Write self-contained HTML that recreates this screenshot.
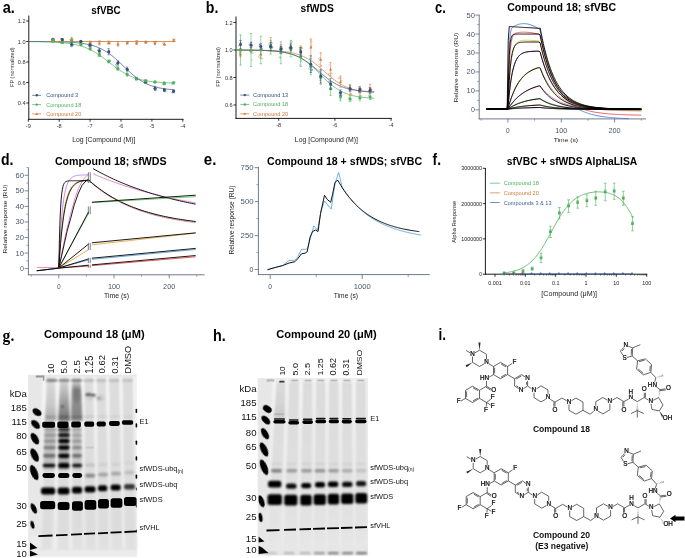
<!DOCTYPE html>
<html><head><meta charset="utf-8"><style>
html,body{margin:0;padding:0;background:#fff;}
svg{display:block;font-family:"Liberation Sans", sans-serif;will-change:transform;}
</style></head><body>
<svg width="685" height="558" viewBox="0 0 685 558">
<rect width="685" height="558" fill="#fff"/>
<text x="2.80" y="12.85" font-size="15.65" font-weight="bold" fill="#000" textLength="12.09" lengthAdjust="spacingAndGlyphs">a.</text>
<text x="205.80" y="12.85" font-size="16.48" font-weight="bold" fill="#000" textLength="12.58" lengthAdjust="spacingAndGlyphs">b.</text>
<text x="435.00" y="12.85" font-size="15.65" font-weight="bold" fill="#000" textLength="10.79" lengthAdjust="spacingAndGlyphs">c.</text>
<text x="0.90" y="165.30" font-size="15.86" font-weight="bold" fill="#000" textLength="12.48" lengthAdjust="spacingAndGlyphs">d.</text>
<text x="203.80" y="164.90" font-size="16.85" font-weight="bold" fill="#000" textLength="12.58" lengthAdjust="spacingAndGlyphs">e.</text>
<text x="432.60" y="164.60" font-size="16.55" font-weight="bold" fill="#000" textLength="8.51" lengthAdjust="spacingAndGlyphs">f.</text>
<text x="2.60" y="340.80" font-size="15.92" font-weight="bold" font-family="Liberation Serif, serif" fill="#000" textLength="11.70" lengthAdjust="spacingAndGlyphs">g.</text>
<text x="212.90" y="341.10" font-size="16.55" font-weight="bold" fill="#000" textLength="12.78" lengthAdjust="spacingAndGlyphs">h.</text>
<text x="438.50" y="340.10" font-size="15.72" font-weight="bold" fill="#000" textLength="7.51" lengthAdjust="spacingAndGlyphs">i.</text>
<text x="91.20" y="13.50" font-size="10.48" font-weight="bold" fill="#000" textLength="29.51" lengthAdjust="spacingAndGlyphs">sfVBC</text>
<text x="300.60" y="12.10" font-size="11.03" font-weight="bold" fill="#000" textLength="33.22" lengthAdjust="spacingAndGlyphs">sfWDS</text>
<text x="507.20" y="11.30" font-size="10.62" font-weight="bold" fill="#000" textLength="108.88" lengthAdjust="spacingAndGlyphs">Compound 18; sfVBC</text>
<text x="54.90" y="164.60" font-size="11.03" font-weight="bold" fill="#000" textLength="111.60" lengthAdjust="spacingAndGlyphs">Compound 18; sfWDS</text>
<text x="267.10" y="165.00" font-size="11.03" font-weight="bold" fill="#000" textLength="155.00" lengthAdjust="spacingAndGlyphs">Compound 18 + sfWDS; sfVBC</text>
<text x="506.70" y="165.20" font-size="11.03" font-weight="bold" fill="#000" textLength="130.59" lengthAdjust="spacingAndGlyphs">sfVBC + sfWDS AlphaLISA</text>
<text x="44.00" y="337.60" font-size="10.90" font-weight="bold" fill="#000" textLength="100.60" lengthAdjust="spacingAndGlyphs">Compound 18 (μM)</text>
<text x="276.20" y="338.10" font-size="10.90" font-weight="bold" fill="#000" textLength="100.60" lengthAdjust="spacingAndGlyphs">Compound 20 (μM)</text>
<line x1="28.80" y1="15.50" x2="28.80" y2="119.70" stroke="#000" stroke-width="0.9"/>
<line x1="28.40" y1="119.30" x2="183.60" y2="119.30" stroke="#000" stroke-width="0.9"/>
<line x1="26.20" y1="21.00" x2="28.80" y2="21.00" stroke="#000" stroke-width="0.8"/>
<text x="25.50" y="23.00" font-size="5.6" text-anchor="end" fill="#333">1.2</text>
<line x1="26.20" y1="41.50" x2="28.80" y2="41.50" stroke="#000" stroke-width="0.8"/>
<text x="25.50" y="43.50" font-size="5.6" text-anchor="end" fill="#333">1.0</text>
<line x1="26.20" y1="62.00" x2="28.80" y2="62.00" stroke="#000" stroke-width="0.8"/>
<text x="25.50" y="64.00" font-size="5.6" text-anchor="end" fill="#333">0.8</text>
<line x1="26.20" y1="82.50" x2="28.80" y2="82.50" stroke="#000" stroke-width="0.8"/>
<text x="25.50" y="84.50" font-size="5.6" text-anchor="end" fill="#333">0.6</text>
<line x1="26.20" y1="103.00" x2="28.80" y2="103.00" stroke="#000" stroke-width="0.8"/>
<text x="25.50" y="105.00" font-size="5.6" text-anchor="end" fill="#333">0.4</text>
<line x1="28.30" y1="119.30" x2="28.30" y2="121.70" stroke="#000" stroke-width="0.8"/>
<text x="28.30" y="127.80" font-size="5.6" text-anchor="middle" fill="#333">-9</text>
<line x1="59.20" y1="119.30" x2="59.20" y2="121.70" stroke="#000" stroke-width="0.8"/>
<text x="59.20" y="127.80" font-size="5.6" text-anchor="middle" fill="#333">-8</text>
<line x1="90.10" y1="119.30" x2="90.10" y2="121.70" stroke="#000" stroke-width="0.8"/>
<text x="90.10" y="127.80" font-size="5.6" text-anchor="middle" fill="#333">-7</text>
<line x1="121.00" y1="119.30" x2="121.00" y2="121.70" stroke="#000" stroke-width="0.8"/>
<text x="121.00" y="127.80" font-size="5.6" text-anchor="middle" fill="#333">-6</text>
<line x1="151.90" y1="119.30" x2="151.90" y2="121.70" stroke="#000" stroke-width="0.8"/>
<text x="151.90" y="127.80" font-size="5.6" text-anchor="middle" fill="#333">-5</text>
<line x1="182.80" y1="119.30" x2="182.80" y2="121.70" stroke="#000" stroke-width="0.8"/>
<text x="182.80" y="127.80" font-size="5.6" text-anchor="middle" fill="#333">-4</text>
<text x="14.40" y="67.20" font-size="5.6" text-anchor="middle" fill="#333" transform="rotate(-90 14.4 67.2)">FP (normalized)</text>
<text x="72.20" y="142.10" font-size="7.59" fill="#222" textLength="63.21" lengthAdjust="spacingAndGlyphs">Log [Compound (M)]</text>
<path d="M28.30,41.60 L30.12,41.61 L31.93,41.63 L33.75,41.65 L35.56,41.67 L37.38,41.70 L39.19,41.72 L41.01,41.76 L42.82,41.79 L44.64,41.84 L46.45,41.88 L48.27,41.94 L50.08,42.00 L51.90,42.07 L53.72,42.16 L55.53,42.25 L57.35,42.36 L59.16,42.48 L60.98,42.61 L62.79,42.77 L64.61,42.95 L66.42,43.15 L68.24,43.38 L70.05,43.64 L71.87,43.93 L73.68,44.26 L75.50,44.63 L77.32,45.04 L79.13,45.51 L80.95,46.02 L82.76,46.60 L84.58,47.24 L86.39,47.94 L88.21,48.71 L90.02,49.55 L91.84,50.47 L93.65,51.46 L95.47,52.52 L97.28,53.65 L99.10,54.85 L100.91,56.11 L102.73,57.42 L104.55,58.78 L106.36,60.16 L108.18,61.57 L109.99,62.98 L111.81,64.39 L113.62,65.78 L115.44,67.14 L117.25,68.46 L119.07,69.73 L120.88,70.94 L122.70,72.09 L124.51,73.16 L126.33,74.17 L128.15,75.10 L129.96,75.95 L131.78,76.74 L133.59,77.46 L135.41,78.10 L137.22,78.69 L139.04,79.22 L140.85,79.69 L142.67,80.12 L144.48,80.50 L146.30,80.83 L148.11,81.13 L149.93,81.39 L151.75,81.63 L153.56,81.83 L155.38,82.02 L157.19,82.18 L159.01,82.32 L160.82,82.44 L162.64,82.55 L164.45,82.65 L166.27,82.73 L168.08,82.80 L169.90,82.87 L171.71,82.93 L173.53,82.98" stroke="#4cb05a" stroke-width="0.7" fill="none"/>
<path d="M28.30,41.53 L30.12,41.53 L31.93,41.54 L33.75,41.54 L35.56,41.55 L37.38,41.56 L39.19,41.57 L41.01,41.58 L42.82,41.59 L44.64,41.60 L46.45,41.62 L48.27,41.64 L50.08,41.66 L51.90,41.68 L53.72,41.71 L55.53,41.74 L57.35,41.78 L59.16,41.82 L60.98,41.87 L62.79,41.92 L64.61,41.99 L66.42,42.06 L68.24,42.14 L70.05,42.24 L71.87,42.35 L73.68,42.48 L75.50,42.63 L77.32,42.79 L79.13,42.99 L80.95,43.20 L82.76,43.45 L84.58,43.74 L86.39,44.06 L88.21,44.43 L90.02,44.85 L91.84,45.32 L93.65,45.85 L95.47,46.45 L97.28,47.12 L99.10,47.86 L100.91,48.69 L102.73,49.61 L104.55,50.62 L106.36,51.72 L108.18,52.92 L109.99,54.21 L111.81,55.59 L113.62,57.06 L115.44,58.61 L117.25,60.23 L119.07,61.90 L120.88,63.62 L122.70,65.36 L124.51,67.10 L126.33,68.84 L128.15,70.55 L129.96,72.21 L131.78,73.82 L133.59,75.36 L135.41,76.82 L137.22,78.19 L139.04,79.47 L140.85,80.65 L142.67,81.74 L144.48,82.73 L146.30,83.64 L148.11,84.45 L149.93,85.19 L151.75,85.85 L153.56,86.43 L155.38,86.95 L157.19,87.42 L159.01,87.83 L160.82,88.19 L162.64,88.51 L164.45,88.79 L166.27,89.03 L168.08,89.24 L169.90,89.43 L171.71,89.60 L173.53,89.74" stroke="#34507f" stroke-width="0.7" fill="none"/>
<path d="M47.50,41.50 L175.50,41.50" stroke="#d0773a" stroke-width="0.8" fill="none"/>
<line x1="53.02" y1="38.42" x2="53.02" y2="40.48" stroke="#d0773a" stroke-width="0.55"/>
<line x1="51.82" y1="38.42" x2="54.22" y2="38.42" stroke="#d0773a" stroke-width="0.55"/>
<line x1="51.82" y1="40.48" x2="54.22" y2="40.48" stroke="#d0773a" stroke-width="0.55"/>
<circle cx="52.18" cy="39.37" r="0.9" fill="none" stroke="#d0773a" stroke-width="0.45" opacity="0.8"/>
<circle cx="52.60" cy="39.26" r="0.6" fill="#d0773a" opacity="0.75"/>
<circle cx="53.42" cy="40.25" r="0.6" fill="#d0773a" opacity="0.75"/>
<path d="M51.52,40.65 L54.52,40.65 L53.02,38.05Z" fill="#d0773a"/>
<line x1="62.29" y1="40.48" x2="62.29" y2="42.52" stroke="#d0773a" stroke-width="0.55"/>
<line x1="61.09" y1="40.48" x2="63.49" y2="40.48" stroke="#d0773a" stroke-width="0.55"/>
<line x1="61.09" y1="42.52" x2="63.49" y2="42.52" stroke="#d0773a" stroke-width="0.55"/>
<circle cx="60.73" cy="40.88" r="0.9" fill="none" stroke="#d0773a" stroke-width="0.45" opacity="0.8"/>
<circle cx="61.52" cy="41.99" r="0.6" fill="#d0773a" opacity="0.75"/>
<circle cx="63.88" cy="41.55" r="0.6" fill="#d0773a" opacity="0.75"/>
<path d="M60.79,42.70 L63.79,42.70 L62.29,40.10Z" fill="#d0773a"/>
<line x1="71.56" y1="37.40" x2="71.56" y2="41.50" stroke="#d0773a" stroke-width="0.55"/>
<line x1="70.36" y1="37.40" x2="72.76" y2="37.40" stroke="#d0773a" stroke-width="0.55"/>
<line x1="70.36" y1="41.50" x2="72.76" y2="41.50" stroke="#d0773a" stroke-width="0.55"/>
<circle cx="72.64" cy="39.54" r="0.9" fill="none" stroke="#d0773a" stroke-width="0.45" opacity="0.8"/>
<circle cx="72.01" cy="40.74" r="0.6" fill="#d0773a" opacity="0.75"/>
<circle cx="71.99" cy="38.09" r="0.6" fill="#d0773a" opacity="0.75"/>
<path d="M70.06,40.65 L73.06,40.65 L71.56,38.05Z" fill="#d0773a"/>
<line x1="80.83" y1="40.48" x2="80.83" y2="42.52" stroke="#d0773a" stroke-width="0.55"/>
<line x1="79.63" y1="40.48" x2="82.03" y2="40.48" stroke="#d0773a" stroke-width="0.55"/>
<line x1="79.63" y1="42.52" x2="82.03" y2="42.52" stroke="#d0773a" stroke-width="0.55"/>
<circle cx="80.90" cy="41.05" r="0.9" fill="none" stroke="#d0773a" stroke-width="0.45" opacity="0.8"/>
<circle cx="81.38" cy="42.30" r="0.6" fill="#d0773a" opacity="0.75"/>
<circle cx="81.66" cy="41.33" r="0.6" fill="#d0773a" opacity="0.75"/>
<path d="M79.33,42.70 L82.33,42.70 L80.83,40.10Z" fill="#d0773a"/>
<line x1="90.10" y1="40.99" x2="90.10" y2="44.06" stroke="#d0773a" stroke-width="0.55"/>
<line x1="88.90" y1="40.99" x2="91.30" y2="40.99" stroke="#d0773a" stroke-width="0.55"/>
<line x1="88.90" y1="44.06" x2="91.30" y2="44.06" stroke="#d0773a" stroke-width="0.55"/>
<circle cx="89.46" cy="43.82" r="0.9" fill="none" stroke="#d0773a" stroke-width="0.45" opacity="0.8"/>
<circle cx="91.27" cy="42.60" r="0.6" fill="#d0773a" opacity="0.75"/>
<circle cx="90.80" cy="41.48" r="0.6" fill="#d0773a" opacity="0.75"/>
<path d="M88.60,43.73 L91.60,43.73 L90.10,41.12Z" fill="#d0773a"/>
<line x1="99.37" y1="40.99" x2="99.37" y2="45.09" stroke="#d0773a" stroke-width="0.55"/>
<line x1="98.17" y1="40.99" x2="100.57" y2="40.99" stroke="#d0773a" stroke-width="0.55"/>
<line x1="98.17" y1="45.09" x2="100.57" y2="45.09" stroke="#d0773a" stroke-width="0.55"/>
<circle cx="100.06" cy="41.48" r="0.9" fill="none" stroke="#d0773a" stroke-width="0.45" opacity="0.8"/>
<circle cx="99.03" cy="41.93" r="0.6" fill="#d0773a" opacity="0.75"/>
<circle cx="99.19" cy="41.43" r="0.6" fill="#d0773a" opacity="0.75"/>
<path d="M97.87,44.24 L100.87,44.24 L99.37,41.64Z" fill="#d0773a"/>
<line x1="108.64" y1="40.99" x2="108.64" y2="44.06" stroke="#d0773a" stroke-width="0.55"/>
<line x1="107.44" y1="40.99" x2="109.84" y2="40.99" stroke="#d0773a" stroke-width="0.55"/>
<line x1="107.44" y1="44.06" x2="109.84" y2="44.06" stroke="#d0773a" stroke-width="0.55"/>
<circle cx="109.85" cy="43.64" r="0.9" fill="none" stroke="#d0773a" stroke-width="0.45" opacity="0.8"/>
<circle cx="107.48" cy="43.31" r="0.6" fill="#d0773a" opacity="0.75"/>
<circle cx="110.13" cy="42.70" r="0.6" fill="#d0773a" opacity="0.75"/>
<path d="M107.14,43.73 L110.14,43.73 L108.64,41.12Z" fill="#d0773a"/>
<line x1="117.91" y1="42.01" x2="117.91" y2="46.11" stroke="#d0773a" stroke-width="0.55"/>
<line x1="116.71" y1="42.01" x2="119.11" y2="42.01" stroke="#d0773a" stroke-width="0.55"/>
<line x1="116.71" y1="46.11" x2="119.11" y2="46.11" stroke="#d0773a" stroke-width="0.55"/>
<circle cx="118.32" cy="44.80" r="0.9" fill="none" stroke="#d0773a" stroke-width="0.45" opacity="0.8"/>
<circle cx="117.93" cy="44.48" r="0.6" fill="#d0773a" opacity="0.75"/>
<circle cx="117.43" cy="43.75" r="0.6" fill="#d0773a" opacity="0.75"/>
<path d="M116.41,45.26 L119.41,45.26 L117.91,42.66Z" fill="#d0773a"/>
<line x1="127.18" y1="42.01" x2="127.18" y2="44.06" stroke="#d0773a" stroke-width="0.55"/>
<line x1="125.98" y1="42.01" x2="128.38" y2="42.01" stroke="#d0773a" stroke-width="0.55"/>
<line x1="125.98" y1="44.06" x2="128.38" y2="44.06" stroke="#d0773a" stroke-width="0.55"/>
<circle cx="127.45" cy="42.29" r="0.9" fill="none" stroke="#d0773a" stroke-width="0.45" opacity="0.8"/>
<circle cx="127.76" cy="42.25" r="0.6" fill="#d0773a" opacity="0.75"/>
<circle cx="128.32" cy="42.13" r="0.6" fill="#d0773a" opacity="0.75"/>
<path d="M125.68,44.24 L128.68,44.24 L127.18,41.64Z" fill="#d0773a"/>
<line x1="136.45" y1="40.48" x2="136.45" y2="44.58" stroke="#d0773a" stroke-width="0.55"/>
<line x1="135.25" y1="40.48" x2="137.65" y2="40.48" stroke="#d0773a" stroke-width="0.55"/>
<line x1="135.25" y1="44.58" x2="137.65" y2="44.58" stroke="#d0773a" stroke-width="0.55"/>
<circle cx="137.00" cy="43.77" r="0.9" fill="none" stroke="#d0773a" stroke-width="0.45" opacity="0.8"/>
<circle cx="137.60" cy="40.81" r="0.6" fill="#d0773a" opacity="0.75"/>
<circle cx="137.75" cy="42.27" r="0.6" fill="#d0773a" opacity="0.75"/>
<path d="M134.95,43.73 L137.95,43.73 L136.45,41.12Z" fill="#d0773a"/>
<line x1="145.72" y1="40.99" x2="145.72" y2="43.04" stroke="#d0773a" stroke-width="0.55"/>
<line x1="144.52" y1="40.99" x2="146.92" y2="40.99" stroke="#d0773a" stroke-width="0.55"/>
<line x1="144.52" y1="43.04" x2="146.92" y2="43.04" stroke="#d0773a" stroke-width="0.55"/>
<circle cx="146.40" cy="42.55" r="0.9" fill="none" stroke="#d0773a" stroke-width="0.45" opacity="0.8"/>
<circle cx="146.78" cy="41.88" r="0.6" fill="#d0773a" opacity="0.75"/>
<circle cx="145.03" cy="42.82" r="0.6" fill="#d0773a" opacity="0.75"/>
<path d="M144.22,43.21 L147.22,43.21 L145.72,40.61Z" fill="#d0773a"/>
<line x1="154.99" y1="41.50" x2="154.99" y2="44.58" stroke="#d0773a" stroke-width="0.55"/>
<line x1="153.79" y1="41.50" x2="156.19" y2="41.50" stroke="#d0773a" stroke-width="0.55"/>
<line x1="153.79" y1="44.58" x2="156.19" y2="44.58" stroke="#d0773a" stroke-width="0.55"/>
<circle cx="156.12" cy="41.68" r="0.9" fill="none" stroke="#d0773a" stroke-width="0.45" opacity="0.8"/>
<circle cx="153.67" cy="42.21" r="0.6" fill="#d0773a" opacity="0.75"/>
<circle cx="154.70" cy="44.00" r="0.6" fill="#d0773a" opacity="0.75"/>
<path d="M153.49,44.24 L156.49,44.24 L154.99,41.64Z" fill="#d0773a"/>
<line x1="164.26" y1="43.04" x2="164.26" y2="45.09" stroke="#d0773a" stroke-width="0.55"/>
<line x1="163.06" y1="43.04" x2="165.46" y2="43.04" stroke="#d0773a" stroke-width="0.55"/>
<line x1="163.06" y1="45.09" x2="165.46" y2="45.09" stroke="#d0773a" stroke-width="0.55"/>
<circle cx="163.60" cy="43.57" r="0.9" fill="none" stroke="#d0773a" stroke-width="0.45" opacity="0.8"/>
<circle cx="165.45" cy="44.90" r="0.6" fill="#d0773a" opacity="0.75"/>
<circle cx="164.63" cy="44.90" r="0.6" fill="#d0773a" opacity="0.75"/>
<path d="M162.76,45.26 L165.76,45.26 L164.26,42.66Z" fill="#d0773a"/>
<line x1="173.53" y1="39.24" x2="173.53" y2="41.70" stroke="#d0773a" stroke-width="0.55"/>
<line x1="172.33" y1="39.24" x2="174.73" y2="39.24" stroke="#d0773a" stroke-width="0.55"/>
<line x1="172.33" y1="41.70" x2="174.73" y2="41.70" stroke="#d0773a" stroke-width="0.55"/>
<circle cx="174.23" cy="40.85" r="0.9" fill="none" stroke="#d0773a" stroke-width="0.45" opacity="0.8"/>
<circle cx="174.75" cy="39.41" r="0.6" fill="#d0773a" opacity="0.75"/>
<circle cx="173.55" cy="39.37" r="0.6" fill="#d0773a" opacity="0.75"/>
<path d="M172.03,41.68 L175.03,41.68 L173.53,39.08Z" fill="#d0773a"/>
<line x1="53.02" y1="38.42" x2="53.02" y2="40.48" stroke="#34507f" stroke-width="0.55"/>
<line x1="51.82" y1="38.42" x2="54.22" y2="38.42" stroke="#34507f" stroke-width="0.55"/>
<line x1="51.82" y1="40.48" x2="54.22" y2="40.48" stroke="#34507f" stroke-width="0.55"/>
<circle cx="52.41" cy="40.23" r="0.9" fill="none" stroke="#34507f" stroke-width="0.45" opacity="0.8"/>
<circle cx="53.34" cy="40.31" r="0.6" fill="#34507f" opacity="0.75"/>
<circle cx="52.05" cy="39.62" r="0.6" fill="#34507f" opacity="0.75"/>
<circle cx="53.02" cy="39.45" r="1.5" fill="#34507f"/>
<line x1="62.29" y1="38.42" x2="62.29" y2="40.48" stroke="#34507f" stroke-width="0.55"/>
<line x1="61.09" y1="38.42" x2="63.49" y2="38.42" stroke="#34507f" stroke-width="0.55"/>
<line x1="61.09" y1="40.48" x2="63.49" y2="40.48" stroke="#34507f" stroke-width="0.55"/>
<circle cx="62.64" cy="40.08" r="0.9" fill="none" stroke="#34507f" stroke-width="0.45" opacity="0.8"/>
<circle cx="60.83" cy="38.77" r="0.6" fill="#34507f" opacity="0.75"/>
<circle cx="61.69" cy="38.60" r="0.6" fill="#34507f" opacity="0.75"/>
<circle cx="62.29" cy="39.45" r="1.5" fill="#34507f"/>
<line x1="71.56" y1="42.52" x2="71.56" y2="46.63" stroke="#34507f" stroke-width="0.55"/>
<line x1="70.36" y1="42.52" x2="72.76" y2="42.52" stroke="#34507f" stroke-width="0.55"/>
<line x1="70.36" y1="46.63" x2="72.76" y2="46.63" stroke="#34507f" stroke-width="0.55"/>
<circle cx="72.83" cy="45.03" r="0.9" fill="none" stroke="#34507f" stroke-width="0.45" opacity="0.8"/>
<circle cx="71.43" cy="44.50" r="0.6" fill="#34507f" opacity="0.75"/>
<circle cx="72.02" cy="44.22" r="0.6" fill="#34507f" opacity="0.75"/>
<circle cx="71.56" cy="44.58" r="1.5" fill="#34507f"/>
<line x1="80.83" y1="40.48" x2="80.83" y2="42.52" stroke="#34507f" stroke-width="0.55"/>
<line x1="79.63" y1="40.48" x2="82.03" y2="40.48" stroke="#34507f" stroke-width="0.55"/>
<line x1="79.63" y1="42.52" x2="82.03" y2="42.52" stroke="#34507f" stroke-width="0.55"/>
<circle cx="81.02" cy="41.28" r="0.9" fill="none" stroke="#34507f" stroke-width="0.45" opacity="0.8"/>
<circle cx="82.24" cy="41.49" r="0.6" fill="#34507f" opacity="0.75"/>
<circle cx="80.61" cy="41.09" r="0.6" fill="#34507f" opacity="0.75"/>
<circle cx="80.83" cy="41.50" r="1.5" fill="#34507f"/>
<line x1="90.10" y1="43.65" x2="90.10" y2="46.73" stroke="#34507f" stroke-width="0.55"/>
<line x1="88.90" y1="43.65" x2="91.30" y2="43.65" stroke="#34507f" stroke-width="0.55"/>
<line x1="88.90" y1="46.73" x2="91.30" y2="46.73" stroke="#34507f" stroke-width="0.55"/>
<circle cx="89.26" cy="45.74" r="0.9" fill="none" stroke="#34507f" stroke-width="0.45" opacity="0.8"/>
<circle cx="91.63" cy="45.13" r="0.6" fill="#34507f" opacity="0.75"/>
<circle cx="90.25" cy="46.54" r="0.6" fill="#34507f" opacity="0.75"/>
<circle cx="90.10" cy="45.19" r="1.5" fill="#34507f"/>
<line x1="99.37" y1="48.67" x2="99.37" y2="52.77" stroke="#34507f" stroke-width="0.55"/>
<line x1="98.17" y1="48.67" x2="100.57" y2="48.67" stroke="#34507f" stroke-width="0.55"/>
<line x1="98.17" y1="52.77" x2="100.57" y2="52.77" stroke="#34507f" stroke-width="0.55"/>
<circle cx="99.10" cy="50.43" r="0.9" fill="none" stroke="#34507f" stroke-width="0.45" opacity="0.8"/>
<circle cx="97.83" cy="50.30" r="0.6" fill="#34507f" opacity="0.75"/>
<circle cx="99.79" cy="52.35" r="0.6" fill="#34507f" opacity="0.75"/>
<circle cx="99.37" cy="50.72" r="1.5" fill="#34507f"/>
<line x1="108.64" y1="48.67" x2="108.64" y2="54.83" stroke="#34507f" stroke-width="0.55"/>
<line x1="107.44" y1="48.67" x2="109.84" y2="48.67" stroke="#34507f" stroke-width="0.55"/>
<line x1="107.44" y1="54.83" x2="109.84" y2="54.83" stroke="#34507f" stroke-width="0.55"/>
<circle cx="109.05" cy="51.94" r="0.9" fill="none" stroke="#34507f" stroke-width="0.45" opacity="0.8"/>
<circle cx="109.21" cy="52.57" r="0.6" fill="#34507f" opacity="0.75"/>
<circle cx="109.30" cy="50.43" r="0.6" fill="#34507f" opacity="0.75"/>
<circle cx="108.64" cy="51.75" r="1.5" fill="#34507f"/>
<line x1="117.91" y1="60.97" x2="117.91" y2="65.08" stroke="#34507f" stroke-width="0.55"/>
<line x1="116.71" y1="60.97" x2="119.11" y2="60.97" stroke="#34507f" stroke-width="0.55"/>
<line x1="116.71" y1="65.08" x2="119.11" y2="65.08" stroke="#34507f" stroke-width="0.55"/>
<circle cx="116.38" cy="64.65" r="0.9" fill="none" stroke="#34507f" stroke-width="0.45" opacity="0.8"/>
<circle cx="118.47" cy="61.32" r="0.6" fill="#34507f" opacity="0.75"/>
<circle cx="117.11" cy="63.19" r="0.6" fill="#34507f" opacity="0.75"/>
<circle cx="117.91" cy="63.02" r="1.5" fill="#34507f"/>
<line x1="127.18" y1="67.12" x2="127.18" y2="71.23" stroke="#34507f" stroke-width="0.55"/>
<line x1="125.98" y1="67.12" x2="128.38" y2="67.12" stroke="#34507f" stroke-width="0.55"/>
<line x1="125.98" y1="71.23" x2="128.38" y2="71.23" stroke="#34507f" stroke-width="0.55"/>
<circle cx="127.48" cy="69.84" r="0.9" fill="none" stroke="#34507f" stroke-width="0.45" opacity="0.8"/>
<circle cx="126.74" cy="69.87" r="0.6" fill="#34507f" opacity="0.75"/>
<circle cx="126.76" cy="68.82" r="0.6" fill="#34507f" opacity="0.75"/>
<circle cx="127.18" cy="69.17" r="1.5" fill="#34507f"/>
<line x1="136.45" y1="77.38" x2="136.45" y2="79.42" stroke="#34507f" stroke-width="0.55"/>
<line x1="135.25" y1="77.38" x2="137.65" y2="77.38" stroke="#34507f" stroke-width="0.55"/>
<line x1="135.25" y1="79.42" x2="137.65" y2="79.42" stroke="#34507f" stroke-width="0.55"/>
<circle cx="135.81" cy="78.63" r="0.9" fill="none" stroke="#34507f" stroke-width="0.45" opacity="0.8"/>
<circle cx="137.32" cy="79.27" r="0.6" fill="#34507f" opacity="0.75"/>
<circle cx="136.67" cy="77.97" r="0.6" fill="#34507f" opacity="0.75"/>
<circle cx="136.45" cy="78.40" r="1.5" fill="#34507f"/>
<line x1="145.72" y1="81.06" x2="145.72" y2="83.11" stroke="#34507f" stroke-width="0.55"/>
<line x1="144.52" y1="81.06" x2="146.92" y2="81.06" stroke="#34507f" stroke-width="0.55"/>
<line x1="144.52" y1="83.11" x2="146.92" y2="83.11" stroke="#34507f" stroke-width="0.55"/>
<circle cx="145.11" cy="82.60" r="0.9" fill="none" stroke="#34507f" stroke-width="0.45" opacity="0.8"/>
<circle cx="146.69" cy="82.57" r="0.6" fill="#34507f" opacity="0.75"/>
<circle cx="144.72" cy="82.21" r="0.6" fill="#34507f" opacity="0.75"/>
<circle cx="145.72" cy="82.09" r="1.5" fill="#34507f"/>
<line x1="154.99" y1="86.29" x2="154.99" y2="90.39" stroke="#34507f" stroke-width="0.55"/>
<line x1="153.79" y1="86.29" x2="156.19" y2="86.29" stroke="#34507f" stroke-width="0.55"/>
<line x1="153.79" y1="90.39" x2="156.19" y2="90.39" stroke="#34507f" stroke-width="0.55"/>
<circle cx="155.62" cy="89.81" r="0.9" fill="none" stroke="#34507f" stroke-width="0.45" opacity="0.8"/>
<circle cx="154.42" cy="88.96" r="0.6" fill="#34507f" opacity="0.75"/>
<circle cx="156.06" cy="88.57" r="0.6" fill="#34507f" opacity="0.75"/>
<circle cx="154.99" cy="88.34" r="1.5" fill="#34507f"/>
<line x1="164.26" y1="88.44" x2="164.26" y2="91.52" stroke="#34507f" stroke-width="0.55"/>
<line x1="163.06" y1="88.44" x2="165.46" y2="88.44" stroke="#34507f" stroke-width="0.55"/>
<line x1="163.06" y1="91.52" x2="165.46" y2="91.52" stroke="#34507f" stroke-width="0.55"/>
<circle cx="165.40" cy="90.90" r="0.9" fill="none" stroke="#34507f" stroke-width="0.45" opacity="0.8"/>
<circle cx="163.74" cy="89.57" r="0.6" fill="#34507f" opacity="0.75"/>
<circle cx="165.49" cy="90.12" r="0.6" fill="#34507f" opacity="0.75"/>
<circle cx="164.26" cy="89.98" r="1.5" fill="#34507f"/>
<line x1="173.53" y1="89.67" x2="173.53" y2="92.75" stroke="#34507f" stroke-width="0.55"/>
<line x1="172.33" y1="89.67" x2="174.73" y2="89.67" stroke="#34507f" stroke-width="0.55"/>
<line x1="172.33" y1="92.75" x2="174.73" y2="92.75" stroke="#34507f" stroke-width="0.55"/>
<circle cx="172.65" cy="92.26" r="0.9" fill="none" stroke="#34507f" stroke-width="0.45" opacity="0.8"/>
<circle cx="173.62" cy="92.07" r="0.6" fill="#34507f" opacity="0.75"/>
<circle cx="174.51" cy="90.28" r="0.6" fill="#34507f" opacity="0.75"/>
<circle cx="173.53" cy="91.21" r="1.5" fill="#34507f"/>
<line x1="53.02" y1="38.42" x2="53.02" y2="42.52" stroke="#4cb05a" stroke-width="0.55"/>
<line x1="51.82" y1="38.42" x2="54.22" y2="38.42" stroke="#4cb05a" stroke-width="0.55"/>
<line x1="51.82" y1="42.52" x2="54.22" y2="42.52" stroke="#4cb05a" stroke-width="0.55"/>
<circle cx="52.01" cy="41.29" r="0.9" fill="none" stroke="#4cb05a" stroke-width="0.45" opacity="0.8"/>
<circle cx="54.00" cy="39.95" r="0.6" fill="#4cb05a" opacity="0.75"/>
<circle cx="54.00" cy="41.05" r="0.6" fill="#4cb05a" opacity="0.75"/>
<circle cx="53.02" cy="40.48" r="1.5" fill="#4cb05a"/>
<line x1="62.29" y1="41.50" x2="62.29" y2="43.55" stroke="#4cb05a" stroke-width="0.55"/>
<line x1="61.09" y1="41.50" x2="63.49" y2="41.50" stroke="#4cb05a" stroke-width="0.55"/>
<line x1="61.09" y1="43.55" x2="63.49" y2="43.55" stroke="#4cb05a" stroke-width="0.55"/>
<circle cx="61.11" cy="42.91" r="0.9" fill="none" stroke="#4cb05a" stroke-width="0.45" opacity="0.8"/>
<circle cx="63.23" cy="42.95" r="0.6" fill="#4cb05a" opacity="0.75"/>
<circle cx="61.80" cy="42.68" r="0.6" fill="#4cb05a" opacity="0.75"/>
<circle cx="62.29" cy="42.52" r="1.5" fill="#4cb05a"/>
<line x1="71.56" y1="38.94" x2="71.56" y2="42.01" stroke="#4cb05a" stroke-width="0.55"/>
<line x1="70.36" y1="38.94" x2="72.76" y2="38.94" stroke="#4cb05a" stroke-width="0.55"/>
<line x1="70.36" y1="42.01" x2="72.76" y2="42.01" stroke="#4cb05a" stroke-width="0.55"/>
<circle cx="71.30" cy="40.73" r="0.9" fill="none" stroke="#4cb05a" stroke-width="0.45" opacity="0.8"/>
<circle cx="72.91" cy="41.43" r="0.6" fill="#4cb05a" opacity="0.75"/>
<circle cx="69.97" cy="39.25" r="0.6" fill="#4cb05a" opacity="0.75"/>
<circle cx="71.56" cy="40.48" r="1.5" fill="#4cb05a"/>
<line x1="80.83" y1="43.55" x2="80.83" y2="45.60" stroke="#4cb05a" stroke-width="0.55"/>
<line x1="79.63" y1="43.55" x2="82.03" y2="43.55" stroke="#4cb05a" stroke-width="0.55"/>
<line x1="79.63" y1="45.60" x2="82.03" y2="45.60" stroke="#4cb05a" stroke-width="0.55"/>
<circle cx="82.05" cy="43.68" r="0.9" fill="none" stroke="#4cb05a" stroke-width="0.45" opacity="0.8"/>
<circle cx="80.62" cy="43.74" r="0.6" fill="#4cb05a" opacity="0.75"/>
<circle cx="82.20" cy="45.09" r="0.6" fill="#4cb05a" opacity="0.75"/>
<circle cx="80.83" cy="44.58" r="1.5" fill="#4cb05a"/>
<line x1="90.10" y1="47.14" x2="90.10" y2="50.21" stroke="#4cb05a" stroke-width="0.55"/>
<line x1="88.90" y1="47.14" x2="91.30" y2="47.14" stroke="#4cb05a" stroke-width="0.55"/>
<line x1="88.90" y1="50.21" x2="91.30" y2="50.21" stroke="#4cb05a" stroke-width="0.55"/>
<circle cx="90.89" cy="47.74" r="0.9" fill="none" stroke="#4cb05a" stroke-width="0.45" opacity="0.8"/>
<circle cx="90.62" cy="48.62" r="0.6" fill="#4cb05a" opacity="0.75"/>
<circle cx="89.42" cy="49.11" r="0.6" fill="#4cb05a" opacity="0.75"/>
<circle cx="90.10" cy="48.67" r="1.5" fill="#4cb05a"/>
<line x1="99.37" y1="52.47" x2="99.37" y2="56.57" stroke="#4cb05a" stroke-width="0.55"/>
<line x1="98.17" y1="52.47" x2="100.57" y2="52.47" stroke="#4cb05a" stroke-width="0.55"/>
<line x1="98.17" y1="56.57" x2="100.57" y2="56.57" stroke="#4cb05a" stroke-width="0.55"/>
<circle cx="98.50" cy="56.11" r="0.9" fill="none" stroke="#4cb05a" stroke-width="0.45" opacity="0.8"/>
<circle cx="99.65" cy="55.30" r="0.6" fill="#4cb05a" opacity="0.75"/>
<circle cx="100.36" cy="56.20" r="0.6" fill="#4cb05a" opacity="0.75"/>
<circle cx="99.37" cy="54.52" r="1.5" fill="#4cb05a"/>
<line x1="108.64" y1="59.95" x2="108.64" y2="63.02" stroke="#4cb05a" stroke-width="0.55"/>
<line x1="107.44" y1="59.95" x2="109.84" y2="59.95" stroke="#4cb05a" stroke-width="0.55"/>
<line x1="107.44" y1="63.02" x2="109.84" y2="63.02" stroke="#4cb05a" stroke-width="0.55"/>
<circle cx="109.93" cy="60.95" r="0.9" fill="none" stroke="#4cb05a" stroke-width="0.45" opacity="0.8"/>
<circle cx="110.00" cy="60.39" r="0.6" fill="#4cb05a" opacity="0.75"/>
<circle cx="109.92" cy="61.27" r="0.6" fill="#4cb05a" opacity="0.75"/>
<circle cx="108.64" cy="61.49" r="1.5" fill="#4cb05a"/>
<line x1="117.91" y1="66.41" x2="117.91" y2="70.51" stroke="#4cb05a" stroke-width="0.55"/>
<line x1="116.71" y1="66.41" x2="119.11" y2="66.41" stroke="#4cb05a" stroke-width="0.55"/>
<line x1="116.71" y1="70.51" x2="119.11" y2="70.51" stroke="#4cb05a" stroke-width="0.55"/>
<circle cx="116.35" cy="67.55" r="0.9" fill="none" stroke="#4cb05a" stroke-width="0.45" opacity="0.8"/>
<circle cx="116.86" cy="69.20" r="0.6" fill="#4cb05a" opacity="0.75"/>
<circle cx="118.43" cy="68.37" r="0.6" fill="#4cb05a" opacity="0.75"/>
<circle cx="117.91" cy="68.46" r="1.5" fill="#4cb05a"/>
<line x1="127.18" y1="73.07" x2="127.18" y2="76.14" stroke="#4cb05a" stroke-width="0.55"/>
<line x1="125.98" y1="73.07" x2="128.38" y2="73.07" stroke="#4cb05a" stroke-width="0.55"/>
<line x1="125.98" y1="76.14" x2="128.38" y2="76.14" stroke="#4cb05a" stroke-width="0.55"/>
<circle cx="126.90" cy="73.39" r="0.9" fill="none" stroke="#4cb05a" stroke-width="0.45" opacity="0.8"/>
<circle cx="127.54" cy="75.05" r="0.6" fill="#4cb05a" opacity="0.75"/>
<circle cx="126.39" cy="73.61" r="0.6" fill="#4cb05a" opacity="0.75"/>
<circle cx="127.18" cy="74.61" r="1.5" fill="#4cb05a"/>
<line x1="136.45" y1="77.89" x2="136.45" y2="79.94" stroke="#4cb05a" stroke-width="0.55"/>
<line x1="135.25" y1="77.89" x2="137.65" y2="77.89" stroke="#4cb05a" stroke-width="0.55"/>
<line x1="135.25" y1="79.94" x2="137.65" y2="79.94" stroke="#4cb05a" stroke-width="0.55"/>
<circle cx="136.38" cy="78.39" r="0.9" fill="none" stroke="#4cb05a" stroke-width="0.45" opacity="0.8"/>
<circle cx="135.98" cy="79.47" r="0.6" fill="#4cb05a" opacity="0.75"/>
<circle cx="136.56" cy="78.33" r="0.6" fill="#4cb05a" opacity="0.75"/>
<circle cx="136.45" cy="78.91" r="1.5" fill="#4cb05a"/>
<line x1="145.72" y1="79.73" x2="145.72" y2="81.78" stroke="#4cb05a" stroke-width="0.55"/>
<line x1="144.52" y1="79.73" x2="146.92" y2="79.73" stroke="#4cb05a" stroke-width="0.55"/>
<line x1="144.52" y1="81.78" x2="146.92" y2="81.78" stroke="#4cb05a" stroke-width="0.55"/>
<circle cx="144.67" cy="80.22" r="0.9" fill="none" stroke="#4cb05a" stroke-width="0.45" opacity="0.8"/>
<circle cx="147.07" cy="80.19" r="0.6" fill="#4cb05a" opacity="0.75"/>
<circle cx="146.76" cy="81.67" r="0.6" fill="#4cb05a" opacity="0.75"/>
<circle cx="145.72" cy="80.76" r="1.5" fill="#4cb05a"/>
<line x1="154.99" y1="81.06" x2="154.99" y2="83.11" stroke="#4cb05a" stroke-width="0.55"/>
<line x1="153.79" y1="81.06" x2="156.19" y2="81.06" stroke="#4cb05a" stroke-width="0.55"/>
<line x1="153.79" y1="83.11" x2="156.19" y2="83.11" stroke="#4cb05a" stroke-width="0.55"/>
<circle cx="155.40" cy="81.42" r="0.9" fill="none" stroke="#4cb05a" stroke-width="0.45" opacity="0.8"/>
<circle cx="153.55" cy="82.51" r="0.6" fill="#4cb05a" opacity="0.75"/>
<circle cx="154.25" cy="82.04" r="0.6" fill="#4cb05a" opacity="0.75"/>
<circle cx="154.99" cy="82.09" r="1.5" fill="#4cb05a"/>
<line x1="164.26" y1="81.78" x2="164.26" y2="84.86" stroke="#4cb05a" stroke-width="0.55"/>
<line x1="163.06" y1="81.78" x2="165.46" y2="81.78" stroke="#4cb05a" stroke-width="0.55"/>
<line x1="163.06" y1="84.86" x2="165.46" y2="84.86" stroke="#4cb05a" stroke-width="0.55"/>
<circle cx="164.01" cy="83.39" r="0.9" fill="none" stroke="#4cb05a" stroke-width="0.45" opacity="0.8"/>
<circle cx="165.14" cy="84.70" r="0.6" fill="#4cb05a" opacity="0.75"/>
<circle cx="162.84" cy="84.35" r="0.6" fill="#4cb05a" opacity="0.75"/>
<circle cx="164.26" cy="83.32" r="1.5" fill="#4cb05a"/>
<line x1="173.53" y1="81.58" x2="173.53" y2="84.04" stroke="#4cb05a" stroke-width="0.55"/>
<line x1="172.33" y1="81.58" x2="174.73" y2="81.58" stroke="#4cb05a" stroke-width="0.55"/>
<line x1="172.33" y1="84.04" x2="174.73" y2="84.04" stroke="#4cb05a" stroke-width="0.55"/>
<circle cx="172.33" cy="83.76" r="0.9" fill="none" stroke="#4cb05a" stroke-width="0.45" opacity="0.8"/>
<circle cx="175.05" cy="82.02" r="0.6" fill="#4cb05a" opacity="0.75"/>
<circle cx="172.21" cy="82.80" r="0.6" fill="#4cb05a" opacity="0.75"/>
<circle cx="173.53" cy="82.81" r="1.5" fill="#4cb05a"/>
<line x1="32.20" y1="95.30" x2="41.00" y2="95.30" stroke="#34507f" stroke-width="0.7"/>
<circle cx="36.80" cy="95.30" r="1.2" fill="#34507f"/>
<text x="46.20" y="97.30" font-size="5.6" fill="#34507f">Compound 3</text>
<line x1="32.20" y1="104.60" x2="41.00" y2="104.60" stroke="#4cb05a" stroke-width="0.7"/>
<circle cx="36.80" cy="104.60" r="1.2" fill="#4cb05a"/>
<text x="46.20" y="106.60" font-size="5.6" fill="#4cb05a">Compound 18</text>
<line x1="32.20" y1="113.90" x2="41.00" y2="113.90" stroke="#d0773a" stroke-width="0.7"/>
<path d="M35.4,114.90 L38.2,114.90 L36.8,112.60Z" fill="#d0773a"/>
<text x="46.20" y="115.90" font-size="5.6" fill="#d0773a">Compound 20</text>
<line x1="236.00" y1="16.50" x2="236.00" y2="118.80" stroke="#000" stroke-width="0.9"/>
<line x1="235.60" y1="118.40" x2="391.80" y2="118.40" stroke="#000" stroke-width="0.9"/>
<line x1="233.40" y1="22.50" x2="236.00" y2="22.50" stroke="#000" stroke-width="0.8"/>
<text x="232.70" y="24.50" font-size="5.6" text-anchor="end" fill="#333">1.2</text>
<line x1="233.40" y1="50.00" x2="236.00" y2="50.00" stroke="#000" stroke-width="0.8"/>
<text x="232.70" y="52.00" font-size="5.6" text-anchor="end" fill="#333">1.0</text>
<line x1="233.40" y1="77.50" x2="236.00" y2="77.50" stroke="#000" stroke-width="0.8"/>
<text x="232.70" y="79.50" font-size="5.6" text-anchor="end" fill="#333">0.8</text>
<line x1="233.40" y1="105.00" x2="236.00" y2="105.00" stroke="#000" stroke-width="0.8"/>
<text x="232.70" y="107.00" font-size="5.6" text-anchor="end" fill="#333">0.6</text>
<line x1="278.70" y1="118.40" x2="278.70" y2="120.80" stroke="#000" stroke-width="0.8"/>
<text x="278.70" y="126.90" font-size="5.6" text-anchor="middle" fill="#333">-8</text>
<line x1="334.90" y1="118.40" x2="334.90" y2="120.80" stroke="#000" stroke-width="0.8"/>
<text x="334.90" y="126.90" font-size="5.6" text-anchor="middle" fill="#333">-6</text>
<line x1="391.10" y1="118.40" x2="391.10" y2="120.80" stroke="#000" stroke-width="0.8"/>
<text x="391.10" y="126.90" font-size="5.6" text-anchor="middle" fill="#333">-4</text>
<text x="219.50" y="67.00" font-size="5.6" text-anchor="middle" fill="#333" transform="rotate(-90 219.5 67)">FP (normalized)</text>
<text x="294.80" y="142.20" font-size="7.31" fill="#222" textLength="63.21" lengthAdjust="spacingAndGlyphs">Log [Compound (M)]</text>
<path d="M236.55,50.05 L238.27,50.06 L239.99,50.07 L241.71,50.08 L243.43,50.09 L245.16,50.10 L246.88,50.12 L248.60,50.14 L250.32,50.16 L252.04,50.18 L253.76,50.21 L255.48,50.24 L257.20,50.28 L258.92,50.32 L260.65,50.37 L262.37,50.42 L264.09,50.48 L265.81,50.56 L267.53,50.64 L269.25,50.73 L270.97,50.84 L272.69,50.97 L274.41,51.11 L276.14,51.28 L277.86,51.46 L279.58,51.68 L281.30,51.92 L283.02,52.20 L284.74,52.52 L286.46,52.87 L288.18,53.28 L289.90,53.74 L291.63,54.26 L293.35,54.84 L295.07,55.49 L296.79,56.21 L298.51,57.02 L300.23,57.91 L301.95,58.89 L303.67,59.96 L305.39,61.12 L307.12,62.38 L308.84,63.73 L310.56,65.16 L312.28,66.67 L314.00,68.25 L315.72,69.89 L317.44,71.57 L319.16,73.28 L320.89,75.00 L322.61,76.72 L324.33,78.41 L326.05,80.06 L327.77,81.66 L329.49,83.20 L331.21,84.65 L332.93,86.03 L334.65,87.31 L336.38,88.51 L338.10,89.61 L339.82,90.61 L341.54,91.53 L343.26,92.36 L344.98,93.11 L346.70,93.79 L348.42,94.39 L350.14,94.92 L351.87,95.40 L353.59,95.82 L355.31,96.19 L357.03,96.52 L358.75,96.81 L360.47,97.06 L362.19,97.29 L363.91,97.48 L365.63,97.65 L367.36,97.80 L369.08,97.93 L370.80,98.05 L372.52,98.15 L374.24,98.23" stroke="#4cb05a" stroke-width="0.7" fill="none"/>
<path d="M236.55,50.03 L238.27,50.04 L239.99,50.04 L241.71,50.05 L243.43,50.06 L245.16,50.06 L246.88,50.07 L248.60,50.09 L250.32,50.10 L252.04,50.11 L253.76,50.13 L255.48,50.15 L257.20,50.17 L258.92,50.20 L260.65,50.23 L262.37,50.26 L264.09,50.30 L265.81,50.35 L267.53,50.40 L269.25,50.46 L270.97,50.53 L272.69,50.61 L274.41,50.70 L276.14,50.81 L277.86,50.92 L279.58,51.06 L281.30,51.22 L283.02,51.40 L284.74,51.60 L286.46,51.83 L288.18,52.09 L289.90,52.39 L291.63,52.73 L293.35,53.12 L295.07,53.55 L296.79,54.04 L298.51,54.59 L300.23,55.20 L301.95,55.88 L303.67,56.63 L305.39,57.46 L307.12,58.37 L308.84,59.37 L310.56,60.44 L312.28,61.60 L314.00,62.83 L315.72,64.14 L317.44,65.51 L319.16,66.94 L320.89,68.41 L322.61,69.91 L324.33,71.43 L326.05,72.95 L327.77,74.46 L329.49,75.94 L331.21,77.38 L332.93,78.76 L334.65,80.08 L336.38,81.33 L338.10,82.50 L339.82,83.60 L341.54,84.61 L343.26,85.53 L344.98,86.38 L346.70,87.15 L348.42,87.84 L350.14,88.47 L351.87,89.03 L353.59,89.53 L355.31,89.97 L357.03,90.37 L358.75,90.71 L360.47,91.02 L362.19,91.29 L363.91,91.53 L365.63,91.74 L367.36,91.92 L369.08,92.08 L370.80,92.22 L372.52,92.35 L374.24,92.45" stroke="#d0773a" stroke-width="0.7" fill="none"/>
<path d="M236.55,50.05 L238.27,50.06 L239.99,50.07 L241.71,50.08 L243.43,50.09 L245.16,50.10 L246.88,50.12 L248.60,50.14 L250.32,50.16 L252.04,50.18 L253.76,50.21 L255.48,50.24 L257.20,50.27 L258.92,50.32 L260.65,50.36 L262.37,50.42 L264.09,50.48 L265.81,50.55 L267.53,50.63 L269.25,50.73 L270.97,50.84 L272.69,50.96 L274.41,51.10 L276.14,51.26 L277.86,51.45 L279.58,51.66 L281.30,51.90 L283.02,52.17 L284.74,52.48 L286.46,52.83 L288.18,53.22 L289.90,53.67 L291.63,54.17 L293.35,54.73 L295.07,55.36 L296.79,56.05 L298.51,56.82 L300.23,57.67 L301.95,58.59 L303.67,59.60 L305.39,60.68 L307.12,61.85 L308.84,63.09 L310.56,64.39 L312.28,65.76 L314.00,67.17 L315.72,68.63 L317.44,70.10 L319.16,71.59 L320.89,73.07 L322.61,74.54 L324.33,75.97 L326.05,77.35 L327.77,78.68 L329.49,79.94 L331.21,81.13 L332.93,82.25 L334.65,83.28 L336.38,84.23 L338.10,85.11 L339.82,85.90 L341.54,86.62 L343.26,87.27 L344.98,87.85 L346.70,88.38 L348.42,88.84 L350.14,89.25 L351.87,89.62 L353.59,89.94 L355.31,90.23 L357.03,90.48 L358.75,90.70 L360.47,90.89 L362.19,91.06 L363.91,91.21 L365.63,91.34 L367.36,91.45 L369.08,91.55 L370.80,91.63 L372.52,91.71 L374.24,91.78" stroke="#34507f" stroke-width="0.7" fill="none"/>
<line x1="240.50" y1="51.38" x2="240.50" y2="56.88" stroke="#d0773a" stroke-width="0.55"/>
<line x1="239.30" y1="51.38" x2="241.70" y2="51.38" stroke="#d0773a" stroke-width="0.55"/>
<line x1="239.30" y1="56.88" x2="241.70" y2="56.88" stroke="#d0773a" stroke-width="0.55"/>
<circle cx="239.91" cy="55.04" r="0.9" fill="none" stroke="#d0773a" stroke-width="0.45" opacity="0.8"/>
<circle cx="240.02" cy="53.40" r="0.6" fill="#d0773a" opacity="0.75"/>
<circle cx="240.78" cy="54.81" r="0.6" fill="#d0773a" opacity="0.75"/>
<path d="M239.00,55.33 L242.00,55.33 L240.50,52.73Z" fill="#d0773a"/>
<line x1="251.00" y1="47.25" x2="251.00" y2="52.75" stroke="#d0773a" stroke-width="0.55"/>
<line x1="249.80" y1="47.25" x2="252.20" y2="47.25" stroke="#d0773a" stroke-width="0.55"/>
<line x1="249.80" y1="52.75" x2="252.20" y2="52.75" stroke="#d0773a" stroke-width="0.55"/>
<circle cx="250.01" cy="50.85" r="0.9" fill="none" stroke="#d0773a" stroke-width="0.45" opacity="0.8"/>
<circle cx="249.80" cy="49.73" r="0.6" fill="#d0773a" opacity="0.75"/>
<circle cx="251.69" cy="50.59" r="0.6" fill="#d0773a" opacity="0.75"/>
<path d="M249.50,51.20 L252.50,51.20 L251.00,48.60Z" fill="#d0773a"/>
<line x1="260.80" y1="50.00" x2="260.80" y2="58.25" stroke="#d0773a" stroke-width="0.55"/>
<line x1="259.60" y1="50.00" x2="262.00" y2="50.00" stroke="#d0773a" stroke-width="0.55"/>
<line x1="259.60" y1="58.25" x2="262.00" y2="58.25" stroke="#d0773a" stroke-width="0.55"/>
<circle cx="259.46" cy="56.51" r="0.9" fill="none" stroke="#d0773a" stroke-width="0.45" opacity="0.8"/>
<circle cx="260.39" cy="53.35" r="0.6" fill="#d0773a" opacity="0.75"/>
<circle cx="261.70" cy="55.01" r="0.6" fill="#d0773a" opacity="0.75"/>
<path d="M259.30,55.33 L262.30,55.33 L260.80,52.73Z" fill="#d0773a"/>
<line x1="270.70" y1="37.62" x2="270.70" y2="51.38" stroke="#d0773a" stroke-width="0.55"/>
<line x1="269.50" y1="37.62" x2="271.90" y2="37.62" stroke="#d0773a" stroke-width="0.55"/>
<line x1="269.50" y1="51.38" x2="271.90" y2="51.38" stroke="#d0773a" stroke-width="0.55"/>
<circle cx="271.66" cy="42.98" r="0.9" fill="none" stroke="#d0773a" stroke-width="0.45" opacity="0.8"/>
<circle cx="270.48" cy="46.08" r="0.6" fill="#d0773a" opacity="0.75"/>
<circle cx="270.69" cy="41.99" r="0.6" fill="#d0773a" opacity="0.75"/>
<path d="M269.20,45.70 L272.20,45.70 L270.70,43.10Z" fill="#d0773a"/>
<line x1="280.90" y1="44.50" x2="280.90" y2="52.75" stroke="#d0773a" stroke-width="0.55"/>
<line x1="279.70" y1="44.50" x2="282.10" y2="44.50" stroke="#d0773a" stroke-width="0.55"/>
<line x1="279.70" y1="52.75" x2="282.10" y2="52.75" stroke="#d0773a" stroke-width="0.55"/>
<circle cx="280.65" cy="47.18" r="0.9" fill="none" stroke="#d0773a" stroke-width="0.45" opacity="0.8"/>
<circle cx="280.77" cy="50.52" r="0.6" fill="#d0773a" opacity="0.75"/>
<circle cx="281.01" cy="47.18" r="0.6" fill="#d0773a" opacity="0.75"/>
<path d="M279.40,49.83 L282.40,49.83 L280.90,47.23Z" fill="#d0773a"/>
<line x1="290.80" y1="43.12" x2="290.80" y2="51.38" stroke="#d0773a" stroke-width="0.55"/>
<line x1="289.60" y1="43.12" x2="292.00" y2="43.12" stroke="#d0773a" stroke-width="0.55"/>
<line x1="289.60" y1="51.38" x2="292.00" y2="51.38" stroke="#d0773a" stroke-width="0.55"/>
<circle cx="289.43" cy="47.81" r="0.9" fill="none" stroke="#d0773a" stroke-width="0.45" opacity="0.8"/>
<circle cx="290.56" cy="44.43" r="0.6" fill="#d0773a" opacity="0.75"/>
<circle cx="292.20" cy="48.18" r="0.6" fill="#d0773a" opacity="0.75"/>
<path d="M289.30,48.45 L292.30,48.45 L290.80,45.85Z" fill="#d0773a"/>
<line x1="300.70" y1="45.88" x2="300.70" y2="54.12" stroke="#d0773a" stroke-width="0.55"/>
<line x1="299.50" y1="45.88" x2="301.90" y2="45.88" stroke="#d0773a" stroke-width="0.55"/>
<line x1="299.50" y1="54.12" x2="301.90" y2="54.12" stroke="#d0773a" stroke-width="0.55"/>
<circle cx="301.97" cy="47.84" r="0.9" fill="none" stroke="#d0773a" stroke-width="0.45" opacity="0.8"/>
<circle cx="299.94" cy="50.27" r="0.6" fill="#d0773a" opacity="0.75"/>
<circle cx="299.49" cy="47.67" r="0.6" fill="#d0773a" opacity="0.75"/>
<path d="M299.20,51.20 L302.20,51.20 L300.70,48.60Z" fill="#d0773a"/>
<line x1="310.80" y1="39.00" x2="310.80" y2="55.50" stroke="#d0773a" stroke-width="0.55"/>
<line x1="309.60" y1="39.00" x2="312.00" y2="39.00" stroke="#d0773a" stroke-width="0.55"/>
<line x1="309.60" y1="55.50" x2="312.00" y2="55.50" stroke="#d0773a" stroke-width="0.55"/>
<circle cx="311.32" cy="41.50" r="0.9" fill="none" stroke="#d0773a" stroke-width="0.45" opacity="0.8"/>
<circle cx="311.74" cy="44.76" r="0.6" fill="#d0773a" opacity="0.75"/>
<circle cx="311.55" cy="46.30" r="0.6" fill="#d0773a" opacity="0.75"/>
<path d="M309.30,48.45 L312.30,48.45 L310.80,45.85Z" fill="#d0773a"/>
<line x1="320.70" y1="52.75" x2="320.70" y2="66.50" stroke="#d0773a" stroke-width="0.55"/>
<line x1="319.50" y1="52.75" x2="321.90" y2="52.75" stroke="#d0773a" stroke-width="0.55"/>
<line x1="319.50" y1="66.50" x2="321.90" y2="66.50" stroke="#d0773a" stroke-width="0.55"/>
<circle cx="319.43" cy="58.54" r="0.9" fill="none" stroke="#d0773a" stroke-width="0.45" opacity="0.8"/>
<circle cx="319.12" cy="64.04" r="0.6" fill="#d0773a" opacity="0.75"/>
<circle cx="321.58" cy="65.26" r="0.6" fill="#d0773a" opacity="0.75"/>
<path d="M319.20,60.82 L322.20,60.82 L320.70,58.22Z" fill="#d0773a"/>
<line x1="330.60" y1="62.38" x2="330.60" y2="76.12" stroke="#d0773a" stroke-width="0.55"/>
<line x1="329.40" y1="62.38" x2="331.80" y2="62.38" stroke="#d0773a" stroke-width="0.55"/>
<line x1="329.40" y1="76.12" x2="331.80" y2="76.12" stroke="#d0773a" stroke-width="0.55"/>
<circle cx="329.29" cy="74.21" r="0.9" fill="none" stroke="#d0773a" stroke-width="0.45" opacity="0.8"/>
<circle cx="331.82" cy="73.22" r="0.6" fill="#d0773a" opacity="0.75"/>
<circle cx="329.08" cy="65.02" r="0.6" fill="#d0773a" opacity="0.75"/>
<path d="M329.10,70.45 L332.10,70.45 L330.60,67.85Z" fill="#d0773a"/>
<line x1="340.50" y1="76.12" x2="340.50" y2="87.12" stroke="#d0773a" stroke-width="0.55"/>
<line x1="339.30" y1="76.12" x2="341.70" y2="76.12" stroke="#d0773a" stroke-width="0.55"/>
<line x1="339.30" y1="87.12" x2="341.70" y2="87.12" stroke="#d0773a" stroke-width="0.55"/>
<circle cx="339.29" cy="78.22" r="0.9" fill="none" stroke="#d0773a" stroke-width="0.45" opacity="0.8"/>
<circle cx="341.06" cy="78.30" r="0.6" fill="#d0773a" opacity="0.75"/>
<circle cx="341.95" cy="80.84" r="0.6" fill="#d0773a" opacity="0.75"/>
<path d="M339.00,82.83 L342.00,82.83 L340.50,80.22Z" fill="#d0773a"/>
<line x1="350.00" y1="84.38" x2="350.00" y2="95.38" stroke="#d0773a" stroke-width="0.55"/>
<line x1="348.80" y1="84.38" x2="351.20" y2="84.38" stroke="#d0773a" stroke-width="0.55"/>
<line x1="348.80" y1="95.38" x2="351.20" y2="95.38" stroke="#d0773a" stroke-width="0.55"/>
<circle cx="350.96" cy="94.47" r="0.9" fill="none" stroke="#d0773a" stroke-width="0.45" opacity="0.8"/>
<circle cx="350.86" cy="89.76" r="0.6" fill="#d0773a" opacity="0.75"/>
<circle cx="350.69" cy="93.77" r="0.6" fill="#d0773a" opacity="0.75"/>
<path d="M348.50,91.08 L351.50,91.08 L350.00,88.47Z" fill="#d0773a"/>
<line x1="359.90" y1="88.50" x2="359.90" y2="94.00" stroke="#d0773a" stroke-width="0.55"/>
<line x1="358.70" y1="88.50" x2="361.10" y2="88.50" stroke="#d0773a" stroke-width="0.55"/>
<line x1="358.70" y1="94.00" x2="361.10" y2="94.00" stroke="#d0773a" stroke-width="0.55"/>
<circle cx="360.70" cy="89.10" r="0.9" fill="none" stroke="#d0773a" stroke-width="0.45" opacity="0.8"/>
<circle cx="358.50" cy="92.12" r="0.6" fill="#d0773a" opacity="0.75"/>
<circle cx="360.10" cy="89.63" r="0.6" fill="#d0773a" opacity="0.75"/>
<path d="M358.40,92.45 L361.40,92.45 L359.90,89.85Z" fill="#d0773a"/>
<line x1="370.10" y1="84.38" x2="370.10" y2="92.62" stroke="#d0773a" stroke-width="0.55"/>
<line x1="368.90" y1="84.38" x2="371.30" y2="84.38" stroke="#d0773a" stroke-width="0.55"/>
<line x1="368.90" y1="92.62" x2="371.30" y2="92.62" stroke="#d0773a" stroke-width="0.55"/>
<circle cx="369.27" cy="90.88" r="0.9" fill="none" stroke="#d0773a" stroke-width="0.45" opacity="0.8"/>
<circle cx="369.30" cy="87.64" r="0.6" fill="#d0773a" opacity="0.75"/>
<circle cx="370.91" cy="89.29" r="0.6" fill="#d0773a" opacity="0.75"/>
<path d="M368.60,89.70 L371.60,89.70 L370.10,87.10Z" fill="#d0773a"/>
<line x1="240.50" y1="34.87" x2="240.50" y2="65.12" stroke="#4cb05a" stroke-width="0.55"/>
<line x1="239.30" y1="34.87" x2="241.70" y2="34.87" stroke="#4cb05a" stroke-width="0.55"/>
<line x1="239.30" y1="65.12" x2="241.70" y2="65.12" stroke="#4cb05a" stroke-width="0.55"/>
<circle cx="240.08" cy="52.81" r="0.9" fill="none" stroke="#4cb05a" stroke-width="0.45" opacity="0.8"/>
<circle cx="240.02" cy="52.23" r="0.6" fill="#4cb05a" opacity="0.75"/>
<circle cx="239.17" cy="49.99" r="0.6" fill="#4cb05a" opacity="0.75"/>
<circle cx="240.50" cy="50.00" r="1.5" fill="#4cb05a"/>
<line x1="251.00" y1="33.50" x2="251.00" y2="66.50" stroke="#4cb05a" stroke-width="0.55"/>
<line x1="249.80" y1="33.50" x2="252.20" y2="33.50" stroke="#4cb05a" stroke-width="0.55"/>
<line x1="249.80" y1="66.50" x2="252.20" y2="66.50" stroke="#4cb05a" stroke-width="0.55"/>
<circle cx="252.51" cy="52.59" r="0.9" fill="none" stroke="#4cb05a" stroke-width="0.45" opacity="0.8"/>
<circle cx="251.79" cy="60.08" r="0.6" fill="#4cb05a" opacity="0.75"/>
<circle cx="251.61" cy="42.39" r="0.6" fill="#4cb05a" opacity="0.75"/>
<circle cx="251.00" cy="50.00" r="1.5" fill="#4cb05a"/>
<line x1="260.80" y1="36.25" x2="260.80" y2="63.75" stroke="#4cb05a" stroke-width="0.55"/>
<line x1="259.60" y1="36.25" x2="262.00" y2="36.25" stroke="#4cb05a" stroke-width="0.55"/>
<line x1="259.60" y1="63.75" x2="262.00" y2="63.75" stroke="#4cb05a" stroke-width="0.55"/>
<circle cx="261.36" cy="49.58" r="0.9" fill="none" stroke="#4cb05a" stroke-width="0.45" opacity="0.8"/>
<circle cx="260.75" cy="46.46" r="0.6" fill="#4cb05a" opacity="0.75"/>
<circle cx="262.07" cy="58.68" r="0.6" fill="#4cb05a" opacity="0.75"/>
<circle cx="260.80" cy="50.00" r="1.5" fill="#4cb05a"/>
<line x1="270.70" y1="40.37" x2="270.70" y2="54.12" stroke="#4cb05a" stroke-width="0.55"/>
<line x1="269.50" y1="40.37" x2="271.90" y2="40.37" stroke="#4cb05a" stroke-width="0.55"/>
<line x1="269.50" y1="54.12" x2="271.90" y2="54.12" stroke="#4cb05a" stroke-width="0.55"/>
<circle cx="269.41" cy="44.18" r="0.9" fill="none" stroke="#4cb05a" stroke-width="0.45" opacity="0.8"/>
<circle cx="272.03" cy="47.04" r="0.6" fill="#4cb05a" opacity="0.75"/>
<circle cx="270.52" cy="44.54" r="0.6" fill="#4cb05a" opacity="0.75"/>
<circle cx="270.70" cy="47.25" r="1.5" fill="#4cb05a"/>
<line x1="280.90" y1="41.75" x2="280.90" y2="63.75" stroke="#4cb05a" stroke-width="0.55"/>
<line x1="279.70" y1="41.75" x2="282.10" y2="41.75" stroke="#4cb05a" stroke-width="0.55"/>
<line x1="279.70" y1="63.75" x2="282.10" y2="63.75" stroke="#4cb05a" stroke-width="0.55"/>
<circle cx="279.90" cy="57.36" r="0.9" fill="none" stroke="#4cb05a" stroke-width="0.45" opacity="0.8"/>
<circle cx="279.94" cy="51.05" r="0.6" fill="#4cb05a" opacity="0.75"/>
<circle cx="280.31" cy="58.05" r="0.6" fill="#4cb05a" opacity="0.75"/>
<circle cx="280.90" cy="52.75" r="1.5" fill="#4cb05a"/>
<line x1="290.80" y1="40.37" x2="290.80" y2="56.88" stroke="#4cb05a" stroke-width="0.55"/>
<line x1="289.60" y1="40.37" x2="292.00" y2="40.37" stroke="#4cb05a" stroke-width="0.55"/>
<line x1="289.60" y1="56.88" x2="292.00" y2="56.88" stroke="#4cb05a" stroke-width="0.55"/>
<circle cx="291.41" cy="41.89" r="0.9" fill="none" stroke="#4cb05a" stroke-width="0.45" opacity="0.8"/>
<circle cx="290.15" cy="45.58" r="0.6" fill="#4cb05a" opacity="0.75"/>
<circle cx="290.52" cy="43.37" r="0.6" fill="#4cb05a" opacity="0.75"/>
<circle cx="290.80" cy="48.62" r="1.5" fill="#4cb05a"/>
<line x1="300.70" y1="47.25" x2="300.70" y2="66.50" stroke="#4cb05a" stroke-width="0.55"/>
<line x1="299.50" y1="47.25" x2="301.90" y2="47.25" stroke="#4cb05a" stroke-width="0.55"/>
<line x1="299.50" y1="66.50" x2="301.90" y2="66.50" stroke="#4cb05a" stroke-width="0.55"/>
<circle cx="300.97" cy="60.91" r="0.9" fill="none" stroke="#4cb05a" stroke-width="0.45" opacity="0.8"/>
<circle cx="299.80" cy="65.14" r="0.6" fill="#4cb05a" opacity="0.75"/>
<circle cx="300.63" cy="58.91" r="0.6" fill="#4cb05a" opacity="0.75"/>
<circle cx="300.70" cy="56.88" r="1.5" fill="#4cb05a"/>
<line x1="310.80" y1="58.25" x2="310.80" y2="74.75" stroke="#4cb05a" stroke-width="0.55"/>
<line x1="309.60" y1="58.25" x2="312.00" y2="58.25" stroke="#4cb05a" stroke-width="0.55"/>
<line x1="309.60" y1="74.75" x2="312.00" y2="74.75" stroke="#4cb05a" stroke-width="0.55"/>
<circle cx="309.75" cy="68.57" r="0.9" fill="none" stroke="#4cb05a" stroke-width="0.45" opacity="0.8"/>
<circle cx="310.23" cy="62.43" r="0.6" fill="#4cb05a" opacity="0.75"/>
<circle cx="309.66" cy="59.21" r="0.6" fill="#4cb05a" opacity="0.75"/>
<circle cx="310.80" cy="66.50" r="1.5" fill="#4cb05a"/>
<line x1="320.70" y1="70.62" x2="320.70" y2="84.38" stroke="#4cb05a" stroke-width="0.55"/>
<line x1="319.50" y1="70.62" x2="321.90" y2="70.62" stroke="#4cb05a" stroke-width="0.55"/>
<line x1="319.50" y1="84.38" x2="321.90" y2="84.38" stroke="#4cb05a" stroke-width="0.55"/>
<circle cx="320.63" cy="76.27" r="0.9" fill="none" stroke="#4cb05a" stroke-width="0.45" opacity="0.8"/>
<circle cx="320.60" cy="73.36" r="0.6" fill="#4cb05a" opacity="0.75"/>
<circle cx="321.73" cy="76.79" r="0.6" fill="#4cb05a" opacity="0.75"/>
<circle cx="320.70" cy="77.50" r="1.5" fill="#4cb05a"/>
<line x1="330.60" y1="81.62" x2="330.60" y2="95.38" stroke="#4cb05a" stroke-width="0.55"/>
<line x1="329.40" y1="81.62" x2="331.80" y2="81.62" stroke="#4cb05a" stroke-width="0.55"/>
<line x1="329.40" y1="95.38" x2="331.80" y2="95.38" stroke="#4cb05a" stroke-width="0.55"/>
<circle cx="330.54" cy="85.77" r="0.9" fill="none" stroke="#4cb05a" stroke-width="0.45" opacity="0.8"/>
<circle cx="331.74" cy="89.73" r="0.6" fill="#4cb05a" opacity="0.75"/>
<circle cx="331.35" cy="82.80" r="0.6" fill="#4cb05a" opacity="0.75"/>
<circle cx="330.60" cy="88.50" r="1.5" fill="#4cb05a"/>
<line x1="340.50" y1="92.62" x2="340.50" y2="100.88" stroke="#4cb05a" stroke-width="0.55"/>
<line x1="339.30" y1="92.62" x2="341.70" y2="92.62" stroke="#4cb05a" stroke-width="0.55"/>
<line x1="339.30" y1="100.88" x2="341.70" y2="100.88" stroke="#4cb05a" stroke-width="0.55"/>
<circle cx="340.40" cy="98.76" r="0.9" fill="none" stroke="#4cb05a" stroke-width="0.45" opacity="0.8"/>
<circle cx="339.65" cy="95.13" r="0.6" fill="#4cb05a" opacity="0.75"/>
<circle cx="341.06" cy="93.34" r="0.6" fill="#4cb05a" opacity="0.75"/>
<circle cx="340.50" cy="96.75" r="1.5" fill="#4cb05a"/>
<line x1="350.00" y1="96.06" x2="350.00" y2="101.56" stroke="#4cb05a" stroke-width="0.55"/>
<line x1="348.80" y1="96.06" x2="351.20" y2="96.06" stroke="#4cb05a" stroke-width="0.55"/>
<line x1="348.80" y1="101.56" x2="351.20" y2="101.56" stroke="#4cb05a" stroke-width="0.55"/>
<circle cx="351.13" cy="100.09" r="0.9" fill="none" stroke="#4cb05a" stroke-width="0.45" opacity="0.8"/>
<circle cx="349.01" cy="100.01" r="0.6" fill="#4cb05a" opacity="0.75"/>
<circle cx="349.00" cy="97.80" r="0.6" fill="#4cb05a" opacity="0.75"/>
<circle cx="350.00" cy="98.81" r="1.5" fill="#4cb05a"/>
<line x1="359.90" y1="95.38" x2="359.90" y2="100.88" stroke="#4cb05a" stroke-width="0.55"/>
<line x1="358.70" y1="95.38" x2="361.10" y2="95.38" stroke="#4cb05a" stroke-width="0.55"/>
<line x1="358.70" y1="100.88" x2="361.10" y2="100.88" stroke="#4cb05a" stroke-width="0.55"/>
<circle cx="361.05" cy="96.15" r="0.9" fill="none" stroke="#4cb05a" stroke-width="0.45" opacity="0.8"/>
<circle cx="359.12" cy="96.32" r="0.6" fill="#4cb05a" opacity="0.75"/>
<circle cx="359.30" cy="98.50" r="0.6" fill="#4cb05a" opacity="0.75"/>
<circle cx="359.90" cy="98.12" r="1.5" fill="#4cb05a"/>
<line x1="370.10" y1="94.00" x2="370.10" y2="99.50" stroke="#4cb05a" stroke-width="0.55"/>
<line x1="368.90" y1="94.00" x2="371.30" y2="94.00" stroke="#4cb05a" stroke-width="0.55"/>
<line x1="368.90" y1="99.50" x2="371.30" y2="99.50" stroke="#4cb05a" stroke-width="0.55"/>
<circle cx="370.83" cy="98.80" r="0.9" fill="none" stroke="#4cb05a" stroke-width="0.45" opacity="0.8"/>
<circle cx="368.80" cy="95.10" r="0.6" fill="#4cb05a" opacity="0.75"/>
<circle cx="369.43" cy="97.46" r="0.6" fill="#4cb05a" opacity="0.75"/>
<circle cx="370.10" cy="96.75" r="1.5" fill="#4cb05a"/>
<line x1="240.50" y1="40.37" x2="240.50" y2="48.62" stroke="#34507f" stroke-width="0.55"/>
<line x1="239.30" y1="40.37" x2="241.70" y2="40.37" stroke="#34507f" stroke-width="0.55"/>
<line x1="239.30" y1="48.62" x2="241.70" y2="48.62" stroke="#34507f" stroke-width="0.55"/>
<circle cx="240.76" cy="43.20" r="0.9" fill="none" stroke="#34507f" stroke-width="0.45" opacity="0.8"/>
<circle cx="238.92" cy="45.73" r="0.6" fill="#34507f" opacity="0.75"/>
<circle cx="240.30" cy="44.60" r="0.6" fill="#34507f" opacity="0.75"/>
<circle cx="240.50" cy="44.50" r="1.5" fill="#34507f"/>
<line x1="251.00" y1="42.30" x2="251.00" y2="47.80" stroke="#34507f" stroke-width="0.55"/>
<line x1="249.80" y1="42.30" x2="252.20" y2="42.30" stroke="#34507f" stroke-width="0.55"/>
<line x1="249.80" y1="47.80" x2="252.20" y2="47.80" stroke="#34507f" stroke-width="0.55"/>
<circle cx="250.07" cy="44.63" r="0.9" fill="none" stroke="#34507f" stroke-width="0.45" opacity="0.8"/>
<circle cx="252.46" cy="45.59" r="0.6" fill="#34507f" opacity="0.75"/>
<circle cx="251.14" cy="46.94" r="0.6" fill="#34507f" opacity="0.75"/>
<circle cx="251.00" cy="45.05" r="1.5" fill="#34507f"/>
<line x1="260.80" y1="43.67" x2="260.80" y2="49.17" stroke="#34507f" stroke-width="0.55"/>
<line x1="259.60" y1="43.67" x2="262.00" y2="43.67" stroke="#34507f" stroke-width="0.55"/>
<line x1="259.60" y1="49.17" x2="262.00" y2="49.17" stroke="#34507f" stroke-width="0.55"/>
<circle cx="260.08" cy="45.61" r="0.9" fill="none" stroke="#34507f" stroke-width="0.45" opacity="0.8"/>
<circle cx="259.56" cy="44.51" r="0.6" fill="#34507f" opacity="0.75"/>
<circle cx="262.11" cy="48.42" r="0.6" fill="#34507f" opacity="0.75"/>
<circle cx="260.80" cy="46.42" r="1.5" fill="#34507f"/>
<line x1="270.70" y1="42.30" x2="270.70" y2="50.55" stroke="#34507f" stroke-width="0.55"/>
<line x1="269.50" y1="42.30" x2="271.90" y2="42.30" stroke="#34507f" stroke-width="0.55"/>
<line x1="269.50" y1="50.55" x2="271.90" y2="50.55" stroke="#34507f" stroke-width="0.55"/>
<circle cx="272.11" cy="47.36" r="0.9" fill="none" stroke="#34507f" stroke-width="0.45" opacity="0.8"/>
<circle cx="271.57" cy="44.51" r="0.6" fill="#34507f" opacity="0.75"/>
<circle cx="270.05" cy="45.12" r="0.6" fill="#34507f" opacity="0.75"/>
<circle cx="270.70" cy="46.42" r="1.5" fill="#34507f"/>
<line x1="280.90" y1="46.42" x2="280.90" y2="51.93" stroke="#34507f" stroke-width="0.55"/>
<line x1="279.70" y1="46.42" x2="282.10" y2="46.42" stroke="#34507f" stroke-width="0.55"/>
<line x1="279.70" y1="51.93" x2="282.10" y2="51.93" stroke="#34507f" stroke-width="0.55"/>
<circle cx="281.39" cy="47.66" r="0.9" fill="none" stroke="#34507f" stroke-width="0.45" opacity="0.8"/>
<circle cx="280.15" cy="47.92" r="0.6" fill="#34507f" opacity="0.75"/>
<circle cx="282.38" cy="48.32" r="0.6" fill="#34507f" opacity="0.75"/>
<circle cx="280.90" cy="49.17" r="1.5" fill="#34507f"/>
<line x1="290.80" y1="44.77" x2="290.80" y2="50.27" stroke="#34507f" stroke-width="0.55"/>
<line x1="289.60" y1="44.77" x2="292.00" y2="44.77" stroke="#34507f" stroke-width="0.55"/>
<line x1="289.60" y1="50.27" x2="292.00" y2="50.27" stroke="#34507f" stroke-width="0.55"/>
<circle cx="290.92" cy="49.44" r="0.9" fill="none" stroke="#34507f" stroke-width="0.45" opacity="0.8"/>
<circle cx="290.78" cy="48.26" r="0.6" fill="#34507f" opacity="0.75"/>
<circle cx="291.50" cy="46.64" r="0.6" fill="#34507f" opacity="0.75"/>
<circle cx="290.80" cy="47.52" r="1.5" fill="#34507f"/>
<line x1="300.70" y1="47.80" x2="300.70" y2="56.05" stroke="#34507f" stroke-width="0.55"/>
<line x1="299.50" y1="47.80" x2="301.90" y2="47.80" stroke="#34507f" stroke-width="0.55"/>
<line x1="299.50" y1="56.05" x2="301.90" y2="56.05" stroke="#34507f" stroke-width="0.55"/>
<circle cx="300.91" cy="54.29" r="0.9" fill="none" stroke="#34507f" stroke-width="0.45" opacity="0.8"/>
<circle cx="301.17" cy="50.95" r="0.6" fill="#34507f" opacity="0.75"/>
<circle cx="299.67" cy="49.03" r="0.6" fill="#34507f" opacity="0.75"/>
<circle cx="300.70" cy="51.93" r="1.5" fill="#34507f"/>
<line x1="310.80" y1="56.05" x2="310.80" y2="72.55" stroke="#34507f" stroke-width="0.55"/>
<line x1="309.60" y1="56.05" x2="312.00" y2="56.05" stroke="#34507f" stroke-width="0.55"/>
<line x1="309.60" y1="72.55" x2="312.00" y2="72.55" stroke="#34507f" stroke-width="0.55"/>
<circle cx="311.30" cy="69.90" r="0.9" fill="none" stroke="#34507f" stroke-width="0.45" opacity="0.8"/>
<circle cx="312.18" cy="69.63" r="0.6" fill="#34507f" opacity="0.75"/>
<circle cx="310.26" cy="61.03" r="0.6" fill="#34507f" opacity="0.75"/>
<circle cx="310.80" cy="64.30" r="1.5" fill="#34507f"/>
<line x1="320.70" y1="69.25" x2="320.70" y2="83.00" stroke="#34507f" stroke-width="0.55"/>
<line x1="319.50" y1="69.25" x2="321.90" y2="69.25" stroke="#34507f" stroke-width="0.55"/>
<line x1="319.50" y1="83.00" x2="321.90" y2="83.00" stroke="#34507f" stroke-width="0.55"/>
<circle cx="321.01" cy="75.45" r="0.9" fill="none" stroke="#34507f" stroke-width="0.45" opacity="0.8"/>
<circle cx="321.17" cy="76.65" r="0.6" fill="#34507f" opacity="0.75"/>
<circle cx="320.10" cy="80.13" r="0.6" fill="#34507f" opacity="0.75"/>
<circle cx="320.70" cy="76.12" r="1.5" fill="#34507f"/>
<line x1="330.60" y1="78.46" x2="330.60" y2="89.46" stroke="#34507f" stroke-width="0.55"/>
<line x1="329.40" y1="78.46" x2="331.80" y2="78.46" stroke="#34507f" stroke-width="0.55"/>
<line x1="329.40" y1="89.46" x2="331.80" y2="89.46" stroke="#34507f" stroke-width="0.55"/>
<circle cx="329.22" cy="81.83" r="0.9" fill="none" stroke="#34507f" stroke-width="0.45" opacity="0.8"/>
<circle cx="331.41" cy="83.54" r="0.6" fill="#34507f" opacity="0.75"/>
<circle cx="331.37" cy="85.36" r="0.6" fill="#34507f" opacity="0.75"/>
<circle cx="330.60" cy="83.96" r="1.5" fill="#34507f"/>
<line x1="340.50" y1="89.88" x2="340.50" y2="95.38" stroke="#34507f" stroke-width="0.55"/>
<line x1="339.30" y1="89.88" x2="341.70" y2="89.88" stroke="#34507f" stroke-width="0.55"/>
<line x1="339.30" y1="95.38" x2="341.70" y2="95.38" stroke="#34507f" stroke-width="0.55"/>
<circle cx="339.75" cy="93.20" r="0.9" fill="none" stroke="#34507f" stroke-width="0.45" opacity="0.8"/>
<circle cx="341.69" cy="94.89" r="0.6" fill="#34507f" opacity="0.75"/>
<circle cx="340.52" cy="93.88" r="0.6" fill="#34507f" opacity="0.75"/>
<circle cx="340.50" cy="92.62" r="1.5" fill="#34507f"/>
<line x1="350.00" y1="85.75" x2="350.00" y2="91.25" stroke="#34507f" stroke-width="0.55"/>
<line x1="348.80" y1="85.75" x2="351.20" y2="85.75" stroke="#34507f" stroke-width="0.55"/>
<line x1="348.80" y1="91.25" x2="351.20" y2="91.25" stroke="#34507f" stroke-width="0.55"/>
<circle cx="350.86" cy="89.22" r="0.9" fill="none" stroke="#34507f" stroke-width="0.45" opacity="0.8"/>
<circle cx="349.47" cy="88.98" r="0.6" fill="#34507f" opacity="0.75"/>
<circle cx="350.13" cy="87.16" r="0.6" fill="#34507f" opacity="0.75"/>
<circle cx="350.00" cy="88.50" r="1.5" fill="#34507f"/>
<line x1="359.90" y1="86.71" x2="359.90" y2="92.21" stroke="#34507f" stroke-width="0.55"/>
<line x1="358.70" y1="86.71" x2="361.10" y2="86.71" stroke="#34507f" stroke-width="0.55"/>
<line x1="358.70" y1="92.21" x2="361.10" y2="92.21" stroke="#34507f" stroke-width="0.55"/>
<circle cx="359.43" cy="87.75" r="0.9" fill="none" stroke="#34507f" stroke-width="0.45" opacity="0.8"/>
<circle cx="358.66" cy="90.60" r="0.6" fill="#34507f" opacity="0.75"/>
<circle cx="358.62" cy="91.38" r="0.6" fill="#34507f" opacity="0.75"/>
<circle cx="359.90" cy="89.46" r="1.5" fill="#34507f"/>
<line x1="370.10" y1="87.81" x2="370.10" y2="93.31" stroke="#34507f" stroke-width="0.55"/>
<line x1="368.90" y1="87.81" x2="371.30" y2="87.81" stroke="#34507f" stroke-width="0.55"/>
<line x1="368.90" y1="93.31" x2="371.30" y2="93.31" stroke="#34507f" stroke-width="0.55"/>
<circle cx="370.99" cy="89.44" r="0.9" fill="none" stroke="#34507f" stroke-width="0.45" opacity="0.8"/>
<circle cx="369.09" cy="92.10" r="0.6" fill="#34507f" opacity="0.75"/>
<circle cx="369.83" cy="89.36" r="0.6" fill="#34507f" opacity="0.75"/>
<circle cx="370.10" cy="90.56" r="1.5" fill="#34507f"/>
<line x1="240.30" y1="95.10" x2="249.30" y2="95.10" stroke="#34507f" stroke-width="0.7"/>
<circle cx="244.80" cy="95.10" r="1.2" fill="#34507f"/>
<text x="253.10" y="97.10" font-size="5.6" fill="#34507f">Compound 13</text>
<line x1="240.30" y1="104.45" x2="249.30" y2="104.45" stroke="#4cb05a" stroke-width="0.7"/>
<circle cx="244.80" cy="104.45" r="1.2" fill="#4cb05a"/>
<text x="253.10" y="106.45" font-size="5.6" fill="#4cb05a">Compound 18</text>
<line x1="240.30" y1="113.80" x2="249.30" y2="113.80" stroke="#d0773a" stroke-width="0.7"/>
<path d="M243.4,114.80 L246.2,114.80 L244.8,112.50Z" fill="#d0773a"/>
<text x="253.10" y="115.80" font-size="5.6" fill="#d0773a">Compound 20</text>
<line x1="479.20" y1="14.60" x2="479.20" y2="119.30" stroke="#5d6d7e" stroke-width="0.9"/>
<line x1="478.80" y1="118.90" x2="646.00" y2="118.90" stroke="#5d6d7e" stroke-width="0.9"/>
<line x1="475.40" y1="109.85" x2="479.20" y2="109.85" stroke="#5d6d7e" stroke-width="0.8"/>
<text x="471.00" y="112.30" font-size="7.86" fill="#46566a" textLength="3.91" lengthAdjust="spacingAndGlyphs">0</text>
<line x1="475.40" y1="90.90" x2="479.20" y2="90.90" stroke="#5d6d7e" stroke-width="0.8"/>
<text x="466.50" y="93.35" font-size="7.86" fill="#46566a" textLength="8.42" lengthAdjust="spacingAndGlyphs">10</text>
<line x1="475.40" y1="71.95" x2="479.20" y2="71.95" stroke="#5d6d7e" stroke-width="0.8"/>
<text x="466.50" y="74.40" font-size="7.86" fill="#46566a" textLength="8.42" lengthAdjust="spacingAndGlyphs">20</text>
<line x1="475.40" y1="53.00" x2="479.20" y2="53.00" stroke="#5d6d7e" stroke-width="0.8"/>
<text x="466.50" y="55.45" font-size="7.86" fill="#46566a" textLength="8.42" lengthAdjust="spacingAndGlyphs">30</text>
<line x1="475.40" y1="34.05" x2="479.20" y2="34.05" stroke="#5d6d7e" stroke-width="0.8"/>
<text x="466.50" y="36.50" font-size="7.86" fill="#46566a" textLength="8.42" lengthAdjust="spacingAndGlyphs">40</text>
<line x1="475.40" y1="15.10" x2="479.20" y2="15.10" stroke="#5d6d7e" stroke-width="0.8"/>
<text x="466.50" y="17.55" font-size="7.86" fill="#46566a" textLength="8.42" lengthAdjust="spacingAndGlyphs">50</text>
<line x1="477.20" y1="100.38" x2="479.20" y2="100.38" stroke="#5d6d7e" stroke-width="0.6"/>
<line x1="477.20" y1="81.42" x2="479.20" y2="81.42" stroke="#5d6d7e" stroke-width="0.6"/>
<line x1="477.20" y1="62.47" x2="479.20" y2="62.47" stroke="#5d6d7e" stroke-width="0.6"/>
<line x1="477.20" y1="43.52" x2="479.20" y2="43.52" stroke="#5d6d7e" stroke-width="0.6"/>
<line x1="477.20" y1="24.57" x2="479.20" y2="24.57" stroke="#5d6d7e" stroke-width="0.6"/>
<line x1="507.90" y1="118.90" x2="507.90" y2="122.50" stroke="#5d6d7e" stroke-width="0.8"/>
<line x1="561.25" y1="118.90" x2="561.25" y2="122.50" stroke="#5d6d7e" stroke-width="0.8"/>
<line x1="614.60" y1="118.90" x2="614.60" y2="122.50" stroke="#5d6d7e" stroke-width="0.8"/>
<line x1="481.22" y1="118.90" x2="481.22" y2="120.80" stroke="#5d6d7e" stroke-width="0.6"/>
<line x1="534.57" y1="118.90" x2="534.57" y2="120.80" stroke="#5d6d7e" stroke-width="0.6"/>
<line x1="587.92" y1="118.90" x2="587.92" y2="120.80" stroke="#5d6d7e" stroke-width="0.6"/>
<line x1="641.27" y1="118.90" x2="641.27" y2="120.80" stroke="#5d6d7e" stroke-width="0.6"/>
<text x="506.07" y="132.60" font-size="7.71" fill="#46566a" textLength="3.66" lengthAdjust="spacingAndGlyphs">0</text>
<text x="555.17" y="132.60" font-size="7.71" fill="#46566a" textLength="12.14" lengthAdjust="spacingAndGlyphs">100</text>
<text x="608.52" y="132.60" font-size="7.71" fill="#46566a" textLength="12.14" lengthAdjust="spacingAndGlyphs">200</text>
<text x="553.80" y="141.60" font-size="5.79" fill="#222" textLength="24.29" lengthAdjust="spacingAndGlyphs">Time (s)</text>
<text x="0" y="0" font-size="6.21" fill="#222" textLength="69.89" lengthAdjust="spacingAndGlyphs" transform="translate(458.40 102.60) rotate(-90) translate(0.00 0)">Relative response (RU)</text>
<path d="M486.56,109.09 L487.59,109.09 L488.62,109.09 L489.65,109.09 L490.69,109.09 L491.72,109.09 L492.75,109.09 L493.78,109.09 L494.81,109.09 L495.84,109.09 L496.87,109.09 L497.91,109.09 L498.94,109.09 L499.97,109.09 L501.00,109.09 L502.03,109.09 L503.06,109.09 L504.09,109.09 L505.13,109.09 L506.16,109.09 L507.19,109.09 L508.22,84.79 L509.25,46.01 L510.28,33.46 L511.31,29.16 L512.35,27.45 L513.38,26.57 L514.41,25.98 L515.44,25.50 L516.47,25.08 L517.50,24.71 L518.53,24.40 L519.57,24.14 L520.60,23.92 L521.63,23.77 L522.66,23.67 L523.69,23.63 L524.72,23.65 L525.75,23.72 L526.79,23.85 L527.82,24.04 L528.85,24.28 L529.88,24.58 L530.91,24.92 L531.94,25.31 L532.97,25.73 L534.01,26.20 L535.04,26.70 L536.07,27.22 L537.10,27.76 L538.13,28.33 L539.16,28.90 L540.19,30.80 L541.23,35.98 L542.26,40.86 L543.29,45.44 L544.32,49.75 L545.35,53.80 L546.38,57.61 L547.41,61.19 L548.45,64.56 L549.48,67.72 L550.51,70.70 L551.54,73.51 L552.57,76.15 L553.60,78.63 L554.63,80.96 L555.67,83.16 L556.70,85.22 L557.73,87.17 L558.76,89.00 L559.79,90.72 L560.82,92.35 L561.85,93.87 L562.89,95.31 L563.92,96.67 L564.95,97.94 L565.98,99.14 L567.01,100.28 L568.04,101.34 L569.07,102.35 L570.11,103.29 L571.14,104.19 L572.17,105.03 L573.20,105.82 L574.23,106.57 L575.26,107.27 L576.29,107.94 L577.33,108.56 L578.36,109.15 L579.39,109.71 L580.42,110.24 L581.45,110.73 L582.48,111.20 L583.51,111.65 L584.55,112.06 L585.58,112.46 L586.61,112.83 L587.64,113.18 L588.67,113.51 L589.70,113.83 L590.73,114.13 L591.77,114.41 L592.80,114.67 L593.83,114.92 L594.86,115.16 L595.89,115.38 L596.92,115.60 L597.95,115.80 L598.99,115.99 L600.02,116.17 L601.05,116.34 L602.08,116.50 L603.11,116.65 L604.14,116.80 L605.17,116.94 L606.21,117.07 L607.24,117.19 L608.27,117.31 L609.30,117.42 L610.33,117.52 L611.36,117.62 L612.39,117.72 L613.43,117.81 L614.46,117.89 L615.49,117.98 L616.52,118.05 L617.55,118.13 L618.58,118.20 L619.61,118.26 L620.65,118.33 L621.68,118.39 L622.71,118.44 L623.74,118.50 L624.77,118.55 L625.80,118.60 L626.83,118.64 L627.87,118.69 L628.90,118.73" stroke="#3a70d8" stroke-width="0.8" fill="none" stroke-linejoin="round"/>
<path d="M486.56,109.09 L487.59,109.09 L488.62,109.09 L489.65,109.09 L490.69,109.09 L491.72,109.09 L492.75,109.09 L493.78,109.09 L494.81,109.09 L495.84,109.09 L496.87,109.09 L497.91,109.09 L498.94,109.09 L499.97,109.09 L501.00,109.09 L502.03,109.09 L503.06,109.09 L504.09,109.09 L505.13,109.09 L506.16,109.09 L507.19,109.09 L508.22,94.88 L509.25,64.89 L510.28,49.54 L511.31,41.63 L512.35,37.51 L513.38,35.32 L514.41,34.12 L515.44,33.43 L516.47,33.00 L517.50,32.73 L518.53,32.53 L519.57,32.39 L520.60,32.29 L521.63,32.22 L522.66,32.18 L523.69,32.16 L524.72,32.16 L525.75,32.19 L526.79,32.25 L527.82,32.32 L528.85,32.42 L529.88,32.53 L530.91,32.67 L531.94,32.83 L532.97,33.00 L534.01,33.18 L535.04,33.38 L536.07,33.59 L537.10,33.81 L538.13,34.03 L539.16,34.26 L540.19,35.83 L541.23,40.70 L542.26,45.27 L543.29,49.56 L544.32,53.57 L545.35,57.34 L546.38,60.88 L547.41,64.19 L548.45,67.30 L549.48,70.22 L550.51,72.95 L551.54,75.52 L552.57,77.92 L553.60,80.18 L554.63,82.30 L555.67,84.29 L556.70,86.16 L557.73,87.91 L558.76,89.55 L559.79,91.09 L560.82,92.54 L561.85,93.90 L562.89,95.17 L563.92,96.37 L564.95,97.50 L565.98,98.55 L567.01,99.55 L568.04,100.48 L569.07,101.35 L570.11,102.17 L571.14,102.95 L572.17,103.67 L573.20,104.35 L574.23,105.00 L575.26,105.60 L576.29,106.16 L577.33,106.70 L578.36,107.20 L579.39,107.67 L580.42,108.11 L581.45,108.53 L582.48,108.92 L583.51,109.28 L584.55,109.63 L585.58,109.96 L586.61,110.26 L587.64,110.55 L588.67,110.83 L589.70,111.08 L590.73,111.32 L591.77,111.55 L592.80,111.76 L593.83,111.97 L594.86,112.16 L595.89,112.33 L596.92,112.50 L597.95,112.66 L598.99,112.81 L600.02,112.95 L601.05,113.09 L602.08,113.21 L603.11,113.33 L604.14,113.45 L605.17,113.55 L606.21,113.65 L607.24,113.75 L608.27,113.84 L609.30,113.92 L610.33,114.00 L611.36,114.08 L612.39,114.15 L613.43,114.21 L614.46,114.28 L615.49,114.34 L616.52,114.40 L617.55,114.45 L618.58,114.50 L619.61,114.55 L620.65,114.60 L621.68,114.64 L622.71,114.68 L623.74,114.72 L624.77,114.76 L625.80,114.79 L626.83,114.83 L627.87,114.86 L628.90,114.89 L629.93,114.92 L630.96,114.95 L631.99,114.97 L633.02,115.00 L634.05,115.02 L635.09,115.04 L636.12,115.06 L637.15,115.08 L638.18,115.10 L639.21,115.12 L640.24,115.14 L641.27,115.15" stroke="#e83838" stroke-width="0.8" fill="none" stroke-linejoin="round"/>
<path d="M486.56,109.09 L487.59,109.09 L488.62,109.09 L489.65,109.09 L490.69,109.09 L491.72,109.09 L492.75,109.09 L493.78,109.09 L494.81,109.09 L495.84,109.09 L496.87,109.09 L497.91,109.09 L498.94,109.09 L499.97,109.09 L501.00,109.09 L502.03,109.09 L503.06,109.09 L504.09,109.09 L505.13,109.09 L506.16,109.09 L507.19,109.09 L508.22,101.37 L509.25,81.92 L510.28,68.69 L511.31,59.66 L512.35,53.51 L513.38,49.31 L514.41,46.43 L515.44,44.45 L516.47,43.09 L517.50,42.15 L518.53,41.51 L519.57,41.06 L520.60,40.75 L521.63,40.53 L522.66,40.39 L523.69,40.30 L524.72,40.24 L525.75,40.21 L526.79,40.21 L527.82,40.22 L528.85,40.25 L529.88,40.29 L530.91,40.34 L531.94,40.40 L532.97,40.47 L534.01,40.55 L535.04,40.63 L536.07,40.71 L537.10,40.80 L538.13,40.90 L539.16,40.99 L540.19,42.30 L541.23,46.63 L542.26,50.67 L543.29,54.47 L544.32,58.02 L545.35,61.35 L546.38,64.47 L547.41,67.39 L548.45,70.13 L549.48,72.69 L550.51,75.10 L551.54,77.35 L552.57,79.46 L553.60,81.44 L554.63,83.29 L555.67,85.03 L556.70,86.65 L557.73,88.18 L558.76,89.60 L559.79,90.94 L560.82,92.20 L561.85,93.37 L562.89,94.48 L563.92,95.51 L564.95,96.48 L565.98,97.39 L567.01,98.24 L568.04,99.03 L569.07,99.78 L570.11,100.48 L571.14,101.14 L572.17,101.75 L573.20,102.33 L574.23,102.87 L575.26,103.38 L576.29,103.86 L577.33,104.30 L578.36,104.72 L579.39,105.11 L580.42,105.48 L581.45,105.83 L582.48,106.15 L583.51,106.45 L584.55,106.74 L585.58,107.01 L586.61,107.26 L587.64,107.49 L588.67,107.71 L589.70,107.92 L590.73,108.11 L591.77,108.30 L592.80,108.47 L593.83,108.63 L594.86,108.78 L595.89,108.92 L596.92,109.05 L597.95,109.18 L598.99,109.30 L600.02,109.41 L601.05,109.51 L602.08,109.61 L603.11,109.70 L604.14,109.78 L605.17,109.86 L606.21,109.94 L607.24,110.01 L608.27,110.08 L609.30,110.14 L610.33,110.20 L611.36,110.25 L612.39,110.31 L613.43,110.36 L614.46,110.40 L615.49,110.45 L616.52,110.49 L617.55,110.52 L618.58,110.56 L619.61,110.59 L620.65,110.63 L621.68,110.66 L622.71,110.69 L623.74,110.71 L624.77,110.74 L625.80,110.76 L626.83,110.78 L627.87,110.80 L628.90,110.82 L629.93,110.84 L630.96,110.86 L631.99,110.88 L633.02,110.89 L634.05,110.91 L635.09,110.92 L636.12,110.93 L637.15,110.95 L638.18,110.96 L639.21,110.97 L640.24,110.98 L641.27,110.99" stroke="#d8c828" stroke-width="0.8" fill="none" stroke-linejoin="round"/>
<path d="M486.56,109.09 L487.59,109.09 L488.62,109.09 L489.65,109.09 L490.69,109.09 L491.72,109.09 L492.75,109.09 L493.78,109.09 L494.81,109.09 L495.84,109.09 L496.87,109.09 L497.91,109.09 L498.94,109.09 L499.97,109.09 L501.00,109.09 L502.03,109.09 L503.06,109.09 L504.09,109.09 L505.13,109.09 L506.16,109.09 L507.19,109.09 L508.22,105.06 L509.25,93.89 L510.28,85.03 L511.31,78.01 L512.35,72.44 L513.38,68.02 L514.41,64.52 L515.44,61.74 L516.47,59.54 L517.50,57.79 L518.53,56.41 L519.57,55.31 L520.60,54.44 L521.63,53.75 L522.66,53.20 L523.69,52.77 L524.72,52.42 L525.75,52.15 L526.79,51.93 L527.82,51.76 L528.85,51.63 L529.88,51.52 L530.91,51.43 L531.94,51.36 L532.97,51.31 L534.01,51.27 L535.04,51.23 L536.07,51.21 L537.10,51.19 L538.13,51.17 L539.16,51.16 L540.19,52.21 L541.23,55.89 L542.26,59.33 L543.29,62.56 L544.32,65.59 L545.35,68.42 L546.38,71.08 L547.41,73.56 L548.45,75.89 L549.48,78.08 L550.51,80.12 L551.54,82.04 L552.57,83.84 L553.60,85.52 L554.63,87.10 L555.67,88.57 L556.70,89.96 L557.73,91.25 L558.76,92.47 L559.79,93.61 L560.82,94.68 L561.85,95.68 L562.89,96.61 L563.92,97.49 L564.95,98.32 L565.98,99.09 L567.01,99.81 L568.04,100.49 L569.07,101.13 L570.11,101.72 L571.14,102.28 L572.17,102.80 L573.20,103.29 L574.23,103.76 L575.26,104.19 L576.29,104.59 L577.33,104.97 L578.36,105.33 L579.39,105.66 L580.42,105.97 L581.45,106.27 L582.48,106.54 L583.51,106.80 L584.55,107.04 L585.58,107.27 L586.61,107.48 L587.64,107.68 L588.67,107.87 L589.70,108.04 L590.73,108.21 L591.77,108.36 L592.80,108.51 L593.83,108.65 L594.86,108.77 L595.89,108.89 L596.92,109.01 L597.95,109.11 L598.99,109.21 L600.02,109.30 L601.05,109.39 L602.08,109.47 L603.11,109.55 L604.14,109.62 L605.17,109.69 L606.21,109.76 L607.24,109.82 L608.27,109.87 L609.30,109.93 L610.33,109.98 L611.36,110.02 L612.39,110.07 L613.43,110.11 L614.46,110.15 L615.49,110.18 L616.52,110.22 L617.55,110.25 L618.58,110.28 L619.61,110.31 L620.65,110.34 L621.68,110.36 L622.71,110.39 L623.74,110.41 L624.77,110.43 L625.80,110.45 L626.83,110.47 L627.87,110.49 L628.90,110.50 L629.93,110.52 L630.96,110.53 L631.99,110.55 L633.02,110.56 L634.05,110.57 L635.09,110.59 L636.12,110.60 L637.15,110.61 L638.18,110.62 L639.21,110.63 L640.24,110.63 L641.27,110.64" stroke="#c060d0" stroke-width="0.8" fill="none" stroke-linejoin="round"/>
<path d="M486.56,109.09 L487.59,109.09 L488.62,109.09 L489.65,109.09 L490.69,109.09 L491.72,109.09 L492.75,109.09 L493.78,109.09 L494.81,109.09 L495.84,109.09 L496.87,109.09 L497.91,109.09 L498.94,109.09 L499.97,109.09 L501.00,109.09 L502.03,109.09 L503.06,109.09 L504.09,109.09 L505.13,109.09 L506.16,109.09 L507.19,109.09 L508.22,107.89 L509.25,104.23 L510.28,100.88 L511.31,97.81 L512.35,94.99 L513.38,92.41 L514.41,90.04 L515.44,87.87 L516.47,85.88 L517.50,84.05 L518.53,82.38 L519.57,80.85 L520.60,79.45 L521.63,78.16 L522.66,76.98 L523.69,75.90 L524.72,74.90 L525.75,73.99 L526.79,73.16 L527.82,72.40 L528.85,71.70 L529.88,71.05 L530.91,70.47 L531.94,69.93 L532.97,69.43 L534.01,68.98 L535.04,68.56 L536.07,68.18 L537.10,67.83 L538.13,67.51 L539.16,67.22 L540.19,67.75 L541.23,70.27 L542.26,72.64 L543.29,74.87 L544.32,76.97 L545.35,78.94 L546.38,80.79 L547.41,82.54 L548.45,84.18 L549.48,85.72 L550.51,87.17 L551.54,88.53 L552.57,89.82 L553.60,91.02 L554.63,92.16 L555.67,93.23 L556.70,94.23 L557.73,95.17 L558.76,96.06 L559.79,96.90 L560.82,97.68 L561.85,98.42 L562.89,99.12 L563.92,99.77 L564.95,100.38 L565.98,100.96 L567.01,101.51 L568.04,102.02 L569.07,102.50 L570.11,102.95 L571.14,103.38 L572.17,103.78 L573.20,104.16 L574.23,104.51 L575.26,104.85 L576.29,105.16 L577.33,105.45 L578.36,105.73 L579.39,105.99 L580.42,106.24 L581.45,106.47 L582.48,106.69 L583.51,106.90 L584.55,107.09 L585.58,107.27 L586.61,107.44 L587.64,107.60 L588.67,107.75 L589.70,107.90 L590.73,108.03 L591.77,108.16 L592.80,108.28 L593.83,108.39 L594.86,108.49 L595.89,108.59 L596.92,108.69 L597.95,108.77 L598.99,108.86 L600.02,108.94 L601.05,109.01 L602.08,109.08 L603.11,109.14 L604.14,109.20 L605.17,109.26 L606.21,109.32 L607.24,109.37 L608.27,109.42 L609.30,109.46 L610.33,109.51 L611.36,109.55 L612.39,109.58 L613.43,109.62 L614.46,109.65 L615.49,109.69 L616.52,109.72 L617.55,109.74 L618.58,109.77 L619.61,109.80 L620.65,109.82 L621.68,109.84 L622.71,109.86 L623.74,109.88 L624.77,109.90 L625.80,109.92 L626.83,109.94 L627.87,109.95 L628.90,109.97 L629.93,109.98 L630.96,109.99 L631.99,110.01 L633.02,110.02 L634.05,110.03 L635.09,110.04 L636.12,110.05 L637.15,110.06 L638.18,110.07 L639.21,110.08 L640.24,110.08 L641.27,110.09" stroke="#c8a838" stroke-width="0.8" fill="none" stroke-linejoin="round"/>
<path d="M486.56,109.09 L487.59,109.09 L488.62,109.09 L489.65,109.09 L490.69,109.09 L491.72,109.09 L492.75,109.09 L493.78,109.09 L494.81,109.09 L495.84,109.09 L496.87,109.09 L497.91,109.09 L498.94,109.09 L499.97,109.09 L501.00,109.09 L502.03,109.09 L503.06,109.09 L504.09,109.09 L505.13,109.09 L506.16,109.09 L507.19,109.09 L508.22,108.59 L509.25,107.04 L510.28,105.57 L511.31,104.19 L512.35,102.89 L513.38,101.66 L514.41,100.50 L515.44,99.40 L516.47,98.37 L517.50,97.39 L518.53,96.47 L519.57,95.60 L520.60,94.78 L521.63,94.01 L522.66,93.28 L523.69,92.59 L524.72,91.94 L525.75,91.32 L526.79,90.74 L527.82,90.20 L528.85,89.68 L529.88,89.19 L530.91,88.74 L531.94,88.30 L532.97,87.89 L534.01,87.51 L535.04,87.14 L536.07,86.80 L537.10,86.48 L538.13,86.17 L539.16,85.88 L540.19,86.06 L541.23,87.39 L542.26,88.64 L543.29,89.82 L544.32,90.94 L545.35,91.99 L546.38,92.99 L547.41,93.93 L548.45,94.81 L549.48,95.65 L550.51,96.44 L551.54,97.18 L552.57,97.89 L553.60,98.55 L554.63,99.18 L555.67,99.77 L556.70,100.33 L557.73,100.86 L558.76,101.36 L559.79,101.83 L560.82,102.27 L561.85,102.69 L562.89,103.09 L563.92,103.46 L564.95,103.82 L565.98,104.15 L567.01,104.47 L568.04,104.76 L569.07,105.04 L570.11,105.31 L571.14,105.56 L572.17,105.80 L573.20,106.02 L574.23,106.23 L575.26,106.43 L576.29,106.62 L577.33,106.79 L578.36,106.96 L579.39,107.12 L580.42,107.27 L581.45,107.41 L582.48,107.55 L583.51,107.67 L584.55,107.79 L585.58,107.90 L586.61,108.01 L587.64,108.11 L588.67,108.21 L589.70,108.29 L590.73,108.38 L591.77,108.46 L592.80,108.54 L593.83,108.61 L594.86,108.67 L595.89,108.74 L596.92,108.80 L597.95,108.85 L598.99,108.91 L600.02,108.96 L601.05,109.01 L602.08,109.05 L603.11,109.10 L604.14,109.14 L605.17,109.17 L606.21,109.21 L607.24,109.25 L608.27,109.28 L609.30,109.31 L610.33,109.34 L611.36,109.36 L612.39,109.39 L613.43,109.41 L614.46,109.44 L615.49,109.46 L616.52,109.48 L617.55,109.50 L618.58,109.52 L619.61,109.54 L620.65,109.55 L621.68,109.57 L622.71,109.58 L623.74,109.60 L624.77,109.61 L625.80,109.62 L626.83,109.63 L627.87,109.65 L628.90,109.66 L629.93,109.67 L630.96,109.68 L631.99,109.68 L633.02,109.69 L634.05,109.70 L635.09,109.71 L636.12,109.72 L637.15,109.72 L638.18,109.73 L639.21,109.74 L640.24,109.74 L641.27,109.75" stroke="#e060a0" stroke-width="0.8" fill="none" stroke-linejoin="round"/>
<path d="M486.56,109.09 L487.59,109.09 L488.62,109.09 L489.65,109.09 L490.69,109.09 L491.72,109.09 L492.75,109.09 L493.78,109.09 L494.81,109.09 L495.84,109.09 L496.87,109.09 L497.91,109.09 L498.94,109.09 L499.97,109.09 L501.00,109.09 L502.03,109.09 L503.06,109.09 L504.09,109.09 L505.13,109.09 L506.16,109.09 L507.19,109.09 L508.22,108.87 L509.25,108.18 L510.28,107.52 L511.31,106.91 L512.35,106.33 L513.38,105.78 L514.41,105.26 L515.44,104.77 L516.47,104.31 L517.50,103.87 L518.53,103.46 L519.57,103.08 L520.60,102.71 L521.63,102.36 L522.66,102.04 L523.69,101.73 L524.72,101.44 L525.75,101.17 L526.79,100.91 L527.82,100.67 L528.85,100.44 L529.88,100.22 L530.91,100.01 L531.94,99.82 L532.97,99.64 L534.01,99.47 L535.04,99.30 L536.07,99.15 L537.10,99.01 L538.13,98.87 L539.16,98.74 L540.19,98.83 L541.23,99.43 L542.26,100.01 L543.29,100.55 L544.32,101.06 L545.35,101.54 L546.38,102.00 L547.41,102.43 L548.45,102.84 L549.48,103.22 L550.51,103.58 L551.54,103.93 L552.57,104.25 L553.60,104.56 L554.63,104.85 L555.67,105.12 L556.70,105.38 L557.73,105.62 L558.76,105.85 L559.79,106.07 L560.82,106.28 L561.85,106.47 L562.89,106.65 L563.92,106.83 L564.95,106.99 L565.98,107.14 L567.01,107.29 L568.04,107.43 L569.07,107.56 L570.11,107.68 L571.14,107.80 L572.17,107.91 L573.20,108.01 L574.23,108.11 L575.26,108.21 L576.29,108.29 L577.33,108.38 L578.36,108.46 L579.39,108.53 L580.42,108.60 L581.45,108.67 L582.48,108.73 L583.51,108.79 L584.55,108.85 L585.58,108.90 L586.61,108.95 L587.64,109.00 L588.67,109.04 L589.70,109.08 L590.73,109.12 L591.77,109.16 L592.80,109.20 L593.83,109.23 L594.86,109.26 L595.89,109.29 L596.92,109.32 L597.95,109.35 L598.99,109.38 L600.02,109.40 L601.05,109.42 L602.08,109.45 L603.11,109.47 L604.14,109.49 L605.17,109.51 L606.21,109.52 L607.24,109.54 L608.27,109.56 L609.30,109.57 L610.33,109.58 L611.36,109.60 L612.39,109.61 L613.43,109.62 L614.46,109.63 L615.49,109.64 L616.52,109.66 L617.55,109.66 L618.58,109.67 L619.61,109.68 L620.65,109.69 L621.68,109.70 L622.71,109.71 L623.74,109.71 L624.77,109.72 L625.80,109.73 L626.83,109.73 L627.87,109.74 L628.90,109.74 L629.93,109.75 L630.96,109.75 L631.99,109.76 L633.02,109.76 L634.05,109.77 L635.09,109.77 L636.12,109.77 L637.15,109.78 L638.18,109.78 L639.21,109.78 L640.24,109.79 L641.27,109.79" stroke="#40a040" stroke-width="0.8" fill="none" stroke-linejoin="round"/>
<path d="M486.56,109.09 L487.59,109.09 L488.62,109.09 L489.65,109.09 L490.69,109.09 L491.72,109.09 L492.75,109.09 L493.78,109.09 L494.81,109.09 L495.84,109.09 L496.87,109.09 L497.91,109.09 L498.94,109.09 L499.97,109.09 L501.00,109.09 L502.03,109.09 L503.06,109.09 L504.09,109.09 L505.13,109.09 L506.16,109.09 L507.19,109.09 L508.22,109.00 L509.25,108.73 L510.28,108.47 L511.31,108.23 L512.35,108.00 L513.38,107.79 L514.41,107.58 L515.44,107.39 L516.47,107.21 L517.50,107.04 L518.53,106.87 L519.57,106.72 L520.60,106.58 L521.63,106.44 L522.66,106.31 L523.69,106.19 L524.72,106.08 L525.75,105.97 L526.79,105.87 L527.82,105.77 L528.85,105.68 L529.88,105.60 L530.91,105.52 L531.94,105.44 L532.97,105.37 L534.01,105.30 L535.04,105.24 L536.07,105.18 L537.10,105.12 L538.13,105.07 L539.16,105.01 L540.19,105.05 L541.23,105.29 L542.26,105.51 L543.29,105.72 L544.32,105.92 L545.35,106.11 L546.38,106.29 L547.41,106.46 L548.45,106.62 L549.48,106.77 L550.51,106.91 L551.54,107.04 L552.57,107.17 L553.60,107.29 L554.63,107.40 L555.67,107.51 L556.70,107.61 L557.73,107.70 L558.76,107.79 L559.79,107.88 L560.82,107.95 L561.85,108.03 L562.89,108.10 L563.92,108.17 L564.95,108.23 L565.98,108.29 L567.01,108.34 L568.04,108.40 L569.07,108.45 L570.11,108.49 L571.14,108.54 L572.17,108.58 L573.20,108.62 L574.23,108.66 L575.26,108.69 L576.29,108.73 L577.33,108.76 L578.36,108.79 L579.39,108.81 L580.42,108.84 L581.45,108.87 L582.48,108.89 L583.51,108.91 L584.55,108.93 L585.58,108.95 L586.61,108.97 L587.64,108.99 L588.67,109.00 L589.70,109.02 L590.73,109.03 L591.77,109.05 L592.80,109.06 L593.83,109.07 L594.86,109.09 L595.89,109.10 L596.92,109.11 L597.95,109.12 L598.99,109.13 L600.02,109.14 L601.05,109.14 L602.08,109.15 L603.11,109.16 L604.14,109.17 L605.17,109.17 L606.21,109.18 L607.24,109.18 L608.27,109.19 L609.30,109.19 L610.33,109.20 L611.36,109.20 L612.39,109.21 L613.43,109.21 L614.46,109.22 L615.49,109.22 L616.52,109.22 L617.55,109.23 L618.58,109.23 L619.61,109.23 L620.65,109.24 L621.68,109.24 L622.71,109.24 L623.74,109.24 L624.77,109.25 L625.80,109.25 L626.83,109.25 L627.87,109.25 L628.90,109.25 L629.93,109.25 L630.96,109.26 L631.99,109.26 L633.02,109.26 L634.05,109.26 L635.09,109.26 L636.12,109.26 L637.15,109.26 L638.18,109.26 L639.21,109.27 L640.24,109.27 L641.27,109.27" stroke="#e09030" stroke-width="0.8" fill="none" stroke-linejoin="round"/>
<path d="M486.56,109.09 L487.59,109.09 L488.62,109.09 L489.65,109.09 L490.69,109.09 L491.72,109.09 L492.75,109.09 L493.78,109.09 L494.81,109.09 L495.84,109.09 L496.87,109.09 L497.91,109.09 L498.94,109.09 L499.97,109.09 L501.00,109.09 L502.03,109.09 L503.06,109.09 L504.09,109.09 L505.13,109.09 L506.16,109.09 L507.19,109.09 L508.22,109.06 L509.25,108.95 L510.28,108.85 L511.31,108.76 L512.35,108.67 L513.38,108.59 L514.41,108.51 L515.44,108.44 L516.47,108.37 L517.50,108.30 L518.53,108.24 L519.57,108.18 L520.60,108.12 L521.63,108.07 L522.66,108.02 L523.69,107.98 L524.72,107.93 L525.75,107.89 L526.79,107.85 L527.82,107.82 L528.85,107.78 L529.88,107.75 L530.91,107.72 L531.94,107.69 L532.97,107.66 L534.01,107.63 L535.04,107.61 L536.07,107.59 L537.10,107.56 L538.13,107.54 L539.16,107.52 L540.19,107.54 L541.23,107.64 L542.26,107.73 L543.29,107.82 L544.32,107.90 L545.35,107.98 L546.38,108.05 L547.41,108.12 L548.45,108.19 L549.48,108.25 L550.51,108.31 L551.54,108.36 L552.57,108.41 L553.60,108.46 L554.63,108.51 L555.67,108.55 L556.70,108.59 L557.73,108.63 L558.76,108.67 L559.79,108.70 L560.82,108.74 L561.85,108.77 L562.89,108.79 L563.92,108.82 L564.95,108.85 L565.98,108.87 L567.01,108.90 L568.04,108.92 L569.07,108.94 L570.11,108.96 L571.14,108.98 L572.17,108.99 L573.20,109.01 L574.23,109.02 L575.26,109.04 L576.29,109.05 L577.33,109.07 L578.36,109.08 L579.39,109.09 L580.42,109.10 L581.45,109.11 L582.48,109.12 L583.51,109.13 L584.55,109.14 L585.58,109.15 L586.61,109.15 L587.64,109.16 L588.67,109.17 L589.70,109.17 L590.73,109.18 L591.77,109.19 L592.80,109.19 L593.83,109.20 L594.86,109.20 L595.89,109.21 L596.92,109.21 L597.95,109.21 L598.99,109.22 L600.02,109.22 L601.05,109.22 L602.08,109.23 L603.11,109.23 L604.14,109.23 L605.17,109.24 L606.21,109.24 L607.24,109.24 L608.27,109.24 L609.30,109.25 L610.33,109.25 L611.36,109.25 L612.39,109.25 L613.43,109.25 L614.46,109.25 L615.49,109.26 L616.52,109.26 L617.55,109.26 L618.58,109.26 L619.61,109.26 L620.65,109.26 L621.68,109.26 L622.71,109.26 L623.74,109.27 L624.77,109.27 L625.80,109.27 L626.83,109.27 L627.87,109.27 L628.90,109.27 L629.93,109.27 L630.96,109.27 L631.99,109.27 L633.02,109.27 L634.05,109.27 L635.09,109.27 L636.12,109.27 L637.15,109.27 L638.18,109.27 L639.21,109.27 L640.24,109.28 L641.27,109.28" stroke="#5080c0" stroke-width="0.8" fill="none" stroke-linejoin="round"/>
<path d="M486.56,109.09 L487.59,109.09 L488.62,109.09 L489.65,109.09 L490.69,109.09 L491.72,109.09 L492.75,109.09 L493.78,109.09 L494.81,109.09 L495.84,109.09 L496.87,109.09 L497.91,109.09 L498.94,109.09 L499.97,109.09 L501.00,109.09 L502.03,109.09 L503.06,109.09 L504.09,109.09 L505.13,109.09 L506.16,109.09 L507.19,109.09 L508.22,40.15 L509.25,26.59 L510.28,26.61 L511.31,26.67 L512.35,26.73 L513.38,26.79 L514.41,26.86 L515.44,26.92 L516.47,26.98 L517.50,27.04 L518.53,27.10 L519.57,27.16 L520.60,27.22 L521.63,27.28 L522.66,27.34 L523.69,27.40 L524.72,27.47 L525.75,27.53 L526.79,27.59 L527.82,27.65 L528.85,27.71 L529.88,27.77 L530.91,27.83 L531.94,27.89 L532.97,27.95 L534.01,28.02 L535.04,28.08 L536.07,28.14 L537.10,28.20 L538.13,28.26 L539.16,28.32 L540.19,28.04 L541.23,33.51 L542.26,38.60 L543.29,43.35 L544.32,47.79 L545.35,51.92 L546.38,55.78 L547.41,59.37 L548.45,62.73 L549.48,65.86 L550.51,68.78 L551.54,71.50 L552.57,74.04 L553.60,76.41 L554.63,78.62 L555.67,80.68 L556.70,82.61 L557.73,84.40 L558.76,86.07 L559.79,87.63 L560.82,89.09 L561.85,90.45 L562.89,91.71 L563.92,92.89 L564.95,94.00 L565.98,95.02 L567.01,95.98 L568.04,96.88 L569.07,97.71 L570.11,98.49 L571.14,99.21 L572.17,99.89 L573.20,100.52 L574.23,101.11 L575.26,101.66 L576.29,102.17 L577.33,102.65 L578.36,103.10 L579.39,103.51 L580.42,103.90 L581.45,104.26 L582.48,104.60 L583.51,104.91 L584.55,105.21 L585.58,105.48 L586.61,105.74 L587.64,105.98 L588.67,106.20 L589.70,106.41 L590.73,106.60 L591.77,106.78 L592.80,106.95 L593.83,107.10 L594.86,107.25 L595.89,107.39 L596.92,107.51 L597.95,107.63 L598.99,107.74 L600.02,107.85 L601.05,107.94 L602.08,108.03 L603.11,108.12 L604.14,108.20 L605.17,108.27 L606.21,108.34 L607.24,108.40 L608.27,108.46 L609.30,108.51 L610.33,108.57 L611.36,108.61 L612.39,108.66 L613.43,108.70 L614.46,108.74 L615.49,108.78 L616.52,108.81 L617.55,108.84 L618.58,108.87 L619.61,108.90 L620.65,108.93 L621.68,108.95 L622.71,108.97 L623.74,108.99 L624.77,109.01 L625.80,109.03 L626.83,109.05 L627.87,109.06 L628.90,109.08 L629.93,109.09 L630.96,109.10 L631.99,109.12 L633.02,109.13 L634.05,109.14 L635.09,109.15 L636.12,109.16 L637.15,109.16 L638.18,109.17 L639.21,109.18 L640.24,109.19 L641.27,109.19" stroke="#000" stroke-width="0.9" fill="none" stroke-linejoin="round"/>
<path d="M486.56,109.09 L487.59,109.09 L488.62,109.09 L489.65,109.09 L490.69,109.09 L491.72,109.09 L492.75,109.09 L493.78,109.09 L494.81,109.09 L495.84,109.09 L496.87,109.09 L497.91,109.09 L498.94,109.09 L499.97,109.09 L501.00,109.09 L502.03,109.09 L503.06,109.09 L504.09,109.09 L505.13,109.09 L506.16,109.09 L507.19,109.09 L508.22,89.64 L509.25,55.19 L510.28,42.09 L511.31,37.11 L512.35,35.21 L513.38,34.49 L514.41,34.22 L515.44,34.11 L516.47,34.07 L517.50,34.06 L518.53,34.05 L519.57,34.05 L520.60,34.05 L521.63,34.05 L522.66,34.05 L523.69,34.05 L524.72,34.05 L525.75,34.05 L526.79,34.05 L527.82,34.05 L528.85,34.05 L529.88,34.05 L530.91,34.05 L531.94,34.05 L532.97,34.05 L534.01,34.05 L535.04,34.05 L536.07,34.05 L537.10,34.05 L538.13,34.05 L539.16,34.05 L540.19,35.48 L541.23,40.44 L542.26,45.07 L543.29,49.39 L544.32,53.41 L545.35,57.17 L546.38,60.67 L547.41,63.94 L548.45,66.99 L549.48,69.83 L550.51,72.49 L551.54,74.96 L552.57,77.27 L553.60,79.42 L554.63,81.43 L555.67,83.30 L556.70,85.05 L557.73,86.68 L558.76,88.20 L559.79,89.61 L560.82,90.94 L561.85,92.17 L562.89,93.32 L563.92,94.39 L564.95,95.39 L565.98,96.33 L567.01,97.20 L568.04,98.01 L569.07,98.77 L570.11,99.48 L571.14,100.14 L572.17,100.75 L573.20,101.32 L574.23,101.86 L575.26,102.36 L576.29,102.82 L577.33,103.26 L578.36,103.66 L579.39,104.04 L580.42,104.39 L581.45,104.72 L582.48,105.03 L583.51,105.31 L584.55,105.58 L585.58,105.83 L586.61,106.06 L587.64,106.28 L588.67,106.48 L589.70,106.67 L590.73,106.84 L591.77,107.01 L592.80,107.16 L593.83,107.30 L594.86,107.44 L595.89,107.56 L596.92,107.68 L597.95,107.78 L598.99,107.88 L600.02,107.98 L601.05,108.07 L602.08,108.15 L603.11,108.22 L604.14,108.30 L605.17,108.36 L606.21,108.42 L607.24,108.48 L608.27,108.53 L609.30,108.59 L610.33,108.63 L611.36,108.68 L612.39,108.72 L613.43,108.75 L614.46,108.79 L615.49,108.82 L616.52,108.85 L617.55,108.88 L618.58,108.91 L619.61,108.93 L620.65,108.96 L621.68,108.98 L622.71,109.00 L623.74,109.02 L624.77,109.04 L625.80,109.05 L626.83,109.07 L627.87,109.08 L628.90,109.10 L629.93,109.11 L630.96,109.12 L631.99,109.13 L633.02,109.14 L634.05,109.15 L635.09,109.16 L636.12,109.17 L637.15,109.18 L638.18,109.18 L639.21,109.19 L640.24,109.20 L641.27,109.20" stroke="#000" stroke-width="0.9" fill="none" stroke-linejoin="round"/>
<path d="M486.56,109.09 L487.59,109.09 L488.62,109.09 L489.65,109.09 L490.69,109.09 L491.72,109.09 L492.75,109.09 L493.78,109.09 L494.81,109.09 L495.84,109.09 L496.87,109.09 L497.91,109.09 L498.94,109.09 L499.97,109.09 L501.00,109.09 L502.03,109.09 L503.06,109.09 L504.09,109.09 L505.13,109.09 L506.16,109.09 L507.19,109.09 L508.22,100.80 L509.25,80.43 L510.28,67.12 L511.31,58.42 L512.35,52.73 L513.38,49.02 L514.41,46.59 L515.44,45.00 L516.47,43.97 L517.50,43.29 L518.53,42.84 L519.57,42.56 L520.60,42.37 L521.63,42.24 L522.66,42.16 L523.69,42.11 L524.72,42.07 L525.75,42.05 L526.79,42.04 L527.82,42.03 L528.85,42.02 L529.88,42.02 L530.91,42.01 L531.94,42.01 L532.97,42.01 L534.01,42.01 L535.04,42.01 L536.07,42.01 L537.10,42.01 L538.13,42.01 L539.16,42.01 L540.19,43.29 L541.23,47.73 L542.26,51.86 L543.29,55.72 L544.32,59.33 L545.35,62.68 L546.38,65.82 L547.41,68.74 L548.45,71.46 L549.48,74.01 L550.51,76.38 L551.54,78.59 L552.57,80.65 L553.60,82.58 L554.63,84.37 L555.67,86.05 L556.70,87.61 L557.73,89.07 L558.76,90.43 L559.79,91.69 L560.82,92.88 L561.85,93.98 L562.89,95.01 L563.92,95.97 L564.95,96.86 L565.98,97.70 L567.01,98.48 L568.04,99.20 L569.07,99.88 L570.11,100.51 L571.14,101.10 L572.17,101.65 L573.20,102.17 L574.23,102.64 L575.26,103.09 L576.29,103.51 L577.33,103.89 L578.36,104.26 L579.39,104.59 L580.42,104.91 L581.45,105.20 L582.48,105.48 L583.51,105.73 L584.55,105.97 L585.58,106.19 L586.61,106.40 L587.64,106.60 L588.67,106.78 L589.70,106.94 L590.73,107.10 L591.77,107.25 L592.80,107.39 L593.83,107.51 L594.86,107.63 L595.89,107.74 L596.92,107.85 L597.95,107.94 L598.99,108.03 L600.02,108.12 L601.05,108.19 L602.08,108.27 L603.11,108.34 L604.14,108.40 L605.17,108.46 L606.21,108.51 L607.24,108.57 L608.27,108.61 L609.30,108.66 L610.33,108.70 L611.36,108.74 L612.39,108.78 L613.43,108.81 L614.46,108.84 L615.49,108.87 L616.52,108.90 L617.55,108.92 L618.58,108.95 L619.61,108.97 L620.65,108.99 L621.68,109.01 L622.71,109.03 L623.74,109.05 L624.77,109.06 L625.80,109.08 L626.83,109.09 L627.87,109.10 L628.90,109.12 L629.93,109.13 L630.96,109.14 L631.99,109.15 L633.02,109.16 L634.05,109.16 L635.09,109.17 L636.12,109.18 L637.15,109.19 L638.18,109.19 L639.21,109.20 L640.24,109.20 L641.27,109.21" stroke="#000" stroke-width="0.9" fill="none" stroke-linejoin="round"/>
<path d="M486.56,109.09 L487.59,109.09 L488.62,109.09 L489.65,109.09 L490.69,109.09 L491.72,109.09 L492.75,109.09 L493.78,109.09 L494.81,109.09 L495.84,109.09 L496.87,109.09 L497.91,109.09 L498.94,109.09 L499.97,109.09 L501.00,109.09 L502.03,109.09 L503.06,109.09 L504.09,109.09 L505.13,109.09 L506.16,109.09 L507.19,109.09 L508.22,105.06 L509.25,93.89 L510.28,85.03 L511.31,78.01 L512.35,72.44 L513.38,68.02 L514.41,64.52 L515.44,61.74 L516.47,59.54 L517.50,57.79 L518.53,56.41 L519.57,55.31 L520.60,54.44 L521.63,53.75 L522.66,53.20 L523.69,52.77 L524.72,52.42 L525.75,52.15 L526.79,51.93 L527.82,51.76 L528.85,51.63 L529.88,51.52 L530.91,51.43 L531.94,51.36 L532.97,51.31 L534.01,51.27 L535.04,51.23 L536.07,51.21 L537.10,51.19 L538.13,51.17 L539.16,51.16 L540.19,52.25 L541.23,56.09 L542.26,59.66 L543.29,63.00 L544.32,66.11 L545.35,69.01 L546.38,71.72 L547.41,74.25 L548.45,76.60 L549.48,78.80 L550.51,80.85 L551.54,82.76 L552.57,84.54 L553.60,86.21 L554.63,87.76 L555.67,89.21 L556.70,90.56 L557.73,91.81 L558.76,92.99 L559.79,94.08 L560.82,95.11 L561.85,96.06 L562.89,96.95 L563.92,97.78 L564.95,98.55 L565.98,99.27 L567.01,99.94 L568.04,100.57 L569.07,101.16 L570.11,101.70 L571.14,102.21 L572.17,102.69 L573.20,103.13 L574.23,103.55 L575.26,103.93 L576.29,104.29 L577.33,104.63 L578.36,104.94 L579.39,105.23 L580.42,105.50 L581.45,105.76 L582.48,105.99 L583.51,106.22 L584.55,106.42 L585.58,106.61 L586.61,106.79 L587.64,106.96 L588.67,107.12 L589.70,107.26 L590.73,107.40 L591.77,107.52 L592.80,107.64 L593.83,107.75 L594.86,107.86 L595.89,107.95 L596.92,108.04 L597.95,108.12 L598.99,108.20 L600.02,108.27 L601.05,108.34 L602.08,108.41 L603.11,108.46 L604.14,108.52 L605.17,108.57 L606.21,108.62 L607.24,108.66 L608.27,108.70 L609.30,108.74 L610.33,108.78 L611.36,108.81 L612.39,108.84 L613.43,108.87 L614.46,108.90 L615.49,108.93 L616.52,108.95 L617.55,108.97 L618.58,108.99 L619.61,109.01 L620.65,109.03 L621.68,109.05 L622.71,109.06 L623.74,109.08 L624.77,109.09 L625.80,109.10 L626.83,109.12 L627.87,109.13 L628.90,109.14 L629.93,109.15 L630.96,109.16 L631.99,109.17 L633.02,109.17 L634.05,109.18 L635.09,109.19 L636.12,109.19 L637.15,109.20 L638.18,109.20 L639.21,109.21 L640.24,109.21 L641.27,109.22" stroke="#000" stroke-width="0.9" fill="none" stroke-linejoin="round"/>
<path d="M486.56,109.09 L487.59,109.09 L488.62,109.09 L489.65,109.09 L490.69,109.09 L491.72,109.09 L492.75,109.09 L493.78,109.09 L494.81,109.09 L495.84,109.09 L496.87,109.09 L497.91,109.09 L498.94,109.09 L499.97,109.09 L501.00,109.09 L502.03,109.09 L503.06,109.09 L504.09,109.09 L505.13,109.09 L506.16,109.09 L507.19,109.09 L508.22,107.90 L509.25,104.27 L510.28,100.95 L511.31,97.90 L512.35,95.11 L513.38,92.55 L514.41,90.20 L515.44,88.05 L516.47,86.07 L517.50,84.26 L518.53,82.61 L519.57,81.09 L520.60,79.69 L521.63,78.42 L522.66,77.25 L523.69,76.17 L524.72,75.19 L525.75,74.29 L526.79,73.46 L527.82,72.71 L528.85,72.01 L529.88,71.37 L530.91,70.79 L531.94,70.26 L532.97,69.76 L534.01,69.32 L535.04,68.90 L536.07,68.53 L537.10,68.18 L538.13,67.86 L539.16,67.57 L540.19,68.17 L541.23,70.94 L542.26,73.51 L543.29,75.92 L544.32,78.16 L545.35,80.25 L546.38,82.21 L547.41,84.03 L548.45,85.72 L549.48,87.31 L550.51,88.79 L551.54,90.16 L552.57,91.45 L553.60,92.65 L554.63,93.77 L555.67,94.81 L556.70,95.78 L557.73,96.69 L558.76,97.54 L559.79,98.33 L560.82,99.06 L561.85,99.75 L562.89,100.39 L563.92,100.99 L564.95,101.55 L565.98,102.07 L567.01,102.55 L568.04,103.00 L569.07,103.43 L570.11,103.82 L571.14,104.19 L572.17,104.53 L573.20,104.85 L574.23,105.15 L575.26,105.42 L576.29,105.68 L577.33,105.93 L578.36,106.15 L579.39,106.36 L580.42,106.56 L581.45,106.74 L582.48,106.91 L583.51,107.07 L584.55,107.22 L585.58,107.36 L586.61,107.49 L587.64,107.61 L588.67,107.72 L589.70,107.83 L590.73,107.92 L591.77,108.02 L592.80,108.10 L593.83,108.18 L594.86,108.25 L595.89,108.32 L596.92,108.39 L597.95,108.45 L598.99,108.50 L600.02,108.56 L601.05,108.60 L602.08,108.65 L603.11,108.69 L604.14,108.73 L605.17,108.77 L606.21,108.80 L607.24,108.84 L608.27,108.87 L609.30,108.89 L610.33,108.92 L611.36,108.94 L612.39,108.97 L613.43,108.99 L614.46,109.01 L615.49,109.03 L616.52,109.04 L617.55,109.06 L618.58,109.07 L619.61,109.09 L620.65,109.10 L621.68,109.11 L622.71,109.12 L623.74,109.14 L624.77,109.14 L625.80,109.15 L626.83,109.16 L627.87,109.17 L628.90,109.18 L629.93,109.19 L630.96,109.19 L631.99,109.20 L633.02,109.20 L634.05,109.21 L635.09,109.21 L636.12,109.22 L637.15,109.22 L638.18,109.23 L639.21,109.23 L640.24,109.23 L641.27,109.24" stroke="#000" stroke-width="0.9" fill="none" stroke-linejoin="round"/>
<path d="M486.56,109.09 L487.59,109.09 L488.62,109.09 L489.65,109.09 L490.69,109.09 L491.72,109.09 L492.75,109.09 L493.78,109.09 L494.81,109.09 L495.84,109.09 L496.87,109.09 L497.91,109.09 L498.94,109.09 L499.97,109.09 L501.00,109.09 L502.03,109.09 L503.06,109.09 L504.09,109.09 L505.13,109.09 L506.16,109.09 L507.19,109.09 L508.22,108.59 L509.25,107.04 L510.28,105.57 L511.31,104.19 L512.35,102.89 L513.38,101.66 L514.41,100.50 L515.44,99.40 L516.47,98.37 L517.50,97.39 L518.53,96.47 L519.57,95.60 L520.60,94.78 L521.63,94.01 L522.66,93.28 L523.69,92.59 L524.72,91.94 L525.75,91.32 L526.79,90.74 L527.82,90.20 L528.85,89.68 L529.88,89.19 L530.91,88.74 L531.94,88.30 L532.97,87.89 L534.01,87.51 L535.04,87.14 L536.07,86.80 L537.10,86.48 L538.13,86.17 L539.16,85.88 L540.19,86.13 L541.23,87.69 L542.26,89.14 L543.29,90.49 L544.32,91.76 L545.35,92.93 L546.38,94.03 L547.41,95.06 L548.45,96.02 L549.48,96.91 L550.51,97.74 L551.54,98.52 L552.57,99.24 L553.60,99.91 L554.63,100.54 L555.67,101.13 L556.70,101.68 L557.73,102.19 L558.76,102.67 L559.79,103.11 L560.82,103.53 L561.85,103.91 L562.89,104.27 L563.92,104.61 L564.95,104.93 L565.98,105.22 L567.01,105.49 L568.04,105.75 L569.07,105.98 L570.11,106.21 L571.14,106.41 L572.17,106.61 L573.20,106.79 L574.23,106.95 L575.26,107.11 L576.29,107.26 L577.33,107.39 L578.36,107.52 L579.39,107.64 L580.42,107.75 L581.45,107.85 L582.48,107.95 L583.51,108.04 L584.55,108.12 L585.58,108.20 L586.61,108.27 L587.64,108.34 L588.67,108.40 L589.70,108.46 L590.73,108.52 L591.77,108.57 L592.80,108.62 L593.83,108.66 L594.86,108.70 L595.89,108.74 L596.92,108.78 L597.95,108.81 L598.99,108.84 L600.02,108.87 L601.05,108.90 L602.08,108.93 L603.11,108.95 L604.14,108.97 L605.17,108.99 L606.21,109.01 L607.24,109.03 L608.27,109.05 L609.30,109.06 L610.33,109.08 L611.36,109.09 L612.39,109.10 L613.43,109.12 L614.46,109.13 L615.49,109.14 L616.52,109.15 L617.55,109.16 L618.58,109.16 L619.61,109.17 L620.65,109.18 L621.68,109.19 L622.71,109.19 L623.74,109.20 L624.77,109.20 L625.80,109.21 L626.83,109.21 L627.87,109.22 L628.90,109.22 L629.93,109.23 L630.96,109.23 L631.99,109.23 L633.02,109.24 L634.05,109.24 L635.09,109.24 L636.12,109.25 L637.15,109.25 L638.18,109.25 L639.21,109.25 L640.24,109.25 L641.27,109.26" stroke="#000" stroke-width="0.9" fill="none" stroke-linejoin="round"/>
<path d="M486.56,109.09 L487.59,109.09 L488.62,109.09 L489.65,109.09 L490.69,109.09 L491.72,109.09 L492.75,109.09 L493.78,109.09 L494.81,109.09 L495.84,109.09 L496.87,109.09 L497.91,109.09 L498.94,109.09 L499.97,109.09 L501.00,109.09 L502.03,109.09 L503.06,109.09 L504.09,109.09 L505.13,109.09 L506.16,109.09 L507.19,109.09 L508.22,108.87 L509.25,108.18 L510.28,107.52 L511.31,106.91 L512.35,106.33 L513.38,105.78 L514.41,105.26 L515.44,104.77 L516.47,104.31 L517.50,103.87 L518.53,103.46 L519.57,103.08 L520.60,102.71 L521.63,102.36 L522.66,102.04 L523.69,101.73 L524.72,101.44 L525.75,101.17 L526.79,100.91 L527.82,100.67 L528.85,100.44 L529.88,100.22 L530.91,100.01 L531.94,99.82 L532.97,99.64 L534.01,99.47 L535.04,99.30 L536.07,99.15 L537.10,99.01 L538.13,98.87 L539.16,98.74 L540.19,98.85 L541.23,99.56 L542.26,100.21 L543.29,100.82 L544.32,101.39 L545.35,101.92 L546.38,102.41 L547.41,102.88 L548.45,103.31 L549.48,103.71 L550.51,104.08 L551.54,104.43 L552.57,104.76 L553.60,105.06 L554.63,105.35 L555.67,105.61 L556.70,105.86 L557.73,106.09 L558.76,106.30 L559.79,106.50 L560.82,106.69 L561.85,106.86 L562.89,107.03 L563.92,107.18 L564.95,107.32 L565.98,107.45 L567.01,107.57 L568.04,107.69 L569.07,107.80 L570.11,107.90 L571.14,107.99 L572.17,108.08 L573.20,108.16 L574.23,108.23 L575.26,108.30 L576.29,108.37 L577.33,108.43 L578.36,108.49 L579.39,108.54 L580.42,108.59 L581.45,108.64 L582.48,108.68 L583.51,108.72 L584.55,108.76 L585.58,108.79 L586.61,108.83 L587.64,108.86 L588.67,108.89 L589.70,108.91 L590.73,108.94 L591.77,108.96 L592.80,108.98 L593.83,109.00 L594.86,109.02 L595.89,109.04 L596.92,109.05 L597.95,109.07 L598.99,109.08 L600.02,109.10 L601.05,109.11 L602.08,109.12 L603.11,109.13 L604.14,109.14 L605.17,109.15 L606.21,109.16 L607.24,109.17 L608.27,109.18 L609.30,109.18 L610.33,109.19 L611.36,109.20 L612.39,109.20 L613.43,109.21 L614.46,109.21 L615.49,109.22 L616.52,109.22 L617.55,109.23 L618.58,109.23 L619.61,109.23 L620.65,109.24 L621.68,109.24 L622.71,109.24 L623.74,109.24 L624.77,109.25 L625.80,109.25 L626.83,109.25 L627.87,109.25 L628.90,109.26 L629.93,109.26 L630.96,109.26 L631.99,109.26 L633.02,109.26 L634.05,109.26 L635.09,109.26 L636.12,109.27 L637.15,109.27 L638.18,109.27 L639.21,109.27 L640.24,109.27 L641.27,109.27" stroke="#000" stroke-width="0.9" fill="none" stroke-linejoin="round"/>
<path d="M486.56,109.09 L487.59,109.09 L488.62,109.09 L489.65,109.09 L490.69,109.09 L491.72,109.09 L492.75,109.09 L493.78,109.09 L494.81,109.09 L495.84,109.09 L496.87,109.09 L497.91,109.09 L498.94,109.09 L499.97,109.09 L501.00,109.09 L502.03,109.09 L503.06,109.09 L504.09,109.09 L505.13,109.09 L506.16,109.09 L507.19,109.09 L508.22,109.00 L509.25,108.73 L510.28,108.47 L511.31,108.23 L512.35,108.00 L513.38,107.79 L514.41,107.58 L515.44,107.39 L516.47,107.21 L517.50,107.04 L518.53,106.87 L519.57,106.72 L520.60,106.58 L521.63,106.44 L522.66,106.31 L523.69,106.19 L524.72,106.08 L525.75,105.97 L526.79,105.87 L527.82,105.77 L528.85,105.68 L529.88,105.60 L530.91,105.52 L531.94,105.44 L532.97,105.37 L534.01,105.30 L535.04,105.24 L536.07,105.18 L537.10,105.12 L538.13,105.07 L539.16,105.01 L540.19,105.06 L541.23,105.34 L542.26,105.61 L543.29,105.86 L544.32,106.09 L545.35,106.30 L546.38,106.50 L547.41,106.69 L548.45,106.86 L549.48,107.03 L550.51,107.18 L551.54,107.32 L552.57,107.45 L553.60,107.57 L554.63,107.69 L555.67,107.80 L556.70,107.90 L557.73,107.99 L558.76,108.08 L559.79,108.16 L560.82,108.23 L561.85,108.30 L562.89,108.37 L563.92,108.43 L564.95,108.49 L565.98,108.54 L567.01,108.59 L568.04,108.64 L569.07,108.68 L570.11,108.72 L571.14,108.76 L572.17,108.79 L573.20,108.83 L574.23,108.86 L575.26,108.89 L576.29,108.91 L577.33,108.94 L578.36,108.96 L579.39,108.98 L580.42,109.00 L581.45,109.02 L582.48,109.04 L583.51,109.05 L584.55,109.07 L585.58,109.08 L586.61,109.10 L587.64,109.11 L588.67,109.12 L589.70,109.13 L590.73,109.14 L591.77,109.15 L592.80,109.16 L593.83,109.17 L594.86,109.18 L595.89,109.18 L596.92,109.19 L597.95,109.20 L598.99,109.20 L600.02,109.21 L601.05,109.21 L602.08,109.22 L603.11,109.22 L604.14,109.23 L605.17,109.23 L606.21,109.23 L607.24,109.24 L608.27,109.24 L609.30,109.24 L610.33,109.24 L611.36,109.25 L612.39,109.25 L613.43,109.25 L614.46,109.25 L615.49,109.26 L616.52,109.26 L617.55,109.26 L618.58,109.26 L619.61,109.26 L620.65,109.26 L621.68,109.26 L622.71,109.27 L623.74,109.27 L624.77,109.27 L625.80,109.27 L626.83,109.27 L627.87,109.27 L628.90,109.27 L629.93,109.27 L630.96,109.27 L631.99,109.27 L633.02,109.27 L634.05,109.27 L635.09,109.27 L636.12,109.27 L637.15,109.28 L638.18,109.28 L639.21,109.28 L640.24,109.28 L641.27,109.28" stroke="#000" stroke-width="0.9" fill="none" stroke-linejoin="round"/>
<path d="M486.56,109.09 L487.59,109.09 L488.62,109.09 L489.65,109.09 L490.69,109.09 L491.72,109.09 L492.75,109.09 L493.78,109.09 L494.81,109.09 L495.84,109.09 L496.87,109.09 L497.91,109.09 L498.94,109.09 L499.97,109.09 L501.00,109.09 L502.03,109.09 L503.06,109.09 L504.09,109.09 L505.13,109.09 L506.16,109.09 L507.19,109.09 L508.22,109.06 L509.25,108.95 L510.28,108.85 L511.31,108.76 L512.35,108.67 L513.38,108.59 L514.41,108.51 L515.44,108.44 L516.47,108.37 L517.50,108.30 L518.53,108.24 L519.57,108.18 L520.60,108.12 L521.63,108.07 L522.66,108.02 L523.69,107.98 L524.72,107.93 L525.75,107.89 L526.79,107.85 L527.82,107.82 L528.85,107.78 L529.88,107.75 L530.91,107.72 L531.94,107.69 L532.97,107.66 L534.01,107.63 L535.04,107.61 L536.07,107.59 L537.10,107.56 L538.13,107.54 L539.16,107.52 L540.19,107.54 L541.23,107.66 L542.26,107.77 L543.29,107.87 L544.32,107.97 L545.35,108.05 L546.38,108.14 L547.41,108.21 L548.45,108.29 L549.48,108.35 L550.51,108.42 L551.54,108.47 L552.57,108.53 L553.60,108.58 L554.63,108.63 L555.67,108.67 L556.70,108.71 L557.73,108.75 L558.76,108.79 L559.79,108.82 L560.82,108.85 L561.85,108.88 L562.89,108.91 L563.92,108.93 L564.95,108.95 L565.98,108.98 L567.01,109.00 L568.04,109.02 L569.07,109.03 L570.11,109.05 L571.14,109.07 L572.17,109.08 L573.20,109.09 L574.23,109.11 L575.26,109.12 L576.29,109.13 L577.33,109.14 L578.36,109.15 L579.39,109.16 L580.42,109.17 L581.45,109.17 L582.48,109.18 L583.51,109.19 L584.55,109.19 L585.58,109.20 L586.61,109.21 L587.64,109.21 L588.67,109.22 L589.70,109.22 L590.73,109.22 L591.77,109.23 L592.80,109.23 L593.83,109.23 L594.86,109.24 L595.89,109.24 L596.92,109.24 L597.95,109.25 L598.99,109.25 L600.02,109.25 L601.05,109.25 L602.08,109.25 L603.11,109.26 L604.14,109.26 L605.17,109.26 L606.21,109.26 L607.24,109.26 L608.27,109.26 L609.30,109.27 L610.33,109.27 L611.36,109.27 L612.39,109.27 L613.43,109.27 L614.46,109.27 L615.49,109.27 L616.52,109.27 L617.55,109.27 L618.58,109.27 L619.61,109.27 L620.65,109.27 L621.68,109.27 L622.71,109.27 L623.74,109.28 L624.77,109.28 L625.80,109.28 L626.83,109.28 L627.87,109.28 L628.90,109.28 L629.93,109.28 L630.96,109.28 L631.99,109.28 L633.02,109.28 L634.05,109.28 L635.09,109.28 L636.12,109.28 L637.15,109.28 L638.18,109.28 L639.21,109.28 L640.24,109.28 L641.27,109.28" stroke="#000" stroke-width="0.9" fill="none" stroke-linejoin="round"/>
<line x1="28.40" y1="167.50" x2="28.40" y2="275.20" stroke="#5d6d7e" stroke-width="0.9"/>
<line x1="28.00" y1="274.80" x2="204.60" y2="274.80" stroke="#5d6d7e" stroke-width="0.9"/>
<line x1="24.60" y1="268.60" x2="28.40" y2="268.60" stroke="#5d6d7e" stroke-width="0.8"/>
<text x="20.10" y="271.05" font-size="7.86" fill="#46566a" textLength="3.91" lengthAdjust="spacingAndGlyphs">0</text>
<line x1="24.60" y1="253.05" x2="28.40" y2="253.05" stroke="#5d6d7e" stroke-width="0.8"/>
<text x="15.60" y="255.50" font-size="7.86" fill="#46566a" textLength="8.42" lengthAdjust="spacingAndGlyphs">10</text>
<line x1="24.60" y1="237.50" x2="28.40" y2="237.50" stroke="#5d6d7e" stroke-width="0.8"/>
<text x="15.60" y="239.95" font-size="7.86" fill="#46566a" textLength="8.42" lengthAdjust="spacingAndGlyphs">20</text>
<line x1="24.60" y1="221.95" x2="28.40" y2="221.95" stroke="#5d6d7e" stroke-width="0.8"/>
<text x="15.60" y="224.40" font-size="7.86" fill="#46566a" textLength="8.42" lengthAdjust="spacingAndGlyphs">30</text>
<line x1="24.60" y1="206.40" x2="28.40" y2="206.40" stroke="#5d6d7e" stroke-width="0.8"/>
<text x="15.60" y="208.85" font-size="7.86" fill="#46566a" textLength="8.42" lengthAdjust="spacingAndGlyphs">40</text>
<line x1="24.60" y1="190.85" x2="28.40" y2="190.85" stroke="#5d6d7e" stroke-width="0.8"/>
<text x="15.60" y="193.30" font-size="7.86" fill="#46566a" textLength="8.42" lengthAdjust="spacingAndGlyphs">50</text>
<line x1="24.60" y1="175.30" x2="28.40" y2="175.30" stroke="#5d6d7e" stroke-width="0.8"/>
<text x="15.60" y="177.75" font-size="7.86" fill="#46566a" textLength="8.42" lengthAdjust="spacingAndGlyphs">60</text>
<line x1="26.40" y1="260.83" x2="28.40" y2="260.83" stroke="#5d6d7e" stroke-width="0.6"/>
<line x1="26.40" y1="245.28" x2="28.40" y2="245.28" stroke="#5d6d7e" stroke-width="0.6"/>
<line x1="26.40" y1="229.73" x2="28.40" y2="229.73" stroke="#5d6d7e" stroke-width="0.6"/>
<line x1="26.40" y1="214.18" x2="28.40" y2="214.18" stroke="#5d6d7e" stroke-width="0.6"/>
<line x1="26.40" y1="198.63" x2="28.40" y2="198.63" stroke="#5d6d7e" stroke-width="0.6"/>
<line x1="26.40" y1="183.08" x2="28.40" y2="183.08" stroke="#5d6d7e" stroke-width="0.6"/>
<line x1="26.40" y1="167.53" x2="28.40" y2="167.53" stroke="#5d6d7e" stroke-width="0.6"/>
<line x1="58.80" y1="274.80" x2="58.80" y2="278.40" stroke="#5d6d7e" stroke-width="0.8"/>
<line x1="114.00" y1="274.80" x2="114.00" y2="278.40" stroke="#5d6d7e" stroke-width="0.8"/>
<line x1="169.20" y1="274.80" x2="169.20" y2="278.40" stroke="#5d6d7e" stroke-width="0.8"/>
<line x1="31.20" y1="274.80" x2="31.20" y2="276.70" stroke="#5d6d7e" stroke-width="0.6"/>
<line x1="86.40" y1="274.80" x2="86.40" y2="276.70" stroke="#5d6d7e" stroke-width="0.6"/>
<line x1="141.60" y1="274.80" x2="141.60" y2="276.70" stroke="#5d6d7e" stroke-width="0.6"/>
<line x1="196.80" y1="274.80" x2="196.80" y2="276.70" stroke="#5d6d7e" stroke-width="0.6"/>
<text x="56.97" y="288.90" font-size="7.71" fill="#46566a" textLength="3.66" lengthAdjust="spacingAndGlyphs">0</text>
<text x="107.92" y="288.90" font-size="7.71" fill="#46566a" textLength="12.14" lengthAdjust="spacingAndGlyphs">100</text>
<text x="163.12" y="288.90" font-size="7.71" fill="#46566a" textLength="12.14" lengthAdjust="spacingAndGlyphs">200</text>
<text x="104.10" y="298.40" font-size="6.48" fill="#222" textLength="24.89" lengthAdjust="spacingAndGlyphs">Time (s)</text>
<text x="0" y="0" font-size="6.21" fill="#222" textLength="68.89" lengthAdjust="spacingAndGlyphs" transform="translate(7.20 253.50) rotate(-90) translate(0.00 0)">Relative response (RU)</text>
<path d="M36.72,267.36 L58.80,267.67" stroke="#e070c0" stroke-width="0.8" fill="none" stroke-linejoin="round"/>
<path d="M36.72,270.78 L58.80,268.13" stroke="#000" stroke-width="0.8" fill="none" stroke-linejoin="round"/>
<path d="M58.80,267.98 L59.40,254.05 L59.99,242.20 L60.59,232.12 L61.18,223.56 L61.78,216.27 L62.38,210.07 L62.97,204.80 L63.57,200.32 L64.17,196.51 L64.76,193.27 L65.36,190.51 L65.95,188.17 L66.55,186.17 L67.15,184.48 L67.74,183.03 L68.34,181.81 L68.93,180.76 L69.53,179.88 L70.13,179.12 L70.72,178.48 L71.32,177.94 L71.92,177.47 L72.51,177.08 L73.11,176.74 L73.70,176.46 L74.30,176.21 L74.90,176.01 L75.49,175.83 L76.09,175.68 L76.68,175.56 L77.28,175.45 L77.88,175.36 L78.47,175.28 L79.07,175.21 L79.67,175.15 L80.26,175.11 L80.86,175.07 L81.45,175.03 L82.05,175.00 L82.65,174.98 L83.24,174.95 L83.84,174.94 L84.43,174.92 L85.03,174.91 L85.63,174.90 L86.22,174.89 L86.82,174.88 L87.42,174.87 L88.01,174.87 L88.61,174.86" stroke="#b070e0" stroke-width="0.8" fill="none" stroke-linejoin="round"/>
<path d="M58.80,267.98 L59.40,258.12 L59.99,249.36 L60.59,241.59 L61.18,234.69 L61.78,228.56 L62.38,223.12 L62.97,218.28 L63.57,213.99 L64.17,210.18 L64.76,206.79 L65.36,203.79 L65.95,201.12 L66.55,198.75 L67.15,196.65 L67.74,194.78 L68.34,193.12 L68.93,191.65 L69.53,190.34 L70.13,189.17 L70.72,188.14 L71.32,187.23 L71.92,186.41 L72.51,185.69 L73.11,185.05 L73.70,184.48 L74.30,183.97 L74.90,183.53 L75.49,183.13 L76.09,182.77 L76.68,182.46 L77.28,182.18 L77.88,181.93 L78.47,181.71 L79.07,181.52 L79.67,181.34 L80.26,181.19 L80.86,181.05 L81.45,180.93 L82.05,180.82 L82.65,180.72 L83.24,180.64 L83.84,180.56 L84.43,180.50 L85.03,180.44 L85.63,180.38 L86.22,180.34 L86.82,180.30 L87.42,180.26 L88.01,180.23 L88.61,180.20" stroke="#e0a030" stroke-width="0.8" fill="none" stroke-linejoin="round"/>
<path d="M58.80,267.82 L61.56,254.61 L64.32,240.61 L67.08,228.17 L70.56,214.18 L73.15,204.85 L75.36,197.07 L78.40,188.67 L81.98,181.52 L86.23,176.08 L88.61,173.75" stroke="#e070c0" stroke-width="0.8" fill="none" stroke-linejoin="round"/>
<path d="M58.80,267.98 L59.40,239.88 L59.99,220.83 L60.59,207.92 L61.18,199.16 L61.78,193.23 L62.38,189.21 L62.97,186.48 L63.57,184.63 L64.17,183.38 L64.76,182.53 L65.36,181.95 L65.95,181.56 L66.55,181.30 L67.15,181.12 L67.74,181.00 L68.34,180.92 L68.93,180.86 L69.53,180.82 L70.13,180.80 L70.72,180.78 L71.32,180.77 L71.92,180.76 L72.51,180.75 L73.11,180.75 L73.70,180.75 L74.30,180.75 L74.90,180.74 L75.49,180.74 L76.09,180.74 L76.68,180.74 L77.28,180.74 L77.88,180.74 L78.47,180.74 L79.07,180.74 L79.67,180.74 L80.26,180.74 L80.86,180.74 L81.45,180.74 L82.05,180.74 L82.65,180.74 L83.24,180.74 L83.84,180.74 L84.43,180.74 L85.03,180.74 L85.63,180.74 L86.22,180.74 L86.82,180.74 L87.42,180.74 L88.01,180.74 L88.61,180.74" stroke="#000" stroke-width="0.9" fill="none" stroke-linejoin="round"/>
<path d="M58.80,267.98 L59.40,258.94 L59.99,250.82 L60.59,243.53 L61.18,236.99 L61.78,231.12 L62.38,225.86 L62.97,221.13 L63.57,216.88 L64.17,213.07 L64.76,209.65 L65.36,206.58 L65.95,203.82 L66.55,201.35 L67.15,199.13 L67.74,197.13 L68.34,195.34 L68.93,193.74 L69.53,192.30 L70.13,191.00 L70.72,189.84 L71.32,188.80 L71.92,187.86 L72.51,187.02 L73.11,186.27 L73.70,185.59 L74.30,184.98 L74.90,184.44 L75.49,183.95 L76.09,183.51 L76.68,183.11 L77.28,182.76 L77.88,182.44 L78.47,182.16 L79.07,181.90 L79.67,181.67 L80.26,181.46 L80.86,181.28 L81.45,181.11 L82.05,180.96 L82.65,180.83 L83.24,180.71 L83.84,180.60 L84.43,180.50 L85.03,180.42 L85.63,180.34 L86.22,180.27 L86.82,180.21 L87.42,180.15 L88.01,180.10 L88.61,180.05" stroke="#000" stroke-width="0.9" fill="none" stroke-linejoin="round"/>
<path d="M58.80,267.82 L61.56,256.16 L64.32,243.72 L67.08,231.28 L70.56,218.84 L74.26,204.85 L78.40,193.18 L81.98,185.41 L86.23,180.74 L88.61,179.50" stroke="#000" stroke-width="0.9" fill="none" stroke-linejoin="round"/>
<path d="M93.02,173.75 L95.08,174.63 L97.13,175.51 L99.18,176.36 L101.24,177.20 L103.29,178.03 L105.34,178.84 L107.40,179.63 L109.45,180.41 L111.50,181.18 L113.56,181.93 L115.61,182.66 L117.67,183.39 L119.72,184.10 L121.77,184.80 L123.83,185.48 L125.88,186.15 L127.93,186.81 L129.99,187.46 L132.04,188.10 L134.09,188.72 L136.15,189.33 L138.20,189.93 L140.25,190.52 L142.31,191.10 L144.36,191.67 L146.41,192.23 L148.47,192.78 L150.52,193.31 L152.57,193.84 L154.63,194.36 L156.68,194.87 L158.73,195.37 L160.79,195.86 L162.84,196.34 L164.89,196.81 L166.95,197.27 L169.00,197.73 L171.05,198.17 L173.11,198.61 L175.16,199.04 L177.22,199.46 L179.27,199.88 L181.32,200.29 L183.38,200.68 L185.43,201.08 L187.48,201.46 L189.54,201.84 L191.59,202.21 L193.64,202.57 L195.70,202.93" stroke="#e070c0" stroke-width="0.8" fill="none" stroke-linejoin="round"/>
<path d="M93.02,168.61 L95.08,169.77 L97.13,170.90 L99.18,172.01 L101.24,173.10 L103.29,174.16 L105.34,175.19 L107.40,176.21 L109.45,177.20 L111.50,178.17 L113.56,179.12 L115.61,180.05 L117.67,180.96 L119.72,181.85 L121.77,182.72 L123.83,183.58 L125.88,184.41 L127.93,185.22 L129.99,186.02 L132.04,186.80 L134.09,187.56 L136.15,188.31 L138.20,189.04 L140.25,189.75 L142.31,190.45 L144.36,191.14 L146.41,191.81 L148.47,192.46 L150.52,193.10 L152.57,193.73 L154.63,194.34 L156.68,194.94 L158.73,195.53 L160.79,196.10 L162.84,196.66 L164.89,197.21 L166.95,197.75 L169.00,198.27 L171.05,198.79 L173.11,199.29 L175.16,199.78 L177.22,200.26 L179.27,200.73 L181.32,201.19 L183.38,201.64 L185.43,202.08 L187.48,202.52 L189.54,202.94 L191.59,203.35 L193.64,203.75 L195.70,204.15" stroke="#000" stroke-width="0.9" fill="none" stroke-linejoin="round"/>
<path d="M88.61,180.28 L90.75,182.22 L92.89,184.08 L95.03,185.88 L97.18,187.59 L99.32,189.25 L101.46,190.83 L103.60,192.35 L105.74,193.81 L107.88,195.22 L110.03,196.56 L112.17,197.86 L114.31,199.10 L116.45,200.29 L118.59,201.43 L120.73,202.53 L122.88,203.59 L125.02,204.60 L127.16,205.57 L129.30,206.50 L131.44,207.40 L133.58,208.26 L135.73,209.09 L137.87,209.88 L140.01,210.64 L142.15,211.37 L144.29,212.07 L146.44,212.75 L148.58,213.39 L150.72,214.01 L152.86,214.61 L155.00,215.18 L157.14,215.73 L159.29,216.26 L161.43,216.77 L163.57,217.25 L165.71,217.72 L167.85,218.17 L169.99,218.60 L172.14,219.01 L174.28,219.41 L176.42,219.79 L178.56,220.15 L180.70,220.51 L182.85,220.84 L184.99,221.17 L187.13,221.48 L189.27,221.77 L191.41,222.06 L193.55,222.34 L195.70,222.60" stroke="#b070e0" stroke-width="0.8" fill="none" stroke-linejoin="round"/>
<path d="M88.61,179.97 L90.75,181.89 L92.89,183.74 L95.03,185.51 L97.18,187.21 L99.32,188.85 L101.46,190.42 L103.60,191.93 L105.74,193.37 L107.88,194.76 L110.03,196.10 L112.17,197.38 L114.31,198.61 L116.45,199.79 L118.59,200.92 L120.73,202.01 L122.88,203.05 L125.02,204.05 L127.16,205.02 L129.30,205.94 L131.44,206.83 L133.58,207.68 L135.73,208.50 L137.87,209.28 L140.01,210.04 L142.15,210.76 L144.29,211.46 L146.44,212.12 L148.58,212.76 L150.72,213.38 L152.86,213.97 L155.00,214.54 L157.14,215.08 L159.29,215.60 L161.43,216.11 L163.57,216.59 L165.71,217.05 L167.85,217.49 L169.99,217.92 L172.14,218.33 L174.28,218.72 L176.42,219.10 L178.56,219.46 L180.70,219.81 L182.85,220.14 L184.99,220.46 L187.13,220.77 L189.27,221.07 L191.41,221.35 L193.55,221.62 L195.70,221.88" stroke="#e0a030" stroke-width="0.8" fill="none" stroke-linejoin="round"/>
<path d="M88.61,179.97 L90.75,181.87 L92.89,183.70 L95.03,185.46 L97.18,187.14 L99.32,188.76 L101.46,190.32 L103.60,191.81 L105.74,193.24 L107.88,194.62 L110.03,195.94 L112.17,197.21 L114.31,198.42 L116.45,199.59 L118.59,200.72 L120.73,201.79 L122.88,202.83 L125.02,203.82 L127.16,204.77 L129.30,205.69 L131.44,206.57 L133.58,207.41 L135.73,208.22 L137.87,209.00 L140.01,209.75 L142.15,210.46 L144.29,211.15 L146.44,211.81 L148.58,212.45 L150.72,213.06 L152.86,213.64 L155.00,214.20 L157.14,214.74 L159.29,215.26 L161.43,215.76 L163.57,216.23 L165.71,216.69 L167.85,217.13 L169.99,217.55 L172.14,217.96 L174.28,218.35 L176.42,218.72 L178.56,219.08 L180.70,219.42 L182.85,219.75 L184.99,220.07 L187.13,220.38 L189.27,220.67 L191.41,220.95 L193.55,221.22 L195.70,221.48" stroke="#000" stroke-width="0.9" fill="none" stroke-linejoin="round"/>
<path d="M58.80,267.98 L88.61,213.24" stroke="#50c050" stroke-width="0.8" fill="none" stroke-linejoin="round"/>
<path d="M91.92,202.67 L195.70,196.60" stroke="#50c050" stroke-width="0.8" fill="none" stroke-linejoin="round"/>
<path d="M58.80,267.98 L88.61,211.84" stroke="#000" stroke-width="0.9" fill="none" stroke-linejoin="round"/>
<path d="M91.92,202.20 L195.70,195.20" stroke="#000" stroke-width="0.9" fill="none" stroke-linejoin="round"/>
<path d="M58.80,267.98 L88.61,249.63" stroke="#e0a030" stroke-width="0.8" fill="none" stroke-linejoin="round"/>
<path d="M91.92,244.81 L195.70,233.15" stroke="#e0a030" stroke-width="0.8" fill="none" stroke-linejoin="round"/>
<path d="M58.80,267.98 L88.61,244.03" stroke="#000" stroke-width="0.9" fill="none" stroke-linejoin="round"/>
<path d="M91.92,242.79 L195.70,232.84" stroke="#000" stroke-width="0.9" fill="none" stroke-linejoin="round"/>
<path d="M58.80,267.98 L88.61,259.89" stroke="#4090d0" stroke-width="0.8" fill="none" stroke-linejoin="round"/>
<path d="M91.92,259.27 L195.70,249.47" stroke="#4090d0" stroke-width="0.8" fill="none" stroke-linejoin="round"/>
<path d="M58.80,267.98 L88.61,258.96" stroke="#000" stroke-width="0.9" fill="none" stroke-linejoin="round"/>
<path d="M91.92,258.18 L195.70,248.39" stroke="#000" stroke-width="0.9" fill="none" stroke-linejoin="round"/>
<path d="M58.80,267.98 L88.61,266.11" stroke="#e03030" stroke-width="0.8" fill="none" stroke-linejoin="round"/>
<path d="M91.92,265.65 L195.70,256.78" stroke="#e03030" stroke-width="0.8" fill="none" stroke-linejoin="round"/>
<path d="M36.72,270.78 L58.80,268.13 L88.61,265.18" stroke="#000" stroke-width="0.9" fill="none" stroke-linejoin="round"/>
<path d="M91.92,264.87 L195.70,255.54" stroke="#000" stroke-width="0.9" fill="none" stroke-linejoin="round"/>
<line x1="88.33" y1="172.19" x2="88.33" y2="183.08" stroke="#3a4a5a" stroke-width="0.7"/>
<line x1="90.23" y1="172.19" x2="90.23" y2="183.08" stroke="#3a4a5a" stroke-width="0.7"/>
<line x1="88.33" y1="206.40" x2="88.33" y2="214.18" stroke="#3a4a5a" stroke-width="0.7"/>
<line x1="90.23" y1="206.40" x2="90.23" y2="214.18" stroke="#3a4a5a" stroke-width="0.7"/>
<line x1="88.33" y1="242.94" x2="88.33" y2="249.94" stroke="#3a4a5a" stroke-width="0.7"/>
<line x1="90.23" y1="242.94" x2="90.23" y2="249.94" stroke="#3a4a5a" stroke-width="0.7"/>
<line x1="88.33" y1="257.72" x2="88.33" y2="263.16" stroke="#3a4a5a" stroke-width="0.7"/>
<line x1="90.23" y1="257.72" x2="90.23" y2="263.16" stroke="#3a4a5a" stroke-width="0.7"/>
<line x1="88.33" y1="264.71" x2="88.33" y2="267.82" stroke="#3a4a5a" stroke-width="0.7"/>
<line x1="90.23" y1="264.71" x2="90.23" y2="267.82" stroke="#3a4a5a" stroke-width="0.7"/>
<line x1="258.40" y1="167.00" x2="258.40" y2="275.00" stroke="#5d6d7e" stroke-width="0.9"/>
<line x1="258.00" y1="274.60" x2="429.70" y2="274.60" stroke="#5d6d7e" stroke-width="0.9"/>
<line x1="254.60" y1="269.50" x2="258.40" y2="269.50" stroke="#5d6d7e" stroke-width="0.8"/>
<text x="249.60" y="272.15" font-size="7.86" fill="#46566a" textLength="3.91" lengthAdjust="spacingAndGlyphs">0</text>
<line x1="254.60" y1="235.55" x2="258.40" y2="235.55" stroke="#5d6d7e" stroke-width="0.8"/>
<text x="240.60" y="238.20" font-size="7.86" fill="#46566a" textLength="12.89" lengthAdjust="spacingAndGlyphs">250</text>
<line x1="254.60" y1="201.60" x2="258.40" y2="201.60" stroke="#5d6d7e" stroke-width="0.8"/>
<text x="240.60" y="204.25" font-size="7.86" fill="#46566a" textLength="12.89" lengthAdjust="spacingAndGlyphs">500</text>
<line x1="254.60" y1="167.65" x2="258.40" y2="167.65" stroke="#5d6d7e" stroke-width="0.8"/>
<text x="240.60" y="170.30" font-size="7.86" fill="#46566a" textLength="12.89" lengthAdjust="spacingAndGlyphs">750</text>
<line x1="256.40" y1="252.53" x2="258.40" y2="252.53" stroke="#5d6d7e" stroke-width="0.6"/>
<line x1="256.40" y1="218.57" x2="258.40" y2="218.57" stroke="#5d6d7e" stroke-width="0.6"/>
<line x1="256.40" y1="184.62" x2="258.40" y2="184.62" stroke="#5d6d7e" stroke-width="0.6"/>
<line x1="270.20" y1="274.60" x2="270.20" y2="279.00" stroke="#5d6d7e" stroke-width="0.8"/>
<line x1="362.20" y1="274.60" x2="362.20" y2="279.00" stroke="#5d6d7e" stroke-width="0.8"/>
<line x1="316.20" y1="274.60" x2="316.20" y2="277.20" stroke="#5d6d7e" stroke-width="0.6"/>
<line x1="408.20" y1="274.60" x2="408.20" y2="277.20" stroke="#5d6d7e" stroke-width="0.6"/>
<text x="268.30" y="289.10" font-size="7.71" fill="#46566a" textLength="3.81" lengthAdjust="spacingAndGlyphs">0</text>
<text x="353.70" y="289.10" font-size="7.71" fill="#46566a" textLength="17.00" lengthAdjust="spacingAndGlyphs">1000</text>
<text x="333.80" y="298.00" font-size="6.34" fill="#222" textLength="24.19" lengthAdjust="spacingAndGlyphs">Time (s)</text>
<text x="0" y="0" font-size="7.17" fill="#222" textLength="69.19" lengthAdjust="spacingAndGlyphs" transform="translate(233.60 254.60) rotate(-90) translate(0.00 0)">Relative response (RU)</text>
<path d="M267.43,269.74 L275.37,267.26 L282.82,265.52 L289.03,260.56 L294.73,260.31 L297.71,256.83 L301.44,249.39 L305.65,249.39 L307.64,248.15 L313.85,225.81 L317.57,230.03 L321.29,209.68 L324.52,200.99 L331.22,209.18 L334.94,183.62 L338.67,172.45 L342.33,187.76 L343.32,189.28 L344.32,190.75 L345.32,192.18 L346.32,193.55 L347.31,194.89 L348.31,196.18 L349.31,197.43 L350.30,198.64 L351.30,199.81 L352.30,200.95 L353.29,202.06 L354.29,203.18 L355.29,204.25 L356.28,205.30 L357.28,206.31 L358.28,207.30 L359.27,208.25 L360.27,209.18 L361.27,210.07 L362.27,210.94 L363.26,211.79 L364.26,212.60 L365.26,213.40 L366.25,214.17 L367.25,214.92 L368.25,215.64 L369.24,216.34 L370.24,217.03 L371.24,217.69 L372.23,218.33 L373.23,218.96 L374.23,219.56 L375.22,220.15 L376.22,220.72 L377.22,221.27 L378.21,221.81 L379.21,222.34 L380.21,222.84 L381.21,223.34 L382.20,223.81 L383.20,224.28 L384.20,224.73 L385.19,225.17 L386.19,225.60 L387.19,226.01 L388.18,226.41 L389.18,226.81 L390.18,227.19 L391.17,227.56 L392.17,227.92 L393.17,228.27 L394.16,228.61 L395.16,228.94 L396.16,229.26 L397.16,229.57 L398.15,229.88 L399.15,230.17 L400.15,230.46 L401.14,230.74 L402.14,231.02 L403.14,231.28 L404.13,231.54 L405.13,231.80 L406.13,232.04 L407.12,232.28 L408.12,232.52 L409.12,232.74 L410.11,232.97 L411.11,233.18 L412.11,233.39 L413.11,233.60 L414.10,233.80 L415.10,234.00 L416.10,234.19 L417.09,234.38 L418.09,234.56 L419.09,234.74 L420.08,234.91 L421.08,235.08" stroke="#4a9ee0" stroke-width="0.8" fill="none" stroke-linejoin="round"/>
<path d="M267.43,269.74 L275.37,267.51 L282.82,265.52 L289.03,263.04 L294.73,261.80 L297.71,258.82 L301.44,253.86 L305.16,253.11 L307.14,251.87 L310.12,236.98 L312.60,231.52 L315.58,230.03 L318.06,231.52 L320.55,213.40 L324.52,195.28 L327.50,199.75 L330.72,202.23 L332.46,194.78 L334.94,182.87 L336.43,180.88 L337.92,180.39 L338.94,182.23 L339.97,183.98 L341.00,185.67 L342.03,187.31 L343.07,188.89 L344.10,190.42 L345.13,191.90 L346.16,193.34 L347.19,194.72 L348.22,196.06 L349.25,197.36 L350.28,198.61 L351.31,199.83 L352.34,201.00 L353.37,202.13 L354.40,203.23 L355.43,204.29 L356.46,205.32 L357.49,206.31 L358.52,207.27 L359.56,208.20 L360.59,209.10 L361.62,209.97 L362.65,210.81 L363.68,211.62 L364.71,212.40 L365.74,213.16 L366.77,213.90 L367.80,214.61 L368.83,215.30 L369.86,215.96 L370.89,216.61 L371.92,217.23 L372.95,217.83 L373.98,218.41 L375.01,218.97 L376.05,219.52 L377.08,220.04 L378.11,220.55 L379.14,221.05 L380.17,221.52 L381.20,221.98 L382.23,222.43 L383.26,222.86 L384.29,223.28 L385.32,223.68 L386.35,224.07 L387.38,224.45 L388.41,224.81 L389.44,225.16 L390.47,225.50 L391.50,225.83 L392.54,226.15 L393.57,226.46 L394.60,226.76 L395.63,227.05 L396.66,227.33 L397.69,227.60 L398.72,227.86 L399.75,228.11 L400.78,228.36 L401.81,228.59 L402.84,228.82 L403.87,229.04 L404.90,229.25 L405.93,229.46 L406.96,229.66 L408.00,229.85 L409.03,230.04 L410.06,230.22 L411.09,230.40 L412.12,230.57 L413.15,230.73 L414.18,230.89 L415.21,231.04 L416.24,231.19 L417.27,231.33 L418.30,231.47 L419.33,231.60" stroke="#111" stroke-width="1.0" fill="none" stroke-linejoin="round"/>
<line x1="485.40" y1="168.00" x2="485.40" y2="274.60" stroke="#000" stroke-width="0.9"/>
<line x1="485.00" y1="274.20" x2="647.30" y2="274.20" stroke="#000" stroke-width="0.9"/>
<line x1="482.80" y1="274.20" x2="485.40" y2="274.20" stroke="#000" stroke-width="0.8"/>
<text x="479.31" y="276.15" font-size="5.57" fill="#222" textLength="2.70" lengthAdjust="spacingAndGlyphs">0</text>
<line x1="482.80" y1="238.90" x2="485.40" y2="238.90" stroke="#000" stroke-width="0.8"/>
<text x="461.37" y="240.85" font-size="5.57" fill="#222" textLength="20.62" lengthAdjust="spacingAndGlyphs">1000000</text>
<line x1="482.80" y1="203.60" x2="485.40" y2="203.60" stroke="#000" stroke-width="0.8"/>
<text x="461.37" y="205.55" font-size="5.57" fill="#222" textLength="20.62" lengthAdjust="spacingAndGlyphs">2000000</text>
<line x1="482.80" y1="168.30" x2="485.40" y2="168.30" stroke="#000" stroke-width="0.8"/>
<text x="461.37" y="170.25" font-size="5.57" fill="#222" textLength="20.62" lengthAdjust="spacingAndGlyphs">3000000</text>
<line x1="494.98" y1="274.20" x2="494.98" y2="276.80" stroke="#000" stroke-width="0.8"/>
<text x="494.98" y="284.60" font-size="5.4" text-anchor="middle" fill="#222">0.001</text>
<line x1="504.11" y1="274.20" x2="504.11" y2="275.60" stroke="#000" stroke-width="0.5"/>
<line x1="509.46" y1="274.20" x2="509.46" y2="275.60" stroke="#000" stroke-width="0.5"/>
<line x1="513.25" y1="274.20" x2="513.25" y2="275.60" stroke="#000" stroke-width="0.5"/>
<line x1="516.19" y1="274.20" x2="516.19" y2="275.60" stroke="#000" stroke-width="0.5"/>
<line x1="518.59" y1="274.20" x2="518.59" y2="275.60" stroke="#000" stroke-width="0.5"/>
<line x1="520.62" y1="274.20" x2="520.62" y2="275.60" stroke="#000" stroke-width="0.5"/>
<line x1="522.38" y1="274.20" x2="522.38" y2="275.60" stroke="#000" stroke-width="0.5"/>
<line x1="523.93" y1="274.20" x2="523.93" y2="275.60" stroke="#000" stroke-width="0.5"/>
<line x1="525.32" y1="274.20" x2="525.32" y2="276.80" stroke="#000" stroke-width="0.8"/>
<text x="525.32" y="284.60" font-size="5.4" text-anchor="middle" fill="#222">0.01</text>
<line x1="534.45" y1="274.20" x2="534.45" y2="275.60" stroke="#000" stroke-width="0.5"/>
<line x1="539.80" y1="274.20" x2="539.80" y2="275.60" stroke="#000" stroke-width="0.5"/>
<line x1="543.59" y1="274.20" x2="543.59" y2="275.60" stroke="#000" stroke-width="0.5"/>
<line x1="546.53" y1="274.20" x2="546.53" y2="275.60" stroke="#000" stroke-width="0.5"/>
<line x1="548.93" y1="274.20" x2="548.93" y2="275.60" stroke="#000" stroke-width="0.5"/>
<line x1="550.96" y1="274.20" x2="550.96" y2="275.60" stroke="#000" stroke-width="0.5"/>
<line x1="552.72" y1="274.20" x2="552.72" y2="275.60" stroke="#000" stroke-width="0.5"/>
<line x1="554.27" y1="274.20" x2="554.27" y2="275.60" stroke="#000" stroke-width="0.5"/>
<line x1="555.66" y1="274.20" x2="555.66" y2="276.80" stroke="#000" stroke-width="0.8"/>
<text x="555.66" y="284.60" font-size="5.4" text-anchor="middle" fill="#222">0.1</text>
<line x1="564.79" y1="274.20" x2="564.79" y2="275.60" stroke="#000" stroke-width="0.5"/>
<line x1="570.14" y1="274.20" x2="570.14" y2="275.60" stroke="#000" stroke-width="0.5"/>
<line x1="573.93" y1="274.20" x2="573.93" y2="275.60" stroke="#000" stroke-width="0.5"/>
<line x1="576.87" y1="274.20" x2="576.87" y2="275.60" stroke="#000" stroke-width="0.5"/>
<line x1="579.27" y1="274.20" x2="579.27" y2="275.60" stroke="#000" stroke-width="0.5"/>
<line x1="581.30" y1="274.20" x2="581.30" y2="275.60" stroke="#000" stroke-width="0.5"/>
<line x1="583.06" y1="274.20" x2="583.06" y2="275.60" stroke="#000" stroke-width="0.5"/>
<line x1="584.61" y1="274.20" x2="584.61" y2="275.60" stroke="#000" stroke-width="0.5"/>
<line x1="586.00" y1="274.20" x2="586.00" y2="276.80" stroke="#000" stroke-width="0.8"/>
<text x="586.00" y="284.60" font-size="5.4" text-anchor="middle" fill="#222">1</text>
<line x1="595.13" y1="274.20" x2="595.13" y2="275.60" stroke="#000" stroke-width="0.5"/>
<line x1="600.48" y1="274.20" x2="600.48" y2="275.60" stroke="#000" stroke-width="0.5"/>
<line x1="604.27" y1="274.20" x2="604.27" y2="275.60" stroke="#000" stroke-width="0.5"/>
<line x1="607.21" y1="274.20" x2="607.21" y2="275.60" stroke="#000" stroke-width="0.5"/>
<line x1="609.61" y1="274.20" x2="609.61" y2="275.60" stroke="#000" stroke-width="0.5"/>
<line x1="611.64" y1="274.20" x2="611.64" y2="275.60" stroke="#000" stroke-width="0.5"/>
<line x1="613.40" y1="274.20" x2="613.40" y2="275.60" stroke="#000" stroke-width="0.5"/>
<line x1="614.95" y1="274.20" x2="614.95" y2="275.60" stroke="#000" stroke-width="0.5"/>
<line x1="616.34" y1="274.20" x2="616.34" y2="276.80" stroke="#000" stroke-width="0.8"/>
<text x="616.34" y="284.60" font-size="5.4" text-anchor="middle" fill="#222">10</text>
<line x1="625.47" y1="274.20" x2="625.47" y2="275.60" stroke="#000" stroke-width="0.5"/>
<line x1="630.82" y1="274.20" x2="630.82" y2="275.60" stroke="#000" stroke-width="0.5"/>
<line x1="634.61" y1="274.20" x2="634.61" y2="275.60" stroke="#000" stroke-width="0.5"/>
<line x1="637.55" y1="274.20" x2="637.55" y2="275.60" stroke="#000" stroke-width="0.5"/>
<line x1="639.95" y1="274.20" x2="639.95" y2="275.60" stroke="#000" stroke-width="0.5"/>
<line x1="641.98" y1="274.20" x2="641.98" y2="275.60" stroke="#000" stroke-width="0.5"/>
<line x1="643.74" y1="274.20" x2="643.74" y2="275.60" stroke="#000" stroke-width="0.5"/>
<line x1="645.29" y1="274.20" x2="645.29" y2="275.60" stroke="#000" stroke-width="0.5"/>
<line x1="646.68" y1="274.20" x2="646.68" y2="276.80" stroke="#000" stroke-width="0.8"/>
<text x="646.68" y="284.60" font-size="5.4" text-anchor="middle" fill="#222">100</text>
<text x="541.30" y="295.60" font-size="6.90" fill="#222" textLength="55.71" lengthAdjust="spacingAndGlyphs">[Compound (μM)]</text>
<text x="0" y="0" font-size="4.83" fill="#222" textLength="41.89" lengthAdjust="spacingAndGlyphs" transform="translate(456.20 242.70) rotate(-90) translate(0.00 0)">Alpha Response</text>
<path d="M504.08,272.85 L505.16,272.72 L506.23,272.58 L507.31,272.42 L508.38,272.25 L509.45,272.06 L510.53,271.86 L511.60,271.64 L512.68,271.39 L513.75,271.13 L514.83,270.84 L515.90,270.52 L516.98,270.18 L518.05,269.80 L519.13,269.39 L520.20,268.95 L521.27,268.47 L522.35,267.95 L523.42,267.38 L524.50,266.77 L525.57,266.11 L526.65,265.40 L527.72,264.63 L528.80,263.80 L529.87,262.92 L530.95,261.97 L532.02,260.95 L533.09,259.87 L534.17,258.72 L535.24,257.50 L536.32,256.20 L537.39,254.84 L538.47,253.40 L539.54,251.89 L540.62,250.32 L541.69,248.68 L542.77,246.98 L543.84,245.22 L544.91,243.40 L545.99,241.54 L547.06,239.64 L548.14,237.71 L549.21,235.75 L550.29,233.77 L551.36,231.79 L552.44,229.80 L553.51,227.83 L554.59,225.87 L555.66,223.94 L556.73,222.04 L557.81,220.18 L558.88,218.37 L559.96,216.62 L561.03,214.92 L562.11,213.29 L563.18,211.72 L564.26,210.22 L565.33,208.79 L566.41,207.43 L567.48,206.15 L568.55,204.93 L569.63,203.79 L570.70,202.72 L571.78,201.71 L572.85,200.77 L573.93,199.90 L575.00,199.09 L576.08,198.33 L577.15,197.63 L578.23,196.99 L579.30,196.40 L580.37,195.85 L581.45,195.35 L582.52,194.89 L583.60,194.47 L584.67,194.09 L585.75,193.75 L586.82,193.44 L587.90,193.16 L588.97,192.92 L590.05,192.70 L591.12,192.51 L592.19,192.35 L593.27,192.21 L594.34,192.10 L595.42,192.01 L596.49,191.95 L597.57,191.91 L598.64,191.89 L599.72,191.90 L600.79,191.94 L601.87,192.00 L602.94,192.09 L604.01,192.21 L605.09,192.36 L606.16,192.55 L607.24,192.76 L608.31,193.02 L609.39,193.31 L610.46,193.64 L611.54,194.03 L612.61,194.46 L613.69,194.95 L614.76,195.49 L615.83,196.10 L616.91,196.78 L617.98,197.52 L619.06,198.35 L620.13,199.26 L621.21,200.25 L622.28,201.34 L623.36,202.53 L624.43,203.81 L625.51,205.20 L626.58,206.70 L627.65,208.30 L628.73,210.01 L629.80,211.83 L630.88,213.74 L631.95,215.76 L633.03,217.86" stroke="#4cb05a" stroke-width="0.8" fill="none"/>
<line x1="504.11" y1="273.80" x2="632.07" y2="273.80" stroke="#4060a0" stroke-width="0.7"/>
<line x1="504.11" y1="273.60" x2="525.32" y2="273.60" stroke="#d0773a" stroke-width="0.5"/>
<line x1="504.11" y1="273.14" x2="504.11" y2="273.85" stroke="#4cb05a" stroke-width="0.6"/>
<line x1="502.81" y1="273.14" x2="505.41" y2="273.14" stroke="#4cb05a" stroke-width="0.6"/>
<line x1="502.81" y1="273.85" x2="505.41" y2="273.85" stroke="#4cb05a" stroke-width="0.6"/>
<rect x="502.81" y="272.19" width="2.60" height="2.60" fill="#4cb05a"/>
<path d="M502.71,271.59 l2.8,0" stroke="#4cb05a" stroke-width="0.5"/>
<line x1="513.89" y1="272.79" x2="513.89" y2="273.49" stroke="#4cb05a" stroke-width="0.6"/>
<line x1="512.59" y1="272.79" x2="515.19" y2="272.79" stroke="#4cb05a" stroke-width="0.6"/>
<line x1="512.59" y1="273.49" x2="515.19" y2="273.49" stroke="#4cb05a" stroke-width="0.6"/>
<rect x="512.59" y="271.84" width="2.60" height="2.60" fill="#4cb05a"/>
<path d="M512.49,271.24 l2.8,0" stroke="#4cb05a" stroke-width="0.5"/>
<line x1="523.02" y1="270.32" x2="523.02" y2="272.44" stroke="#4cb05a" stroke-width="0.6"/>
<line x1="521.72" y1="270.32" x2="524.32" y2="270.32" stroke="#4cb05a" stroke-width="0.6"/>
<line x1="521.72" y1="272.44" x2="524.32" y2="272.44" stroke="#4cb05a" stroke-width="0.6"/>
<rect x="521.72" y="270.08" width="2.60" height="2.60" fill="#4cb05a"/>
<path d="M521.62,269.48 l2.8,0" stroke="#4cb05a" stroke-width="0.5"/>
<line x1="532.16" y1="267.85" x2="532.16" y2="269.96" stroke="#4cb05a" stroke-width="0.6"/>
<line x1="530.86" y1="267.85" x2="533.46" y2="267.85" stroke="#4cb05a" stroke-width="0.6"/>
<line x1="530.86" y1="269.96" x2="533.46" y2="269.96" stroke="#4cb05a" stroke-width="0.6"/>
<rect x="530.86" y="267.60" width="2.60" height="2.60" fill="#4cb05a"/>
<path d="M530.76,267.00 l2.8,0" stroke="#4cb05a" stroke-width="0.5"/>
<line x1="541.05" y1="253.37" x2="541.05" y2="262.55" stroke="#4cb05a" stroke-width="0.6"/>
<line x1="539.75" y1="253.37" x2="542.35" y2="253.37" stroke="#4cb05a" stroke-width="0.6"/>
<line x1="539.75" y1="262.55" x2="542.35" y2="262.55" stroke="#4cb05a" stroke-width="0.6"/>
<rect x="539.75" y="256.66" width="2.60" height="2.60" fill="#4cb05a"/>
<path d="M539.65,256.06 l2.8,0" stroke="#4cb05a" stroke-width="0.5"/>
<line x1="550.38" y1="226.19" x2="550.38" y2="237.49" stroke="#4cb05a" stroke-width="0.6"/>
<line x1="549.08" y1="226.19" x2="551.68" y2="226.19" stroke="#4cb05a" stroke-width="0.6"/>
<line x1="549.08" y1="237.49" x2="551.68" y2="237.49" stroke="#4cb05a" stroke-width="0.6"/>
<rect x="549.08" y="230.54" width="2.60" height="2.60" fill="#4cb05a"/>
<path d="M548.98,229.94 l2.8,0" stroke="#4cb05a" stroke-width="0.5"/>
<line x1="559.42" y1="207.48" x2="559.42" y2="218.78" stroke="#4cb05a" stroke-width="0.6"/>
<line x1="558.12" y1="207.48" x2="560.72" y2="207.48" stroke="#4cb05a" stroke-width="0.6"/>
<line x1="558.12" y1="218.78" x2="560.72" y2="218.78" stroke="#4cb05a" stroke-width="0.6"/>
<rect x="558.12" y="211.83" width="2.60" height="2.60" fill="#4cb05a"/>
<path d="M558.02,211.23 l2.8,0" stroke="#4cb05a" stroke-width="0.5"/>
<line x1="568.55" y1="199.72" x2="568.55" y2="212.43" stroke="#4cb05a" stroke-width="0.6"/>
<line x1="567.25" y1="199.72" x2="569.85" y2="199.72" stroke="#4cb05a" stroke-width="0.6"/>
<line x1="567.25" y1="212.43" x2="569.85" y2="212.43" stroke="#4cb05a" stroke-width="0.6"/>
<rect x="567.25" y="204.77" width="2.60" height="2.60" fill="#4cb05a"/>
<path d="M567.15,204.17 l2.8,0" stroke="#4cb05a" stroke-width="0.5"/>
<line x1="577.63" y1="196.89" x2="577.63" y2="208.19" stroke="#4cb05a" stroke-width="0.6"/>
<line x1="576.33" y1="196.89" x2="578.93" y2="196.89" stroke="#4cb05a" stroke-width="0.6"/>
<line x1="576.33" y1="208.19" x2="578.93" y2="208.19" stroke="#4cb05a" stroke-width="0.6"/>
<rect x="576.33" y="201.24" width="2.60" height="2.60" fill="#4cb05a"/>
<path d="M576.23,200.64 l2.8,0" stroke="#4cb05a" stroke-width="0.5"/>
<line x1="586.89" y1="194.77" x2="586.89" y2="206.78" stroke="#4cb05a" stroke-width="0.6"/>
<line x1="585.59" y1="194.77" x2="588.19" y2="194.77" stroke="#4cb05a" stroke-width="0.6"/>
<line x1="585.59" y1="206.78" x2="588.19" y2="206.78" stroke="#4cb05a" stroke-width="0.6"/>
<rect x="585.59" y="199.48" width="2.60" height="2.60" fill="#4cb05a"/>
<path d="M585.49,198.88 l2.8,0" stroke="#4cb05a" stroke-width="0.5"/>
<line x1="595.78" y1="191.25" x2="595.78" y2="205.37" stroke="#4cb05a" stroke-width="0.6"/>
<line x1="594.48" y1="191.25" x2="597.08" y2="191.25" stroke="#4cb05a" stroke-width="0.6"/>
<line x1="594.48" y1="205.37" x2="597.08" y2="205.37" stroke="#4cb05a" stroke-width="0.6"/>
<rect x="594.48" y="197.00" width="2.60" height="2.60" fill="#4cb05a"/>
<path d="M594.38,196.41 l2.8,0" stroke="#4cb05a" stroke-width="0.5"/>
<line x1="605.22" y1="183.13" x2="605.22" y2="200.78" stroke="#4cb05a" stroke-width="0.6"/>
<line x1="603.92" y1="183.13" x2="606.52" y2="183.13" stroke="#4cb05a" stroke-width="0.6"/>
<line x1="603.92" y1="200.78" x2="606.52" y2="200.78" stroke="#4cb05a" stroke-width="0.6"/>
<rect x="603.92" y="190.65" width="2.60" height="2.60" fill="#4cb05a"/>
<path d="M603.82,190.05 l2.8,0" stroke="#4cb05a" stroke-width="0.5"/>
<line x1="614.20" y1="183.13" x2="614.20" y2="199.36" stroke="#4cb05a" stroke-width="0.6"/>
<line x1="612.90" y1="183.13" x2="615.50" y2="183.13" stroke="#4cb05a" stroke-width="0.6"/>
<line x1="612.90" y1="199.36" x2="615.50" y2="199.36" stroke="#4cb05a" stroke-width="0.6"/>
<rect x="612.90" y="189.94" width="2.60" height="2.60" fill="#4cb05a"/>
<path d="M612.80,189.34 l2.8,0" stroke="#4cb05a" stroke-width="0.5"/>
<line x1="623.33" y1="191.25" x2="623.33" y2="205.37" stroke="#4cb05a" stroke-width="0.6"/>
<line x1="622.03" y1="191.25" x2="624.63" y2="191.25" stroke="#4cb05a" stroke-width="0.6"/>
<line x1="622.03" y1="205.37" x2="624.63" y2="205.37" stroke="#4cb05a" stroke-width="0.6"/>
<rect x="622.03" y="197.00" width="2.60" height="2.60" fill="#4cb05a"/>
<path d="M621.93,196.41 l2.8,0" stroke="#4cb05a" stroke-width="0.5"/>
<line x1="632.47" y1="216.66" x2="632.47" y2="230.78" stroke="#4cb05a" stroke-width="0.6"/>
<line x1="631.17" y1="216.66" x2="633.77" y2="216.66" stroke="#4cb05a" stroke-width="0.6"/>
<line x1="631.17" y1="230.78" x2="633.77" y2="230.78" stroke="#4cb05a" stroke-width="0.6"/>
<rect x="631.17" y="222.42" width="2.60" height="2.60" fill="#4cb05a"/>
<path d="M631.07,221.82 l2.8,0" stroke="#4cb05a" stroke-width="0.5"/>
<circle cx="504.11" cy="273.70" r="1.1" fill="#4060a0"/>
<circle cx="513.25" cy="273.70" r="1.1" fill="#4060a0"/>
<circle cx="522.38" cy="273.70" r="1.1" fill="#4060a0"/>
<circle cx="531.51" cy="273.70" r="1.1" fill="#4060a0"/>
<circle cx="540.65" cy="273.70" r="1.1" fill="#4060a0"/>
<circle cx="549.78" cy="273.70" r="1.1" fill="#4060a0"/>
<circle cx="558.91" cy="273.70" r="1.1" fill="#4060a0"/>
<circle cx="568.05" cy="273.70" r="1.1" fill="#4060a0"/>
<circle cx="577.18" cy="273.70" r="1.1" fill="#4060a0"/>
<circle cx="586.31" cy="273.70" r="1.1" fill="#4060a0"/>
<circle cx="595.45" cy="273.70" r="1.1" fill="#4060a0"/>
<circle cx="604.58" cy="273.70" r="1.1" fill="#4060a0"/>
<circle cx="613.71" cy="273.70" r="1.1" fill="#4060a0"/>
<circle cx="622.85" cy="273.70" r="1.1" fill="#4060a0"/>
<circle cx="631.98" cy="273.70" r="1.1" fill="#4060a0"/>
<line x1="490.10" y1="183.20" x2="499.80" y2="183.20" stroke="#4cb05a" stroke-width="0.7"/>
<text x="503.70" y="185.20" font-size="5.6" fill="#4cb05a">Compound 18</text>
<line x1="490.10" y1="192.85" x2="499.80" y2="192.85" stroke="#d0773a" stroke-width="0.7"/>
<text x="503.70" y="194.85" font-size="5.6" fill="#d0773a">Compound 20</text>
<line x1="490.10" y1="202.50" x2="499.80" y2="202.50" stroke="#4060a0" stroke-width="0.7"/>
<text x="503.70" y="204.50" font-size="5.6" fill="#4060a0">Compounds 3 & 13</text>
<defs>
<filter id="bl" x="-30%" y="-80%" width="160%" height="260%"><feGaussianBlur stdDeviation="0.6"/></filter>
<filter id="blm" x="-30%" y="-80%" width="160%" height="260%"><feGaussianBlur stdDeviation="0.9"/></filter>
<filter id="bl2" x="-40%" y="-40%" width="180%" height="180%"><feGaussianBlur stdDeviation="1.5"/></filter>
<filter id="bl3" x="-40%" y="-20%" width="180%" height="140%"><feGaussianBlur stdDeviation="1.8"/></filter>
<linearGradient id="smear" x1="0" y1="0" x2="0" y2="1"><stop offset="0" stop-color="#000" stop-opacity="0.02"/><stop offset="0.6" stop-color="#000" stop-opacity="0.12"/><stop offset="1" stop-color="#000" stop-opacity="0.3"/></linearGradient>
<linearGradient id="smear3" x1="0" y1="0" x2="0" y2="1"><stop offset="0" stop-color="#000" stop-opacity="0.1"/><stop offset="0.2" stop-color="#000" stop-opacity="0.38"/><stop offset="0.5" stop-color="#000" stop-opacity="0.36"/><stop offset="1" stop-color="#000" stop-opacity="0.4"/></linearGradient>
<linearGradient id="smear2" x1="0" y1="0" x2="0" y2="1"><stop offset="0" stop-color="#000" stop-opacity="0.05"/><stop offset="0.45" stop-color="#000" stop-opacity="0.25"/><stop offset="1" stop-color="#000" stop-opacity="0.5"/></linearGradient>
<linearGradient id="lanefade" x1="0" y1="0" x2="0" y2="1"><stop offset="0" stop-color="#000" stop-opacity="0.05"/><stop offset="0.6" stop-color="#000" stop-opacity="0.035"/><stop offset="1" stop-color="#000" stop-opacity="0.0"/></linearGradient>
<linearGradient id="gapfade" x1="0" y1="0" x2="0" y2="1"><stop offset="0" stop-color="#fff" stop-opacity="0.75"/><stop offset="0.3" stop-color="#fff" stop-opacity="0.55"/><stop offset="1" stop-color="#fff" stop-opacity="0.2"/></linearGradient>
</defs>
<rect x="28.20" y="374.80" width="108.40" height="181.60" fill="#e7e7e7"/>
<rect x="30.2" y="535" width="106.39999999999999" height="21.399999999999977" fill="#ececec" filter="url(#bl2)"/>
<path d="M46.63,380 L57.63,380 L51.94,550 L39.94,550Z" fill="#000" opacity="0.045" filter="url(#bl2)"/>
<path d="M58.79,380 L69.79,380 L69.35,550 L57.35,550Z" fill="#000" opacity="0.045" filter="url(#bl2)"/>
<path d="M70.82,380 L81.82,380 L83.93,550 L71.93,550Z" fill="#000" opacity="0.045" filter="url(#bl2)"/>
<path d="M83.43,380 L94.43,380 L97.08,550 L85.08,550Z" fill="#000" opacity="0.045" filter="url(#bl2)"/>
<path d="M96.13,380 L107.13,380 L110.18,550 L98.18,550Z" fill="#000" opacity="0.045" filter="url(#bl2)"/>
<path d="M109.03,380 L120.03,380 L123.22,550 L111.22,550Z" fill="#000" opacity="0.045" filter="url(#bl2)"/>
<path d="M121.85,380 L132.85,380 L137.38,550 L125.38,550Z" fill="#000" opacity="0.045" filter="url(#bl2)"/>
<path d="M42.70,377 L45.70,377 L42.00,548 L40.00,548Z" fill="url(#gapfade)" filter="url(#blm)"/>
<path d="M54.75,377 L60.25,377 L56.60,548 L54.60,548Z" fill="url(#gapfade)" filter="url(#blm)"/>
<path d="M68.00,377 L73.00,377 L71.50,548 L69.50,548Z" fill="url(#gapfade)" filter="url(#blm)"/>
<path d="M80.30,377 L84.50,377 L85.00,548 L83.00,548Z" fill="url(#gapfade)" filter="url(#blm)"/>
<path d="M93.30,377 L96.70,377 L98.00,548 L96.00,548Z" fill="url(#gapfade)" filter="url(#blm)"/>
<path d="M105.90,377 L108.90,377 L111.00,548 L109.00,548Z" fill="url(#gapfade)" filter="url(#blm)"/>
<path d="M119.30,377 L122.30,377 L124.40,548 L122.40,548Z" fill="url(#gapfade)" filter="url(#blm)"/>
<path d="M133.30,377 L135.90,377 L137.00,548 L135.00,548Z" fill="url(#gapfade)" filter="url(#blm)"/>
<path d="M47.63,382 L56.63,382 L56.69,421 L44.69,421Z" fill="url(#smear)" opacity="0.8" filter="url(#blm)"/>
<path d="M59.79,382 L68.79,382 L70.07,421 L58.07,421Z" fill="url(#smear2)" opacity="1.0" filter="url(#blm)"/>
<path d="M71.82,382 L80.82,382 L82.69,421 L70.69,421Z" fill="url(#smear3)" opacity="1.0" filter="url(#blm)"/>
<ellipse cx="76.96" cy="395.00" rx="3.50" ry="8.00" transform="rotate(0 76.96 395.00)" fill="#000" opacity="0.12" filter="url(#bl2)"/>
<path d="M35.8,375.4 L44.4,375.4 L44.4,380.8 L42.8,380.8 L42.8,377.6 L35.8,377.6Z" fill="#000" opacity="0.35" filter="url(#bl)"/>
<rect x="61.00" y="405.50" width="3.00" height="2.00" rx="1.00" fill="#000" opacity="0.50" filter="url(#blm)"/>
<rect x="46.40" y="379.20" width="11.00" height="2.40" rx="1.20" fill="#000" opacity="0.55" filter="url(#blm)"/>
<rect x="58.70" y="379.20" width="11.00" height="2.40" rx="1.20" fill="#000" opacity="0.50" filter="url(#blm)"/>
<rect x="71.00" y="379.20" width="11.00" height="2.40" rx="1.20" fill="#000" opacity="0.55" filter="url(#blm)"/>
<rect x="83.20" y="379.20" width="11.00" height="2.40" rx="1.20" fill="#000" opacity="0.22" filter="url(#blm)"/>
<rect x="95.70" y="379.20" width="11.00" height="2.40" rx="1.20" fill="#000" opacity="0.20" filter="url(#blm)"/>
<rect x="108.60" y="379.20" width="11.00" height="2.40" rx="1.20" fill="#000" opacity="0.20" filter="url(#blm)"/>
<rect x="122.00" y="379.20" width="11.00" height="2.40" rx="1.20" fill="#000" opacity="0.18" filter="url(#blm)"/>
<rect x="85.50" y="393.40" width="5.50" height="2.00" rx="1.00" fill="#000" opacity="0.70" filter="url(#blm)"/>
<rect x="91.00" y="394.30" width="4.60" height="1.80" rx="0.90" fill="#000" opacity="0.75" filter="url(#blm)"/>
<ellipse cx="90.00" cy="396.00" rx="5.00" ry="3.50" transform="rotate(0 90.00 396.00)" fill="#000" opacity="0.10" filter="url(#bl2)"/>
<rect x="96.50" y="397.40" width="4.50" height="1.80" rx="0.90" fill="#000" opacity="0.30" filter="url(#blm)"/>
<ellipse cx="100.00" cy="398.00" rx="4.50" ry="3.00" transform="rotate(0 100.00 398.00)" fill="#000" opacity="0.08" filter="url(#bl2)"/>
<rect x="45.38" y="415.90" width="11.00" height="1.40" rx="0.70" fill="#000" opacity="0.25" filter="url(#blm)"/>
<rect x="58.60" y="415.90" width="11.00" height="1.40" rx="0.70" fill="#000" opacity="0.35" filter="url(#blm)"/>
<rect x="71.15" y="415.90" width="11.00" height="1.40" rx="0.70" fill="#000" opacity="0.35" filter="url(#blm)"/>
<rect x="83.86" y="415.90" width="11.00" height="1.40" rx="0.70" fill="#000" opacity="0.15" filter="url(#blm)"/>
<rect x="96.65" y="415.90" width="11.00" height="1.40" rx="0.70" fill="#000" opacity="0.10" filter="url(#blm)"/>
<rect x="109.58" y="415.90" width="11.00" height="1.40" rx="0.70" fill="#000" opacity="0.10" filter="url(#blm)"/>
<rect x="122.66" y="415.90" width="11.00" height="1.40" rx="0.70" fill="#000" opacity="0.08" filter="url(#blm)"/>
<rect x="42.20" y="421.80" width="12.90" height="6.00" rx="1.80" fill="#000" opacity="1.00" filter="url(#bl)"/>
<rect x="57.30" y="421.60" width="11.30" height="6.40" rx="1.80" fill="#000" opacity="1.00" filter="url(#bl)"/>
<rect x="71.20" y="421.60" width="9.70" height="6.00" rx="1.80" fill="#000" opacity="1.00" filter="url(#bl)"/>
<rect x="84.30" y="421.60" width="9.90" height="5.20" rx="1.80" fill="#000" opacity="1.00" filter="url(#bl)"/>
<rect x="96.70" y="421.50" width="9.10" height="5.00" rx="1.80" fill="#000" opacity="1.00" filter="url(#bl)"/>
<rect x="109.00" y="421.10" width="10.80" height="4.80" rx="1.80" fill="#000" opacity="1.00" filter="url(#bl)"/>
<rect x="121.90" y="420.30" width="11.30" height="4.40" rx="1.80" fill="#000" opacity="1.00" filter="url(#bl)"/>
<path d="M44.22,427 L56.72,427 L55.14,470 L42.64,470Z" fill="#000" opacity="0.12" filter="url(#blm)"/>
<path d="M58.39,427 L69.69,427 L69.45,470 L58.15,470Z" fill="#000" opacity="0.22" filter="url(#blm)"/>
<path d="M71.85,427 L81.65,427 L82.06,470 L72.26,470Z" fill="#000" opacity="0.1" filter="url(#blm)"/>
<rect x="44.13" y="427.80" width="12.50" height="3.40" rx="1.70" fill="#000" opacity="0.15" filter="url(#blm)"/>
<rect x="43.92" y="433.50" width="12.50" height="3.40" rx="1.70" fill="#000" opacity="0.20" filter="url(#blm)"/>
<rect x="43.70" y="439.40" width="12.50" height="3.40" rx="1.70" fill="#000" opacity="0.25" filter="url(#blm)"/>
<rect x="43.46" y="445.90" width="12.50" height="3.40" rx="1.70" fill="#000" opacity="0.35" filter="url(#blm)"/>
<rect x="43.16" y="454.10" width="12.50" height="3.40" rx="1.70" fill="#000" opacity="0.45" filter="url(#blm)"/>
<rect x="42.80" y="463.80" width="12.50" height="3.40" rx="1.70" fill="#000" opacity="0.95" filter="url(#blm)"/>
<rect x="42.44" y="473.10" width="12.50" height="4.80" rx="2.40" fill="#000" opacity="1.00" filter="url(#bl)"/>
<rect x="58.37" y="427.40" width="11.30" height="4.20" rx="2.10" fill="#000" opacity="0.70" filter="url(#blm)"/>
<rect x="58.34" y="433.10" width="11.30" height="4.20" rx="2.10" fill="#000" opacity="0.85" filter="url(#blm)"/>
<rect x="58.31" y="439.00" width="11.30" height="4.20" rx="2.10" fill="#000" opacity="1.00" filter="url(#blm)"/>
<rect x="58.27" y="445.50" width="11.30" height="4.20" rx="2.10" fill="#000" opacity="1.00" filter="url(#blm)"/>
<rect x="58.23" y="453.70" width="11.30" height="4.20" rx="2.10" fill="#000" opacity="1.00" filter="url(#blm)"/>
<rect x="58.17" y="462.90" width="11.30" height="5.20" rx="2.50" fill="#000" opacity="1.00" filter="url(#blm)"/>
<rect x="58.12" y="472.90" width="11.30" height="5.20" rx="2.50" fill="#000" opacity="1.00" filter="url(#bl)"/>
<rect x="71.88" y="427.80" width="9.80" height="3.40" rx="1.70" fill="#000" opacity="0.12" filter="url(#blm)"/>
<rect x="71.93" y="433.50" width="9.80" height="3.40" rx="1.70" fill="#000" opacity="0.16" filter="url(#blm)"/>
<rect x="71.99" y="439.40" width="9.80" height="3.40" rx="1.70" fill="#000" opacity="0.22" filter="url(#blm)"/>
<rect x="72.05" y="445.90" width="9.80" height="3.40" rx="1.70" fill="#000" opacity="0.30" filter="url(#blm)"/>
<rect x="72.13" y="454.10" width="9.80" height="3.40" rx="1.70" fill="#000" opacity="0.45" filter="url(#blm)"/>
<rect x="72.22" y="463.80" width="9.80" height="3.40" rx="1.70" fill="#000" opacity="0.90" filter="url(#blm)"/>
<rect x="72.32" y="473.10" width="9.80" height="4.80" rx="2.40" fill="#000" opacity="1.00" filter="url(#bl)"/>
<rect x="85.12" y="463.60" width="10.00" height="2.80" rx="1.40" fill="#000" opacity="0.12" filter="url(#blm)"/>
<rect x="85.12" y="473.70" width="10.00" height="3.80" rx="1.90" fill="#000" opacity="0.38" filter="url(#blm)"/>
<rect x="98.04" y="463.10" width="10.00" height="2.80" rx="1.40" fill="#000" opacity="0.05" filter="url(#blm)"/>
<rect x="98.04" y="472.70" width="10.00" height="3.80" rx="1.90" fill="#000" opacity="0.26" filter="url(#blm)"/>
<rect x="111.00" y="462.60" width="10.00" height="2.80" rx="1.40" fill="#000" opacity="0.05" filter="url(#blm)"/>
<rect x="111.00" y="471.70" width="10.00" height="3.80" rx="1.90" fill="#000" opacity="0.24" filter="url(#blm)"/>
<rect x="124.52" y="461.60" width="10.00" height="2.80" rx="1.40" fill="#000" opacity="0.04" filter="url(#blm)"/>
<rect x="124.52" y="470.60" width="10.00" height="3.80" rx="1.90" fill="#000" opacity="0.13" filter="url(#blm)"/>
<rect x="85.27" y="446.60" width="9.00" height="2.00" rx="1.00" fill="#000" opacity="0.08" filter="url(#bl)"/>
<rect x="41.00" y="487.60" width="14.20" height="6.80" rx="2.50" fill="#000" opacity="1.00" filter="url(#blm)"/>
<rect x="57.70" y="487.60" width="11.80" height="6.80" rx="2.50" fill="#000" opacity="1.00" filter="url(#blm)"/>
<rect x="72.00" y="486.80" width="10.10" height="6.60" rx="2.50" fill="#000" opacity="1.00" filter="url(#blm)"/>
<rect x="84.60" y="486.20" width="10.90" height="6.40" rx="2.50" fill="#000" opacity="1.00" filter="url(#blm)"/>
<rect x="98.00" y="485.30" width="9.30" height="6.00" rx="2.50" fill="#000" opacity="1.00" filter="url(#blm)"/>
<rect x="110.60" y="484.60" width="10.10" height="6.00" rx="2.50" fill="#000" opacity="1.00" filter="url(#blm)"/>
<rect x="124.00" y="483.90" width="11.00" height="5.60" rx="2.50" fill="#000" opacity="0.75" filter="url(#blm)"/>
<rect x="40.10" y="501.10" width="15.10" height="8.20" rx="2.50" fill="#000" opacity="1.00" filter="url(#bl)"/>
<rect x="57.70" y="501.90" width="11.80" height="8.20" rx="2.50" fill="#000" opacity="1.00" filter="url(#bl)"/>
<rect x="72.00" y="501.25" width="10.90" height="9.50" rx="2.50" fill="#000" opacity="1.00" filter="url(#bl)"/>
<rect x="84.60" y="500.00" width="11.70" height="9.80" rx="2.50" fill="#000" opacity="1.00" filter="url(#bl)"/>
<rect x="98.00" y="498.95" width="10.90" height="9.50" rx="2.50" fill="#000" opacity="1.00" filter="url(#bl)"/>
<rect x="110.60" y="498.15" width="11.80" height="9.50" rx="2.50" fill="#000" opacity="1.00" filter="url(#bl)"/>
<rect x="124.00" y="496.90" width="12.60" height="9.00" rx="2.50" fill="#000" opacity="1.00" filter="url(#bl)"/>
<path d="M38.40,535.30 L52.50,534.61 L52.50,536.41 L38.40,537.10Z" fill="#000" filter="url(#bl)"/>
<path d="M56.00,534.44 L67.50,533.88 L67.50,535.68 L56.00,536.24Z" fill="#000" filter="url(#bl)"/>
<path d="M71.00,533.71 L82.00,533.17 L82.00,534.97 L71.00,535.51Z" fill="#000" filter="url(#bl)"/>
<path d="M84.00,533.07 L95.00,532.53 L95.00,534.33 L84.00,534.87Z" fill="#000" filter="url(#bl)"/>
<path d="M98.00,532.39 L108.00,531.90 L108.00,533.70 L98.00,534.19Z" fill="#000" filter="url(#bl)"/>
<path d="M110.50,531.78 L121.50,531.24 L121.50,533.04 L110.50,533.58Z" fill="#000" filter="url(#bl)"/>
<path d="M124.50,531.09 L136.60,530.50 L136.60,532.30 L124.50,532.89Z" fill="#000" filter="url(#bl)"/>
<ellipse cx="37.00" cy="412.20" rx="4.90" ry="3.30" transform="rotate(35 37.00 412.20)" fill="#000" opacity="1.00" filter="url(#bl)"/>
<ellipse cx="35.60" cy="424.40" rx="5.40" ry="3.20" transform="rotate(45 35.60 424.40)" fill="#000" opacity="1.00" filter="url(#bl)"/>
<ellipse cx="34.90" cy="438.70" rx="6.40" ry="3.20" transform="rotate(60 34.90 438.70)" fill="#000" opacity="1.00" filter="url(#bl)"/>
<ellipse cx="34.60" cy="455.10" rx="7.20" ry="3.30" transform="rotate(65 34.60 455.10)" fill="#000" opacity="1.00" filter="url(#bl)"/>
<ellipse cx="34.20" cy="472.60" rx="8.00" ry="3.40" transform="rotate(68 34.20 472.60)" fill="#000" opacity="1.00" filter="url(#bl)"/>
<ellipse cx="33.80" cy="508.50" rx="5.50" ry="2.60" transform="rotate(65 33.80 508.50)" fill="#000" opacity="1.00" filter="url(#bl)"/>
<ellipse cx="32.50" cy="524.80" rx="4.00" ry="1.90" transform="rotate(75 32.50 524.80)" fill="#000" opacity="1.00" filter="url(#bl)"/>
<path d="M30,542.5 L37.5,548 L30,550Z" fill="#000" filter="url(#bl)"/>
<path d="M30,550.5 L38,554.5 L30,556.4Z" fill="#000" filter="url(#bl)"/>
<rect x="135.60" y="408.80" width="1.60" height="4.20" rx="0.70" fill="#000" opacity="1.00" filter="url(#bl)"/>
<rect x="135.60" y="423.30" width="1.60" height="4.20" rx="0.70" fill="#000" opacity="1.00" filter="url(#bl)"/>
<rect x="135.60" y="440.60" width="1.60" height="4.20" rx="0.70" fill="#000" opacity="1.00" filter="url(#bl)"/>
<rect x="135.60" y="456.20" width="1.60" height="4.20" rx="0.70" fill="#000" opacity="1.00" filter="url(#bl)"/>
<rect x="135.60" y="474.50" width="1.60" height="4.20" rx="0.70" fill="#000" opacity="1.00" filter="url(#bl)"/>
<rect x="135.80" y="487.50" width="1.20" height="3.00" rx="0.50" fill="#000" opacity="0.60" filter="url(#bl)"/>
<rect x="135.80" y="504.50" width="1.20" height="3.00" rx="0.50" fill="#000" opacity="0.60" filter="url(#bl)"/>
<rect x="135.80" y="529.50" width="1.20" height="3.00" rx="0.50" fill="#000" opacity="0.60" filter="url(#bl)"/>
<text x="26.80" y="397.40" font-size="9.6" text-anchor="end" fill="#111">kDa</text>
<text x="26.80" y="410.90" font-size="9.6" text-anchor="end" fill="#111">185</text>
<text x="26.80" y="424.60" font-size="9.6" text-anchor="end" fill="#111">115</text>
<text x="26.80" y="438.50" font-size="9.6" text-anchor="end" fill="#111">80</text>
<text x="26.80" y="454.90" font-size="9.6" text-anchor="end" fill="#111">65</text>
<text x="26.80" y="471.30" font-size="9.6" text-anchor="end" fill="#111">50</text>
<text x="26.80" y="509.00" font-size="9.6" text-anchor="end" fill="#111">30</text>
<text x="26.80" y="527.00" font-size="9.6" text-anchor="end" fill="#111">25</text>
<text x="26.80" y="547.20" font-size="9.6" text-anchor="end" fill="#111">15</text>
<text x="26.80" y="557.00" font-size="9.6" text-anchor="end" fill="#111">10</text>
<text x="0" y="0" font-size="9.14" fill="#111" textLength="9.82" lengthAdjust="spacingAndGlyphs" transform="translate(54.30 373.50) rotate(-90) translate(0.00 0)">10</text>
<text x="0" y="0" font-size="9.00" fill="#111" textLength="13.20" lengthAdjust="spacingAndGlyphs" transform="translate(66.50 373.50) rotate(-90) translate(0.00 0)">5.0</text>
<text x="0" y="0" font-size="9.57" fill="#111" textLength="13.20" lengthAdjust="spacingAndGlyphs" transform="translate(79.70 373.50) rotate(-90) translate(0.00 0)">2.5</text>
<text x="0" y="0" font-size="10.14" fill="#111" textLength="17.71" lengthAdjust="spacingAndGlyphs" transform="translate(92.80 373.50) rotate(-90) translate(0.00 0)">1.25</text>
<text x="0" y="0" font-size="9.43" fill="#111" textLength="18.41" lengthAdjust="spacingAndGlyphs" transform="translate(105.10 373.50) rotate(-90) translate(0.00 0)">0.62</text>
<text x="0" y="0" font-size="9.29" fill="#111" textLength="17.11" lengthAdjust="spacingAndGlyphs" transform="translate(117.70 373.50) rotate(-90) translate(0.00 0)">0.31</text>
<text x="0" y="0" font-size="9.14" fill="#111" textLength="27.60" lengthAdjust="spacingAndGlyphs" transform="translate(130.80 373.50) rotate(-90) translate(0.00 0)">DMSO</text>
<text x="139.60" y="424.00" font-size="7.4" fill="#111">E1</text>
<text x="139.60" y="471.00" font-size="7.4" fill="#111">sfWDS-ubq<tspan font-size="5" dy="1.5">(n)</tspan></text>
<text x="139.60" y="487.20" font-size="7.4" fill="#111">sfWDS-ubq</text>
<text x="139.60" y="502.40" font-size="7.4" fill="#111">sfWDS</text>
<text x="139.60" y="530.00" font-size="7.4" fill="#111">sfVHL</text>
<rect x="257.70" y="378.20" width="110.30" height="177.30" fill="#e7e7e7"/>
<path d="M276.34,382 L287.34,382 L278.05,552 L265.05,552Z" fill="url(#lanefade)" filter="url(#bl2)"/>
<path d="M289.27,382 L300.27,382 L295.55,552 L282.55,552Z" fill="url(#lanefade)" filter="url(#bl2)"/>
<path d="M302.68,382 L313.68,382 L311.54,552 L298.54,552Z" fill="url(#lanefade)" filter="url(#bl2)"/>
<path d="M315.29,382 L326.29,382 L325.86,552 L312.86,552Z" fill="url(#lanefade)" filter="url(#bl2)"/>
<path d="M328.40,382 L339.40,382 L339.83,552 L326.83,552Z" fill="url(#lanefade)" filter="url(#bl2)"/>
<path d="M341.30,382 L352.30,382 L354.02,552 L341.02,552Z" fill="url(#lanefade)" filter="url(#bl2)"/>
<path d="M355.30,382 L366.30,382 L368.02,552 L355.02,552Z" fill="url(#lanefade)" filter="url(#bl2)"/>
<path d="M273.00,378.5 L276.00,378.5 L267.50,548 L265.50,548Z" fill="url(#gapfade)" opacity="0.85" filter="url(#blm)"/>
<path d="M285.30,378.5 L288.70,378.5 L283.80,548 L281.80,548Z" fill="url(#gapfade)" opacity="0.85" filter="url(#blm)"/>
<path d="M299.20,378.5 L302.60,378.5 L299.40,548 L297.40,548Z" fill="url(#gapfade)" opacity="0.85" filter="url(#blm)"/>
<path d="M312.60,378.5 L315.80,378.5 L313.90,548 L311.90,548Z" fill="url(#gapfade)" opacity="0.85" filter="url(#blm)"/>
<path d="M325.60,378.5 L328.80,378.5 L327.70,548 L325.70,548Z" fill="url(#gapfade)" opacity="0.85" filter="url(#blm)"/>
<path d="M338.80,378.5 L342.00,378.5 L341.40,548 L339.40,548Z" fill="url(#gapfade)" opacity="0.85" filter="url(#blm)"/>
<path d="M352.20,378.5 L355.40,378.5 L355.30,548 L353.30,548Z" fill="url(#gapfade)" opacity="0.85" filter="url(#blm)"/>
<path d="M366.20,378.5 L367.80,378.5 L368.60,548 L366.60,548Z" fill="url(#gapfade)" opacity="0.85" filter="url(#blm)"/>
<path d="M277.34,382 L286.34,382 L285.66,418 L273.66,418Z" fill="url(#smear)" opacity="0.3" filter="url(#blm)"/>
<path d="M266.8,379.3 L274.4,379.3 L274.4,382 L270.6,381.2 L266.8,382Z" fill="#000" opacity="0.2" filter="url(#bl)"/>
<rect x="279.20" y="380.80" width="5.40" height="1.80" rx="0.90" fill="#000" opacity="0.75" filter="url(#bl)"/>
<rect x="291.30" y="379.85" width="7.00" height="1.50" rx="0.75" fill="#000" opacity="0.20" filter="url(#bl)"/>
<rect x="304.70" y="379.85" width="7.00" height="1.50" rx="0.75" fill="#000" opacity="0.20" filter="url(#bl)"/>
<rect x="317.30" y="379.85" width="7.00" height="1.50" rx="0.75" fill="#000" opacity="0.20" filter="url(#bl)"/>
<rect x="330.40" y="379.85" width="7.00" height="1.50" rx="0.75" fill="#000" opacity="0.20" filter="url(#bl)"/>
<rect x="343.30" y="379.85" width="7.00" height="1.50" rx="0.75" fill="#000" opacity="0.20" filter="url(#bl)"/>
<rect x="357.30" y="379.85" width="7.00" height="1.50" rx="0.75" fill="#000" opacity="0.20" filter="url(#bl)"/>
<rect x="273.30" y="420.00" width="12.30" height="3.60" rx="1.80" fill="#000" opacity="1.00" filter="url(#bl)"/>
<rect x="273.80" y="418.25" width="11.30" height="1.50" rx="0.75" fill="#000" opacity="0.90" filter="url(#bl)"/>
<rect x="288.30" y="421.00" width="10.80" height="3.60" rx="1.80" fill="#000" opacity="1.00" filter="url(#bl)"/>
<rect x="288.80" y="419.25" width="9.80" height="1.50" rx="0.75" fill="#000" opacity="0.90" filter="url(#bl)"/>
<rect x="302.30" y="420.30" width="10.70" height="3.60" rx="1.80" fill="#000" opacity="1.00" filter="url(#bl)"/>
<rect x="302.80" y="418.55" width="9.70" height="1.50" rx="0.75" fill="#000" opacity="0.90" filter="url(#bl)"/>
<rect x="315.40" y="419.60" width="10.70" height="3.60" rx="1.80" fill="#000" opacity="1.00" filter="url(#bl)"/>
<rect x="315.90" y="417.85" width="9.70" height="1.50" rx="0.75" fill="#000" opacity="0.90" filter="url(#bl)"/>
<rect x="328.80" y="419.60" width="10.20" height="3.60" rx="1.80" fill="#000" opacity="1.00" filter="url(#bl)"/>
<rect x="329.30" y="417.85" width="9.20" height="1.50" rx="0.75" fill="#000" opacity="0.90" filter="url(#bl)"/>
<rect x="341.70" y="419.80" width="10.20" height="3.60" rx="1.80" fill="#000" opacity="1.00" filter="url(#bl)"/>
<rect x="342.20" y="418.05" width="9.20" height="1.50" rx="0.75" fill="#000" opacity="0.90" filter="url(#bl)"/>
<rect x="355.20" y="419.60" width="11.30" height="3.60" rx="1.80" fill="#000" opacity="1.00" filter="url(#bl)"/>
<rect x="355.70" y="417.85" width="10.30" height="1.50" rx="0.75" fill="#000" opacity="0.90" filter="url(#bl)"/>
<rect x="273.50" y="413.60" width="10.50" height="1.20" rx="0.60" fill="#000" opacity="0.15" filter="url(#bl)"/>
<rect x="270.97" y="469.10" width="11.00" height="3.40" rx="1.70" fill="#000" opacity="0.42" filter="url(#blm)"/>
<rect x="271.47" y="463.00" width="10.00" height="2.00" rx="1.00" fill="#000" opacity="0.06" filter="url(#blm)"/>
<rect x="286.28" y="469.10" width="11.00" height="3.40" rx="1.70" fill="#000" opacity="0.30" filter="url(#blm)"/>
<rect x="286.78" y="463.00" width="10.00" height="2.00" rx="1.00" fill="#000" opacity="0.06" filter="url(#blm)"/>
<rect x="301.04" y="469.10" width="11.00" height="3.40" rx="1.70" fill="#000" opacity="0.30" filter="url(#blm)"/>
<rect x="301.54" y="463.00" width="10.00" height="2.00" rx="1.00" fill="#000" opacity="0.06" filter="url(#blm)"/>
<rect x="314.55" y="469.10" width="11.00" height="3.40" rx="1.70" fill="#000" opacity="0.33" filter="url(#blm)"/>
<rect x="315.05" y="463.00" width="10.00" height="2.00" rx="1.00" fill="#000" opacity="0.06" filter="url(#blm)"/>
<rect x="328.10" y="469.10" width="11.00" height="3.40" rx="1.70" fill="#000" opacity="0.30" filter="url(#blm)"/>
<rect x="328.60" y="463.00" width="10.00" height="2.00" rx="1.00" fill="#000" opacity="0.06" filter="url(#blm)"/>
<rect x="341.68" y="469.10" width="11.00" height="3.40" rx="1.70" fill="#000" opacity="0.22" filter="url(#blm)"/>
<rect x="342.18" y="463.00" width="10.00" height="2.00" rx="1.00" fill="#000" opacity="0.06" filter="url(#blm)"/>
<rect x="355.68" y="469.10" width="11.00" height="3.40" rx="1.70" fill="#000" opacity="0.12" filter="url(#blm)"/>
<rect x="356.18" y="463.00" width="10.00" height="2.00" rx="1.00" fill="#000" opacity="0.06" filter="url(#blm)"/>
<rect x="268.00" y="480.80" width="13.30" height="6.80" rx="2.50" fill="#000" opacity="1.00" filter="url(#blm)"/>
<rect x="286.00" y="483.50" width="10.50" height="5.20" rx="2.50" fill="#000" opacity="0.95" filter="url(#blm)"/>
<rect x="301.20" y="482.90" width="9.90" height="5.40" rx="2.50" fill="#000" opacity="1.00" filter="url(#blm)"/>
<rect x="315.00" y="482.10" width="10.00" height="5.40" rx="2.50" fill="#000" opacity="1.00" filter="url(#blm)"/>
<rect x="327.80" y="481.50" width="10.50" height="5.40" rx="2.50" fill="#000" opacity="1.00" filter="url(#blm)"/>
<rect x="342.00" y="481.80" width="10.50" height="5.20" rx="2.50" fill="#000" opacity="0.95" filter="url(#blm)"/>
<rect x="356.00" y="481.10" width="10.20" height="5.20" rx="2.50" fill="#000" opacity="0.90" filter="url(#blm)"/>
<rect x="267.50" y="494.30" width="14.40" height="10.60" rx="2.50" fill="#000" opacity="1.00" filter="url(#blm)"/>
<rect x="284.20" y="494.80" width="13.20" height="10.60" rx="2.50" fill="#000" opacity="1.00" filter="url(#blm)"/>
<rect x="300.30" y="494.80" width="11.40" height="10.60" rx="2.50" fill="#000" opacity="1.00" filter="url(#blm)"/>
<rect x="313.60" y="494.30" width="12.30" height="10.60" rx="2.50" fill="#000" opacity="1.00" filter="url(#blm)"/>
<rect x="327.80" y="493.80" width="11.40" height="10.60" rx="2.50" fill="#000" opacity="1.00" filter="url(#blm)"/>
<rect x="341.10" y="493.50" width="12.30" height="10.60" rx="2.50" fill="#000" opacity="1.00" filter="url(#blm)"/>
<rect x="355.30" y="493.00" width="12.00" height="10.60" rx="2.50" fill="#000" opacity="1.00" filter="url(#blm)"/>
<path d="M266.50,529.60 L279.50,529.16 L279.50,530.96 L266.50,531.40Z" fill="#000" filter="url(#bl)"/>
<path d="M284.00,529.01 L296.00,528.60 L296.00,530.40 L284.00,530.81Z" fill="#000" filter="url(#bl)"/>
<path d="M299.50,528.48 L311.00,528.09 L311.00,529.89 L299.50,530.28Z" fill="#000" filter="url(#bl)"/>
<path d="M313.00,528.03 L325.00,527.62 L325.00,529.42 L313.00,529.83Z" fill="#000" filter="url(#bl)"/>
<path d="M327.00,527.55 L339.00,527.15 L339.00,528.95 L327.00,529.35Z" fill="#000" filter="url(#bl)"/>
<path d="M341.00,527.08 L352.50,526.69 L352.50,528.49 L341.00,528.88Z" fill="#000" filter="url(#bl)"/>
<path d="M355.00,526.61 L367.00,526.20 L367.00,528.00 L355.00,528.41Z" fill="#000" filter="url(#bl)"/>
<rect x="266.05" y="552.10" width="11.00" height="2.20" rx="1.10" fill="#000" opacity="0.15" filter="url(#blm)"/>
<rect x="283.55" y="552.10" width="11.00" height="2.20" rx="1.10" fill="#000" opacity="0.20" filter="url(#blm)"/>
<rect x="299.54" y="552.10" width="11.00" height="2.20" rx="1.10" fill="#000" opacity="0.20" filter="url(#blm)"/>
<rect x="313.86" y="552.10" width="11.00" height="2.20" rx="1.10" fill="#000" opacity="0.35" filter="url(#blm)"/>
<rect x="327.83" y="552.10" width="11.00" height="2.20" rx="1.10" fill="#000" opacity="0.45" filter="url(#blm)"/>
<rect x="342.02" y="552.10" width="11.00" height="2.20" rx="1.10" fill="#000" opacity="0.45" filter="url(#blm)"/>
<rect x="356.02" y="552.10" width="11.00" height="2.20" rx="1.10" fill="#000" opacity="0.50" filter="url(#blm)"/>
<ellipse cx="267.30" cy="409.00" rx="4.80" ry="3.20" transform="rotate(35 267.30 409.00)" fill="#000" opacity="1.00" filter="url(#bl)"/>
<ellipse cx="265.80" cy="420.10" rx="5.50" ry="3.00" transform="rotate(45 265.80 420.10)" fill="#000" opacity="1.00" filter="url(#bl)"/>
<ellipse cx="265.00" cy="433.70" rx="6.20" ry="3.00" transform="rotate(60 265.00 433.70)" fill="#000" opacity="1.00" filter="url(#bl)"/>
<ellipse cx="264.00" cy="449.50" rx="7.60" ry="3.20" transform="rotate(65 264.00 449.50)" fill="#000" opacity="1.00" filter="url(#bl)"/>
<ellipse cx="264.00" cy="467.30" rx="8.20" ry="3.20" transform="rotate(68 264.00 467.30)" fill="#000" opacity="1.00" filter="url(#bl)"/>
<clipPath id="hclip"><rect x="258.4" y="378" width="110" height="178"/></clipPath>
<g clip-path="url(#hclip)">
<ellipse cx="261.30" cy="501.30" rx="6.20" ry="2.80" transform="rotate(70 261.30 501.30)" fill="#000" opacity="1.00" filter="url(#bl)"/>
<ellipse cx="260.60" cy="517.40" rx="4.60" ry="2.00" transform="rotate(80 260.60 517.40)" fill="#000" opacity="1.00" filter="url(#bl)"/>
<path d="M258.4,536.6 L264.5,541.5 L258.4,542.5Z" fill="#000" filter="url(#bl)"/>
<path d="M258.4,545.7 L262,547.5 L268.5,553 L258.4,554Z" fill="#000" filter="url(#bl)"/>
</g>
<text x="256.50" y="391.60" font-size="9.6" text-anchor="end" fill="#111">kDa</text>
<text x="256.50" y="405.50" font-size="9.6" text-anchor="end" fill="#111">185</text>
<text x="256.50" y="420.40" font-size="9.6" text-anchor="end" fill="#111">115</text>
<text x="256.50" y="435.80" font-size="9.6" text-anchor="end" fill="#111">80</text>
<text x="256.50" y="450.00" font-size="9.6" text-anchor="end" fill="#111">65</text>
<text x="256.50" y="468.80" font-size="9.6" text-anchor="end" fill="#111">50</text>
<text x="256.50" y="500.90" font-size="9.6" text-anchor="end" fill="#111">30</text>
<text x="256.50" y="519.90" font-size="9.6" text-anchor="end" fill="#111">25</text>
<text x="256.50" y="541.90" font-size="9.6" text-anchor="end" fill="#111">15</text>
<text x="256.50" y="553.20" font-size="9.6" text-anchor="end" fill="#111">10</text>
<text x="0" y="0" font-size="7.71" fill="#111" textLength="9.42" lengthAdjust="spacingAndGlyphs" transform="translate(285.10 375.60) rotate(-90) translate(0.00 0)">10</text>
<text x="0" y="0" font-size="7.71" fill="#111" textLength="12.70" lengthAdjust="spacingAndGlyphs" transform="translate(297.50 375.60) rotate(-90) translate(0.00 0)">5.0</text>
<text x="0" y="0" font-size="7.71" fill="#111" textLength="12.70" lengthAdjust="spacingAndGlyphs" transform="translate(309.90 375.60) rotate(-90) translate(0.00 0)">2.5</text>
<text x="0" y="0" font-size="7.86" fill="#111" textLength="17.21" lengthAdjust="spacingAndGlyphs" transform="translate(323.10 375.60) rotate(-90) translate(0.00 0)">1.25</text>
<text x="0" y="0" font-size="8.71" fill="#111" textLength="17.71" lengthAdjust="spacingAndGlyphs" transform="translate(336.20 375.60) rotate(-90) translate(0.00 0)">0.62</text>
<text x="0" y="0" font-size="8.71" fill="#111" textLength="16.51" lengthAdjust="spacingAndGlyphs" transform="translate(348.60 375.60) rotate(-90) translate(0.00 0)">0.31</text>
<text x="0" y="0" font-size="7.86" fill="#111" textLength="25.90" lengthAdjust="spacingAndGlyphs" transform="translate(361.80 375.60) rotate(-90) translate(0.00 0)">DMSO</text>
<text x="370.30" y="421.40" font-size="7.4" fill="#111">E1</text>
<text x="370.30" y="469.50" font-size="7.4" fill="#111">sfWDS-ubq<tspan font-size="5" dy="1.5">(n)</tspan></text>
<text x="370.30" y="483.60" font-size="7.4" fill="#111">sfWDS-ubq</text>
<text x="370.30" y="498.60" font-size="7.4" fill="#111">sfWDS</text>
<text x="370.30" y="528.10" font-size="7.4" fill="#111">sfVHL</text>
<line x1="474.40" y1="353.19" x2="479.50" y2="350.20" stroke="#2a2a2a" stroke-width="0.72"/>
<line x1="479.50" y1="350.20" x2="486.50" y2="354.30" stroke="#2a2a2a" stroke-width="0.72"/>
<line x1="486.50" y1="354.30" x2="486.50" y2="360.20" stroke="#2a2a2a" stroke-width="0.72"/>
<line x1="484.60" y1="363.51" x2="479.50" y2="366.50" stroke="#2a2a2a" stroke-width="0.72"/>
<line x1="479.50" y1="366.50" x2="472.50" y2="362.40" stroke="#2a2a2a" stroke-width="0.72"/>
<line x1="472.50" y1="362.40" x2="472.50" y2="356.50" stroke="#2a2a2a" stroke-width="0.72"/>
<path d="M479.50,350.20 L480.60,342.60 L478.40,342.60Z" fill="#2a2a2a"/>
<path d="M472.50,362.40 L465.53,365.36 L466.67,367.24Z" fill="#2a2a2a"/>
<line x1="470.62" y1="353.16" x2="466.10" y2="350.40" stroke="#2a2a2a" stroke-width="0.72"/>
<line x1="493.50" y1="366.50" x2="500.50" y2="362.40" stroke="#2a2a2a" stroke-width="0.72"/>
<line x1="500.50" y1="362.40" x2="507.60" y2="366.50" stroke="#2a2a2a" stroke-width="0.72"/>
<line x1="500.99" y1="363.95" x2="506.01" y2="366.85" stroke="#2a2a2a" stroke-width="0.72"/>
<line x1="507.60" y1="366.50" x2="507.60" y2="374.60" stroke="#2a2a2a" stroke-width="0.72"/>
<line x1="507.60" y1="374.60" x2="500.50" y2="378.70" stroke="#2a2a2a" stroke-width="0.72"/>
<line x1="506.01" y1="374.25" x2="500.99" y2="377.15" stroke="#2a2a2a" stroke-width="0.72"/>
<line x1="500.50" y1="378.70" x2="493.50" y2="374.60" stroke="#2a2a2a" stroke-width="0.72"/>
<line x1="493.50" y1="374.60" x2="493.50" y2="366.50" stroke="#2a2a2a" stroke-width="0.72"/>
<line x1="494.60" y1="373.40" x2="494.60" y2="367.70" stroke="#2a2a2a" stroke-width="0.72"/>
<line x1="488.40" y1="363.51" x2="493.50" y2="366.50" stroke="#2a2a2a" stroke-width="0.72"/>
<line x1="507.60" y1="366.50" x2="511.95" y2="363.53" stroke="#2a2a2a" stroke-width="0.72"/>
<line x1="493.50" y1="374.60" x2="488.40" y2="377.59" stroke="#2a2a2a" stroke-width="0.72"/>
<line x1="507.60" y1="374.60" x2="514.60" y2="378.70" stroke="#2a2a2a" stroke-width="0.72"/>
<line x1="514.60" y1="378.70" x2="521.60" y2="374.60" stroke="#2a2a2a" stroke-width="0.72"/>
<line x1="516.19" y1="379.04" x2="521.12" y2="376.16" stroke="#2a2a2a" stroke-width="0.72"/>
<line x1="521.60" y1="374.60" x2="525.78" y2="377.46" stroke="#2a2a2a" stroke-width="0.72"/>
<line x1="527.60" y1="380.90" x2="527.60" y2="386.00" stroke="#2a2a2a" stroke-width="0.72"/>
<line x1="526.50" y1="382.10" x2="526.50" y2="384.80" stroke="#2a2a2a" stroke-width="0.72"/>
<line x1="527.60" y1="386.00" x2="522.86" y2="389.02" stroke="#2a2a2a" stroke-width="0.72"/>
<line x1="519.16" y1="388.99" x2="514.60" y2="386.00" stroke="#2a2a2a" stroke-width="0.72"/>
<line x1="518.76" y1="387.41" x2="516.21" y2="385.74" stroke="#2a2a2a" stroke-width="0.72"/>
<line x1="514.60" y1="386.00" x2="514.60" y2="378.70" stroke="#2a2a2a" stroke-width="0.72"/>
<line x1="486.50" y1="380.90" x2="486.50" y2="386.20" stroke="#2a2a2a" stroke-width="0.72"/>
<line x1="486.50" y1="386.20" x2="491.30" y2="389.15" stroke="#2a2a2a" stroke-width="0.72"/>
<line x1="485.92" y1="387.14" x2="490.72" y2="390.09" stroke="#2a2a2a" stroke-width="0.72"/>
<line x1="486.50" y1="386.20" x2="479.50" y2="390.30" stroke="#2a2a2a" stroke-width="0.72"/>
<line x1="479.50" y1="390.30" x2="472.50" y2="386.20" stroke="#2a2a2a" stroke-width="0.72"/>
<line x1="477.91" y1="390.64" x2="472.98" y2="387.76" stroke="#2a2a2a" stroke-width="0.72"/>
<line x1="472.50" y1="386.20" x2="465.50" y2="390.30" stroke="#2a2a2a" stroke-width="0.72"/>
<line x1="465.50" y1="390.30" x2="465.50" y2="398.40" stroke="#2a2a2a" stroke-width="0.72"/>
<line x1="466.60" y1="391.50" x2="466.60" y2="397.20" stroke="#2a2a2a" stroke-width="0.72"/>
<line x1="465.50" y1="398.40" x2="472.50" y2="402.50" stroke="#2a2a2a" stroke-width="0.72"/>
<line x1="472.50" y1="402.50" x2="479.50" y2="398.40" stroke="#2a2a2a" stroke-width="0.72"/>
<line x1="472.98" y1="400.94" x2="477.91" y2="398.06" stroke="#2a2a2a" stroke-width="0.72"/>
<line x1="479.50" y1="398.40" x2="479.50" y2="390.30" stroke="#2a2a2a" stroke-width="0.72"/>
<line x1="465.50" y1="398.40" x2="460.80" y2="401.14" stroke="#2a2a2a" stroke-width="0.72"/>
<line x1="479.50" y1="398.40" x2="486.50" y2="402.50" stroke="#2a2a2a" stroke-width="0.72"/>
<line x1="486.50" y1="402.50" x2="491.22" y2="398.83" stroke="#2a2a2a" stroke-width="0.72"/>
<line x1="486.50" y1="402.50" x2="491.08" y2="405.19" stroke="#2a2a2a" stroke-width="0.72"/>
<line x1="486.50" y1="402.50" x2="486.13" y2="408.20" stroke="#2a2a2a" stroke-width="0.72"/>
<line x1="527.60" y1="386.00" x2="532.19" y2="389.15" stroke="#2a2a2a" stroke-width="0.72"/>
<line x1="535.85" y1="389.21" x2="541.00" y2="385.90" stroke="#2a2a2a" stroke-width="0.72"/>
<line x1="541.00" y1="385.90" x2="548.00" y2="389.90" stroke="#2a2a2a" stroke-width="0.72"/>
<line x1="548.00" y1="389.90" x2="548.00" y2="395.80" stroke="#2a2a2a" stroke-width="0.72"/>
<line x1="546.08" y1="399.07" x2="541.00" y2="401.90" stroke="#2a2a2a" stroke-width="0.72"/>
<line x1="541.00" y1="401.90" x2="534.00" y2="397.60" stroke="#2a2a2a" stroke-width="0.72"/>
<line x1="534.00" y1="397.60" x2="534.00" y2="392.60" stroke="#2a2a2a" stroke-width="0.72"/>
<line x1="549.90" y1="399.11" x2="555.00" y2="402.10" stroke="#2a2a2a" stroke-width="0.72"/>
<line x1="555.00" y1="402.10" x2="555.00" y2="407.50" stroke="#2a2a2a" stroke-width="0.72"/>
<line x1="553.90" y1="402.10" x2="553.90" y2="407.50" stroke="#2a2a2a" stroke-width="0.72"/>
<line x1="555.00" y1="402.10" x2="562.00" y2="398.00" stroke="#2a2a2a" stroke-width="0.72"/>
<line x1="562.00" y1="398.00" x2="567.10" y2="400.99" stroke="#2a2a2a" stroke-width="0.72"/>
<line x1="570.90" y1="400.99" x2="576.00" y2="398.00" stroke="#2a2a2a" stroke-width="0.72"/>
<line x1="576.00" y1="398.00" x2="583.00" y2="402.10" stroke="#2a2a2a" stroke-width="0.72"/>
<line x1="583.00" y1="402.10" x2="583.00" y2="410.30" stroke="#2a2a2a" stroke-width="0.72"/>
<line x1="583.00" y1="410.30" x2="576.00" y2="414.20" stroke="#2a2a2a" stroke-width="0.72"/>
<line x1="576.00" y1="414.20" x2="569.00" y2="410.30" stroke="#2a2a2a" stroke-width="0.72"/>
<line x1="569.00" y1="410.30" x2="569.00" y2="404.30" stroke="#2a2a2a" stroke-width="0.72"/>
<line x1="583.00" y1="410.30" x2="590.00" y2="414.20" stroke="#2a2a2a" stroke-width="0.72"/>
<line x1="590.00" y1="414.20" x2="594.05" y2="411.13" stroke="#2a2a2a" stroke-width="0.72"/>
<line x1="595.80" y1="407.60" x2="595.80" y2="401.60" stroke="#2a2a2a" stroke-width="0.72"/>
<line x1="595.80" y1="401.60" x2="602.80" y2="397.50" stroke="#2a2a2a" stroke-width="0.72"/>
<line x1="602.80" y1="397.50" x2="607.99" y2="400.50" stroke="#2a2a2a" stroke-width="0.72"/>
<line x1="609.90" y1="403.80" x2="609.90" y2="409.80" stroke="#2a2a2a" stroke-width="0.72"/>
<line x1="609.90" y1="409.80" x2="602.80" y2="413.90" stroke="#2a2a2a" stroke-width="0.72"/>
<line x1="602.80" y1="413.90" x2="597.70" y2="410.91" stroke="#2a2a2a" stroke-width="0.72"/>
<line x1="611.80" y1="400.49" x2="616.90" y2="397.50" stroke="#2a2a2a" stroke-width="0.72"/>
<line x1="616.90" y1="397.50" x2="623.90" y2="401.60" stroke="#2a2a2a" stroke-width="0.72"/>
<line x1="623.90" y1="401.60" x2="623.90" y2="407.40" stroke="#2a2a2a" stroke-width="0.72"/>
<line x1="622.80" y1="401.60" x2="622.80" y2="407.40" stroke="#2a2a2a" stroke-width="0.72"/>
<line x1="623.90" y1="401.60" x2="628.97" y2="398.85" stroke="#2a2a2a" stroke-width="0.72"/>
<line x1="632.79" y1="398.92" x2="637.30" y2="401.60" stroke="#2a2a2a" stroke-width="0.72"/>
<line x1="637.50" y1="403.22" x2="637.10" y2="403.22" stroke="#2a2a2a" stroke-width="0.45"/>
<line x1="637.70" y1="404.84" x2="636.90" y2="404.84" stroke="#2a2a2a" stroke-width="0.45"/>
<line x1="637.90" y1="406.45" x2="636.70" y2="406.45" stroke="#2a2a2a" stroke-width="0.45"/>
<line x1="638.10" y1="408.07" x2="636.50" y2="408.07" stroke="#2a2a2a" stroke-width="0.45"/>
<line x1="638.30" y1="409.69" x2="636.30" y2="409.69" stroke="#2a2a2a" stroke-width="0.45"/>
<line x1="637.30" y1="410.50" x2="630.90" y2="413.60" stroke="#2a2a2a" stroke-width="0.72"/>
<line x1="637.30" y1="410.50" x2="643.90" y2="413.60" stroke="#2a2a2a" stroke-width="0.72"/>
<line x1="637.30" y1="410.50" x2="637.30" y2="417.60" stroke="#2a2a2a" stroke-width="0.72"/>
<line x1="637.30" y1="401.60" x2="644.30" y2="397.50" stroke="#2a2a2a" stroke-width="0.72"/>
<line x1="644.30" y1="397.50" x2="644.30" y2="392.80" stroke="#2a2a2a" stroke-width="0.72"/>
<line x1="645.40" y1="397.50" x2="645.40" y2="392.80" stroke="#2a2a2a" stroke-width="0.72"/>
<line x1="644.30" y1="397.50" x2="648.85" y2="400.41" stroke="#2a2a2a" stroke-width="0.72"/>
<line x1="652.66" y1="400.61" x2="658.60" y2="397.60" stroke="#2a2a2a" stroke-width="0.72"/>
<line x1="658.60" y1="397.60" x2="663.00" y2="405.00" stroke="#2a2a2a" stroke-width="0.72"/>
<line x1="663.00" y1="405.00" x2="659.30" y2="410.90" stroke="#2a2a2a" stroke-width="0.72"/>
<line x1="659.30" y1="410.90" x2="651.90" y2="409.40" stroke="#2a2a2a" stroke-width="0.72"/>
<line x1="651.90" y1="409.40" x2="651.03" y2="403.77" stroke="#2a2a2a" stroke-width="0.72"/>
<path d="M659.30,410.90 L662.46,418.17 L664.34,417.03Z" fill="#2a2a2a"/>
<line x1="658.66" y1="396.11" x2="659.05" y2="396.18" stroke="#2a2a2a" stroke-width="0.45"/>
<line x1="658.72" y1="394.62" x2="659.50" y2="394.76" stroke="#2a2a2a" stroke-width="0.45"/>
<line x1="658.77" y1="393.13" x2="659.95" y2="393.34" stroke="#2a2a2a" stroke-width="0.45"/>
<line x1="658.83" y1="391.64" x2="660.41" y2="391.92" stroke="#2a2a2a" stroke-width="0.45"/>
<line x1="658.89" y1="390.15" x2="660.86" y2="390.50" stroke="#2a2a2a" stroke-width="0.45"/>
<line x1="660.00" y1="389.60" x2="665.62" y2="388.86" stroke="#2a2a2a" stroke-width="0.72"/>
<line x1="660.14" y1="390.69" x2="665.76" y2="389.95" stroke="#2a2a2a" stroke-width="0.72"/>
<line x1="660.00" y1="389.60" x2="655.48" y2="386.30" stroke="#2a2a2a" stroke-width="0.72"/>
<line x1="654.34" y1="382.90" x2="655.90" y2="377.80" stroke="#2a2a2a" stroke-width="0.72"/>
<line x1="657.20" y1="377.16" x2="657.33" y2="377.54" stroke="#2a2a2a" stroke-width="0.45"/>
<line x1="658.50" y1="376.51" x2="658.75" y2="377.27" stroke="#2a2a2a" stroke-width="0.45"/>
<line x1="659.80" y1="375.87" x2="660.18" y2="377.01" stroke="#2a2a2a" stroke-width="0.45"/>
<line x1="661.10" y1="375.22" x2="661.61" y2="376.74" stroke="#2a2a2a" stroke-width="0.45"/>
<line x1="662.40" y1="374.58" x2="663.03" y2="376.48" stroke="#2a2a2a" stroke-width="0.45"/>
<line x1="650.80" y1="372.30" x2="655.90" y2="377.80" stroke="#2a2a2a" stroke-width="0.72"/>
<line x1="637.60" y1="360.80" x2="645.40" y2="358.90" stroke="#2a2a2a" stroke-width="0.72"/>
<line x1="639.03" y1="361.58" x2="644.49" y2="360.25" stroke="#2a2a2a" stroke-width="0.72"/>
<line x1="645.40" y1="358.90" x2="651.60" y2="364.60" stroke="#2a2a2a" stroke-width="0.72"/>
<line x1="651.60" y1="364.60" x2="650.80" y2="372.30" stroke="#2a2a2a" stroke-width="0.72"/>
<line x1="650.38" y1="365.68" x2="649.83" y2="370.99" stroke="#2a2a2a" stroke-width="0.72"/>
<line x1="650.80" y1="372.30" x2="643.40" y2="374.80" stroke="#2a2a2a" stroke-width="0.72"/>
<line x1="643.40" y1="374.80" x2="636.60" y2="369.10" stroke="#2a2a2a" stroke-width="0.72"/>
<line x1="643.19" y1="373.19" x2="638.23" y2="369.03" stroke="#2a2a2a" stroke-width="0.72"/>
<line x1="636.60" y1="369.10" x2="637.60" y2="360.80" stroke="#2a2a2a" stroke-width="0.72"/>
<line x1="620.40" y1="351.10" x2="624.31" y2="346.82" stroke="#2a2a2a" stroke-width="0.72"/>
<line x1="622.02" y1="350.96" x2="624.32" y2="348.45" stroke="#2a2a2a" stroke-width="0.72"/>
<line x1="627.85" y1="346.00" x2="632.70" y2="347.90" stroke="#2a2a2a" stroke-width="0.72"/>
<line x1="632.70" y1="347.90" x2="632.20" y2="356.00" stroke="#2a2a2a" stroke-width="0.72"/>
<line x1="631.53" y1="349.03" x2="631.18" y2="354.73" stroke="#2a2a2a" stroke-width="0.72"/>
<line x1="632.20" y1="356.00" x2="626.82" y2="357.51" stroke="#2a2a2a" stroke-width="0.72"/>
<line x1="623.55" y1="356.23" x2="620.40" y2="351.10" stroke="#2a2a2a" stroke-width="0.72"/>
<line x1="632.70" y1="347.90" x2="640.30" y2="344.70" stroke="#2a2a2a" stroke-width="0.72"/>
<line x1="632.20" y1="356.00" x2="637.60" y2="360.80" stroke="#2a2a2a" stroke-width="0.72"/>
<text x="472.50" y="355.70" font-size="6.3" text-anchor="middle" fill="#fff" stroke="#fff" stroke-width="1.2" stroke-linejoin="round">N</text>
<text x="472.50" y="355.70" font-size="6.3" text-anchor="middle" fill="#000" stroke="#000" stroke-width="0.22">N</text>
<text x="486.50" y="363.80" font-size="6.3" text-anchor="middle" fill="#fff" stroke="#fff" stroke-width="1.2" stroke-linejoin="round">N</text>
<text x="486.50" y="363.80" font-size="6.3" text-anchor="middle" fill="#000" stroke="#000" stroke-width="0.22">N</text>
<text x="514.40" y="363.80" font-size="6.3" text-anchor="middle" fill="#fff" stroke="#fff" stroke-width="1.2" stroke-linejoin="round">F</text>
<text x="514.40" y="363.80" font-size="6.3" text-anchor="middle" fill="#000" stroke="#000" stroke-width="0.22">F</text>
<text x="484.60" y="380.10" font-size="6.3" text-anchor="middle" fill="#fff" stroke="#fff" stroke-width="1.2" stroke-linejoin="round">HN</text>
<text x="484.60" y="380.10" font-size="6.3" text-anchor="middle" fill="#000" stroke="#000" stroke-width="0.22">HN</text>
<text x="527.60" y="380.10" font-size="6.3" text-anchor="middle" fill="#fff" stroke="#fff" stroke-width="1.2" stroke-linejoin="round">N</text>
<text x="527.60" y="380.10" font-size="6.3" text-anchor="middle" fill="#000" stroke="#000" stroke-width="0.22">N</text>
<text x="521.00" y="391.60" font-size="6.3" text-anchor="middle" fill="#fff" stroke="#fff" stroke-width="1.2" stroke-linejoin="round">N</text>
<text x="521.00" y="391.60" font-size="6.3" text-anchor="middle" fill="#000" stroke="#000" stroke-width="0.22">N</text>
<text x="493.60" y="391.80" font-size="6.3" text-anchor="middle" fill="#fff" stroke="#fff" stroke-width="1.2" stroke-linejoin="round">O</text>
<text x="493.60" y="391.80" font-size="6.3" text-anchor="middle" fill="#000" stroke="#000" stroke-width="0.22">O</text>
<text x="458.80" y="403.30" font-size="6.3" text-anchor="middle" fill="#fff" stroke="#fff" stroke-width="1.2" stroke-linejoin="round">F</text>
<text x="458.80" y="403.30" font-size="6.3" text-anchor="middle" fill="#000" stroke="#000" stroke-width="0.22">F</text>
<text x="492.80" y="399.00" font-size="6.3" text-anchor="middle" fill="#fff" stroke="#fff" stroke-width="1.2" stroke-linejoin="round">F</text>
<text x="492.80" y="399.00" font-size="6.3" text-anchor="middle" fill="#000" stroke="#000" stroke-width="0.22">F</text>
<text x="492.80" y="407.60" font-size="6.3" text-anchor="middle" fill="#fff" stroke="#fff" stroke-width="1.2" stroke-linejoin="round">F</text>
<text x="492.80" y="407.60" font-size="6.3" text-anchor="middle" fill="#000" stroke="#000" stroke-width="0.22">F</text>
<text x="486.00" y="411.60" font-size="6.3" text-anchor="middle" fill="#fff" stroke="#fff" stroke-width="1.2" stroke-linejoin="round">F</text>
<text x="486.00" y="411.60" font-size="6.3" text-anchor="middle" fill="#000" stroke="#000" stroke-width="0.22">F</text>
<text x="534.00" y="391.80" font-size="6.3" text-anchor="middle" fill="#fff" stroke="#fff" stroke-width="1.2" stroke-linejoin="round">N</text>
<text x="534.00" y="391.80" font-size="6.3" text-anchor="middle" fill="#000" stroke="#000" stroke-width="0.22">N</text>
<text x="548.00" y="399.40" font-size="6.3" text-anchor="middle" fill="#fff" stroke="#fff" stroke-width="1.2" stroke-linejoin="round">N</text>
<text x="548.00" y="399.40" font-size="6.3" text-anchor="middle" fill="#000" stroke="#000" stroke-width="0.22">N</text>
<text x="555.00" y="411.60" font-size="6.3" text-anchor="middle" fill="#fff" stroke="#fff" stroke-width="1.2" stroke-linejoin="round">O</text>
<text x="555.00" y="411.60" font-size="6.3" text-anchor="middle" fill="#000" stroke="#000" stroke-width="0.22">O</text>
<text x="569.00" y="403.50" font-size="6.3" text-anchor="middle" fill="#fff" stroke="#fff" stroke-width="1.2" stroke-linejoin="round">N</text>
<text x="569.00" y="403.50" font-size="6.3" text-anchor="middle" fill="#000" stroke="#000" stroke-width="0.22">N</text>
<text x="595.80" y="411.20" font-size="6.3" text-anchor="middle" fill="#fff" stroke="#fff" stroke-width="1.2" stroke-linejoin="round">N</text>
<text x="595.80" y="411.20" font-size="6.3" text-anchor="middle" fill="#000" stroke="#000" stroke-width="0.22">N</text>
<text x="609.90" y="403.00" font-size="6.3" text-anchor="middle" fill="#fff" stroke="#fff" stroke-width="1.2" stroke-linejoin="round">N</text>
<text x="609.90" y="403.00" font-size="6.3" text-anchor="middle" fill="#000" stroke="#000" stroke-width="0.22">N</text>
<text x="623.90" y="411.60" font-size="6.3" text-anchor="middle" fill="#fff" stroke="#fff" stroke-width="1.2" stroke-linejoin="round">O</text>
<text x="623.90" y="411.60" font-size="6.3" text-anchor="middle" fill="#000" stroke="#000" stroke-width="0.22">O</text>
<text x="630.90" y="399.20" font-size="6.3" text-anchor="middle" fill="#fff" stroke="#fff" stroke-width="1.2" stroke-linejoin="round">N</text>
<text x="630.90" y="399.20" font-size="6.3" text-anchor="middle" fill="#000" stroke="#000" stroke-width="0.22">N</text>
<text x="630.90" y="394.00" font-size="6.3" text-anchor="middle" fill="#fff" stroke="#fff" stroke-width="1.2" stroke-linejoin="round">H</text>
<text x="630.90" y="394.00" font-size="6.3" text-anchor="middle" fill="#000" stroke="#000" stroke-width="0.22">H</text>
<text x="644.30" y="391.30" font-size="6.3" text-anchor="middle" fill="#fff" stroke="#fff" stroke-width="1.2" stroke-linejoin="round">O</text>
<text x="644.30" y="391.30" font-size="6.3" text-anchor="middle" fill="#000" stroke="#000" stroke-width="0.22">O</text>
<text x="650.70" y="403.00" font-size="6.3" text-anchor="middle" fill="#fff" stroke="#fff" stroke-width="1.2" stroke-linejoin="round">N</text>
<text x="650.70" y="403.00" font-size="6.3" text-anchor="middle" fill="#000" stroke="#000" stroke-width="0.22">N</text>
<text x="667.50" y="420.00" font-size="6.3" text-anchor="middle" fill="#fff" stroke="#fff" stroke-width="1.2" stroke-linejoin="round">OH</text>
<text x="667.50" y="420.00" font-size="6.3" text-anchor="middle" fill="#000" stroke="#000" stroke-width="0.22">OH</text>
<text x="668.40" y="390.00" font-size="6.3" text-anchor="middle" fill="#fff" stroke="#fff" stroke-width="1.2" stroke-linejoin="round">O</text>
<text x="668.40" y="390.00" font-size="6.3" text-anchor="middle" fill="#000" stroke="#000" stroke-width="0.22">O</text>
<text x="652.40" y="386.60" font-size="6.3" text-anchor="middle" fill="#fff" stroke="#fff" stroke-width="1.2" stroke-linejoin="round">HN</text>
<text x="652.40" y="386.60" font-size="6.3" text-anchor="middle" fill="#000" stroke="#000" stroke-width="0.22">HN</text>
<text x="625.80" y="346.60" font-size="6.3" text-anchor="middle" fill="#fff" stroke="#fff" stroke-width="1.2" stroke-linejoin="round">N</text>
<text x="625.80" y="346.60" font-size="6.3" text-anchor="middle" fill="#000" stroke="#000" stroke-width="0.22">N</text>
<text x="624.70" y="359.50" font-size="6.3" text-anchor="middle" fill="#fff" stroke="#fff" stroke-width="1.2" stroke-linejoin="round">S</text>
<text x="624.70" y="359.50" font-size="6.3" text-anchor="middle" fill="#000" stroke="#000" stroke-width="0.22">S</text>
<line x1="475.10" y1="459.49" x2="480.20" y2="456.50" stroke="#2a2a2a" stroke-width="0.72"/>
<line x1="480.20" y1="456.50" x2="487.20" y2="460.60" stroke="#2a2a2a" stroke-width="0.72"/>
<line x1="487.20" y1="460.60" x2="487.20" y2="466.50" stroke="#2a2a2a" stroke-width="0.72"/>
<line x1="485.30" y1="469.81" x2="480.20" y2="472.80" stroke="#2a2a2a" stroke-width="0.72"/>
<line x1="480.20" y1="472.80" x2="473.20" y2="468.70" stroke="#2a2a2a" stroke-width="0.72"/>
<line x1="473.20" y1="468.70" x2="473.20" y2="462.80" stroke="#2a2a2a" stroke-width="0.72"/>
<path d="M480.20,456.50 L481.30,448.90 L479.10,448.90Z" fill="#2a2a2a"/>
<path d="M473.20,468.70 L466.23,471.66 L467.37,473.54Z" fill="#2a2a2a"/>
<line x1="471.32" y1="459.46" x2="466.80" y2="456.70" stroke="#2a2a2a" stroke-width="0.72"/>
<line x1="494.20" y1="472.80" x2="501.20" y2="468.70" stroke="#2a2a2a" stroke-width="0.72"/>
<line x1="501.20" y1="468.70" x2="508.30" y2="472.80" stroke="#2a2a2a" stroke-width="0.72"/>
<line x1="501.69" y1="470.25" x2="506.71" y2="473.15" stroke="#2a2a2a" stroke-width="0.72"/>
<line x1="508.30" y1="472.80" x2="508.30" y2="480.90" stroke="#2a2a2a" stroke-width="0.72"/>
<line x1="508.30" y1="480.90" x2="501.20" y2="485.00" stroke="#2a2a2a" stroke-width="0.72"/>
<line x1="506.71" y1="480.55" x2="501.69" y2="483.45" stroke="#2a2a2a" stroke-width="0.72"/>
<line x1="501.20" y1="485.00" x2="494.20" y2="480.90" stroke="#2a2a2a" stroke-width="0.72"/>
<line x1="494.20" y1="480.90" x2="494.20" y2="472.80" stroke="#2a2a2a" stroke-width="0.72"/>
<line x1="495.30" y1="479.70" x2="495.30" y2="474.00" stroke="#2a2a2a" stroke-width="0.72"/>
<line x1="489.10" y1="469.81" x2="494.20" y2="472.80" stroke="#2a2a2a" stroke-width="0.72"/>
<line x1="508.30" y1="472.80" x2="512.65" y2="469.83" stroke="#2a2a2a" stroke-width="0.72"/>
<line x1="494.20" y1="480.90" x2="489.10" y2="483.89" stroke="#2a2a2a" stroke-width="0.72"/>
<line x1="508.30" y1="480.90" x2="515.30" y2="485.00" stroke="#2a2a2a" stroke-width="0.72"/>
<line x1="515.30" y1="485.00" x2="522.30" y2="480.90" stroke="#2a2a2a" stroke-width="0.72"/>
<line x1="516.89" y1="485.34" x2="521.82" y2="482.46" stroke="#2a2a2a" stroke-width="0.72"/>
<line x1="522.30" y1="480.90" x2="526.48" y2="483.76" stroke="#2a2a2a" stroke-width="0.72"/>
<line x1="528.30" y1="487.20" x2="528.30" y2="492.30" stroke="#2a2a2a" stroke-width="0.72"/>
<line x1="527.20" y1="488.40" x2="527.20" y2="491.10" stroke="#2a2a2a" stroke-width="0.72"/>
<line x1="528.30" y1="492.30" x2="523.56" y2="495.32" stroke="#2a2a2a" stroke-width="0.72"/>
<line x1="519.86" y1="495.29" x2="515.30" y2="492.30" stroke="#2a2a2a" stroke-width="0.72"/>
<line x1="519.46" y1="493.71" x2="516.91" y2="492.04" stroke="#2a2a2a" stroke-width="0.72"/>
<line x1="515.30" y1="492.30" x2="515.30" y2="485.00" stroke="#2a2a2a" stroke-width="0.72"/>
<line x1="487.20" y1="487.20" x2="487.20" y2="492.50" stroke="#2a2a2a" stroke-width="0.72"/>
<line x1="487.20" y1="492.50" x2="492.00" y2="495.45" stroke="#2a2a2a" stroke-width="0.72"/>
<line x1="486.62" y1="493.44" x2="491.42" y2="496.39" stroke="#2a2a2a" stroke-width="0.72"/>
<line x1="487.20" y1="492.50" x2="480.20" y2="496.60" stroke="#2a2a2a" stroke-width="0.72"/>
<line x1="480.20" y1="496.60" x2="473.20" y2="492.50" stroke="#2a2a2a" stroke-width="0.72"/>
<line x1="478.61" y1="496.94" x2="473.68" y2="494.06" stroke="#2a2a2a" stroke-width="0.72"/>
<line x1="473.20" y1="492.50" x2="466.20" y2="496.60" stroke="#2a2a2a" stroke-width="0.72"/>
<line x1="466.20" y1="496.60" x2="466.20" y2="504.70" stroke="#2a2a2a" stroke-width="0.72"/>
<line x1="467.30" y1="497.80" x2="467.30" y2="503.50" stroke="#2a2a2a" stroke-width="0.72"/>
<line x1="466.20" y1="504.70" x2="473.20" y2="508.80" stroke="#2a2a2a" stroke-width="0.72"/>
<line x1="473.20" y1="508.80" x2="480.20" y2="504.70" stroke="#2a2a2a" stroke-width="0.72"/>
<line x1="473.68" y1="507.24" x2="478.61" y2="504.36" stroke="#2a2a2a" stroke-width="0.72"/>
<line x1="480.20" y1="504.70" x2="480.20" y2="496.60" stroke="#2a2a2a" stroke-width="0.72"/>
<line x1="466.20" y1="504.70" x2="461.50" y2="507.44" stroke="#2a2a2a" stroke-width="0.72"/>
<line x1="480.20" y1="504.70" x2="487.20" y2="508.80" stroke="#2a2a2a" stroke-width="0.72"/>
<line x1="487.20" y1="508.80" x2="491.92" y2="505.13" stroke="#2a2a2a" stroke-width="0.72"/>
<line x1="487.20" y1="508.80" x2="491.78" y2="511.49" stroke="#2a2a2a" stroke-width="0.72"/>
<line x1="487.20" y1="508.80" x2="486.83" y2="514.50" stroke="#2a2a2a" stroke-width="0.72"/>
<line x1="528.30" y1="492.30" x2="532.89" y2="495.45" stroke="#2a2a2a" stroke-width="0.72"/>
<line x1="536.55" y1="495.51" x2="541.70" y2="492.20" stroke="#2a2a2a" stroke-width="0.72"/>
<line x1="541.70" y1="492.20" x2="548.70" y2="496.20" stroke="#2a2a2a" stroke-width="0.72"/>
<line x1="548.70" y1="496.20" x2="548.70" y2="502.10" stroke="#2a2a2a" stroke-width="0.72"/>
<line x1="546.78" y1="505.37" x2="541.70" y2="508.20" stroke="#2a2a2a" stroke-width="0.72"/>
<line x1="541.70" y1="508.20" x2="534.70" y2="503.90" stroke="#2a2a2a" stroke-width="0.72"/>
<line x1="534.70" y1="503.90" x2="534.70" y2="498.90" stroke="#2a2a2a" stroke-width="0.72"/>
<line x1="550.60" y1="505.41" x2="555.70" y2="508.40" stroke="#2a2a2a" stroke-width="0.72"/>
<line x1="555.70" y1="508.40" x2="555.70" y2="513.80" stroke="#2a2a2a" stroke-width="0.72"/>
<line x1="554.60" y1="508.40" x2="554.60" y2="513.80" stroke="#2a2a2a" stroke-width="0.72"/>
<line x1="555.70" y1="508.40" x2="562.70" y2="504.30" stroke="#2a2a2a" stroke-width="0.72"/>
<line x1="562.70" y1="504.30" x2="567.80" y2="507.29" stroke="#2a2a2a" stroke-width="0.72"/>
<line x1="571.60" y1="507.29" x2="576.70" y2="504.30" stroke="#2a2a2a" stroke-width="0.72"/>
<line x1="576.70" y1="504.30" x2="583.70" y2="508.40" stroke="#2a2a2a" stroke-width="0.72"/>
<line x1="583.70" y1="508.40" x2="583.70" y2="516.60" stroke="#2a2a2a" stroke-width="0.72"/>
<line x1="583.70" y1="516.60" x2="576.70" y2="520.50" stroke="#2a2a2a" stroke-width="0.72"/>
<line x1="576.70" y1="520.50" x2="569.70" y2="516.60" stroke="#2a2a2a" stroke-width="0.72"/>
<line x1="569.70" y1="516.60" x2="569.70" y2="510.60" stroke="#2a2a2a" stroke-width="0.72"/>
<line x1="583.70" y1="516.60" x2="590.70" y2="520.50" stroke="#2a2a2a" stroke-width="0.72"/>
<line x1="590.70" y1="520.50" x2="594.75" y2="517.43" stroke="#2a2a2a" stroke-width="0.72"/>
<line x1="596.50" y1="513.90" x2="596.50" y2="507.90" stroke="#2a2a2a" stroke-width="0.72"/>
<line x1="596.50" y1="507.90" x2="603.50" y2="503.80" stroke="#2a2a2a" stroke-width="0.72"/>
<line x1="603.50" y1="503.80" x2="608.69" y2="506.80" stroke="#2a2a2a" stroke-width="0.72"/>
<line x1="610.60" y1="510.10" x2="610.60" y2="516.10" stroke="#2a2a2a" stroke-width="0.72"/>
<line x1="610.60" y1="516.10" x2="603.50" y2="520.20" stroke="#2a2a2a" stroke-width="0.72"/>
<line x1="603.50" y1="520.20" x2="598.40" y2="517.21" stroke="#2a2a2a" stroke-width="0.72"/>
<line x1="612.50" y1="506.79" x2="617.60" y2="503.80" stroke="#2a2a2a" stroke-width="0.72"/>
<line x1="617.60" y1="503.80" x2="624.60" y2="507.90" stroke="#2a2a2a" stroke-width="0.72"/>
<line x1="624.60" y1="507.90" x2="624.60" y2="513.70" stroke="#2a2a2a" stroke-width="0.72"/>
<line x1="623.50" y1="507.90" x2="623.50" y2="513.70" stroke="#2a2a2a" stroke-width="0.72"/>
<line x1="624.60" y1="507.90" x2="629.67" y2="505.15" stroke="#2a2a2a" stroke-width="0.72"/>
<line x1="633.49" y1="505.22" x2="638.00" y2="507.90" stroke="#2a2a2a" stroke-width="0.72"/>
<line x1="638.20" y1="509.52" x2="637.80" y2="509.52" stroke="#2a2a2a" stroke-width="0.45"/>
<line x1="638.40" y1="511.14" x2="637.60" y2="511.14" stroke="#2a2a2a" stroke-width="0.45"/>
<line x1="638.60" y1="512.75" x2="637.40" y2="512.75" stroke="#2a2a2a" stroke-width="0.45"/>
<line x1="638.80" y1="514.37" x2="637.20" y2="514.37" stroke="#2a2a2a" stroke-width="0.45"/>
<line x1="639.00" y1="515.99" x2="637.00" y2="515.99" stroke="#2a2a2a" stroke-width="0.45"/>
<line x1="638.00" y1="516.80" x2="631.60" y2="519.90" stroke="#2a2a2a" stroke-width="0.72"/>
<line x1="638.00" y1="516.80" x2="644.60" y2="519.90" stroke="#2a2a2a" stroke-width="0.72"/>
<line x1="638.00" y1="516.80" x2="638.00" y2="523.90" stroke="#2a2a2a" stroke-width="0.72"/>
<line x1="638.00" y1="507.90" x2="645.00" y2="503.80" stroke="#2a2a2a" stroke-width="0.72"/>
<line x1="645.00" y1="503.80" x2="645.00" y2="499.10" stroke="#2a2a2a" stroke-width="0.72"/>
<line x1="646.10" y1="503.80" x2="646.10" y2="499.10" stroke="#2a2a2a" stroke-width="0.72"/>
<line x1="645.00" y1="503.80" x2="649.55" y2="506.71" stroke="#2a2a2a" stroke-width="0.72"/>
<line x1="653.36" y1="506.91" x2="659.30" y2="503.90" stroke="#2a2a2a" stroke-width="0.72"/>
<line x1="659.30" y1="503.90" x2="663.70" y2="511.30" stroke="#2a2a2a" stroke-width="0.72"/>
<line x1="663.70" y1="511.30" x2="660.00" y2="517.20" stroke="#2a2a2a" stroke-width="0.72"/>
<line x1="660.00" y1="517.20" x2="652.60" y2="515.70" stroke="#2a2a2a" stroke-width="0.72"/>
<line x1="652.60" y1="515.70" x2="651.73" y2="510.07" stroke="#2a2a2a" stroke-width="0.72"/>
<line x1="660.92" y1="518.31" x2="660.57" y2="518.52" stroke="#2a2a2a" stroke-width="0.45"/>
<line x1="661.83" y1="519.43" x2="661.15" y2="519.85" stroke="#2a2a2a" stroke-width="0.45"/>
<line x1="662.75" y1="520.54" x2="661.72" y2="521.17" stroke="#2a2a2a" stroke-width="0.45"/>
<line x1="663.66" y1="521.66" x2="662.30" y2="522.49" stroke="#2a2a2a" stroke-width="0.45"/>
<line x1="664.58" y1="522.77" x2="662.87" y2="523.81" stroke="#2a2a2a" stroke-width="0.45"/>
<line x1="659.36" y1="502.41" x2="659.75" y2="502.48" stroke="#2a2a2a" stroke-width="0.45"/>
<line x1="659.42" y1="500.92" x2="660.20" y2="501.06" stroke="#2a2a2a" stroke-width="0.45"/>
<line x1="659.47" y1="499.43" x2="660.65" y2="499.64" stroke="#2a2a2a" stroke-width="0.45"/>
<line x1="659.53" y1="497.94" x2="661.11" y2="498.22" stroke="#2a2a2a" stroke-width="0.45"/>
<line x1="659.59" y1="496.45" x2="661.56" y2="496.80" stroke="#2a2a2a" stroke-width="0.45"/>
<line x1="660.70" y1="495.90" x2="666.32" y2="495.16" stroke="#2a2a2a" stroke-width="0.72"/>
<line x1="660.84" y1="496.99" x2="666.46" y2="496.25" stroke="#2a2a2a" stroke-width="0.72"/>
<line x1="660.70" y1="495.90" x2="656.18" y2="492.60" stroke="#2a2a2a" stroke-width="0.72"/>
<line x1="655.04" y1="489.20" x2="656.60" y2="484.10" stroke="#2a2a2a" stroke-width="0.72"/>
<line x1="657.90" y1="483.46" x2="658.03" y2="483.84" stroke="#2a2a2a" stroke-width="0.45"/>
<line x1="659.20" y1="482.81" x2="659.45" y2="483.57" stroke="#2a2a2a" stroke-width="0.45"/>
<line x1="660.50" y1="482.17" x2="660.88" y2="483.31" stroke="#2a2a2a" stroke-width="0.45"/>
<line x1="661.80" y1="481.52" x2="662.31" y2="483.04" stroke="#2a2a2a" stroke-width="0.45"/>
<line x1="663.10" y1="480.88" x2="663.73" y2="482.78" stroke="#2a2a2a" stroke-width="0.45"/>
<line x1="651.50" y1="478.60" x2="656.60" y2="484.10" stroke="#2a2a2a" stroke-width="0.72"/>
<line x1="638.30" y1="467.10" x2="646.10" y2="465.20" stroke="#2a2a2a" stroke-width="0.72"/>
<line x1="639.73" y1="467.88" x2="645.19" y2="466.55" stroke="#2a2a2a" stroke-width="0.72"/>
<line x1="646.10" y1="465.20" x2="652.30" y2="470.90" stroke="#2a2a2a" stroke-width="0.72"/>
<line x1="652.30" y1="470.90" x2="651.50" y2="478.60" stroke="#2a2a2a" stroke-width="0.72"/>
<line x1="651.08" y1="471.98" x2="650.53" y2="477.29" stroke="#2a2a2a" stroke-width="0.72"/>
<line x1="651.50" y1="478.60" x2="644.10" y2="481.10" stroke="#2a2a2a" stroke-width="0.72"/>
<line x1="644.10" y1="481.10" x2="637.30" y2="475.40" stroke="#2a2a2a" stroke-width="0.72"/>
<line x1="643.89" y1="479.49" x2="638.93" y2="475.33" stroke="#2a2a2a" stroke-width="0.72"/>
<line x1="637.30" y1="475.40" x2="638.30" y2="467.10" stroke="#2a2a2a" stroke-width="0.72"/>
<line x1="621.10" y1="457.40" x2="625.01" y2="453.12" stroke="#2a2a2a" stroke-width="0.72"/>
<line x1="622.72" y1="457.26" x2="625.02" y2="454.75" stroke="#2a2a2a" stroke-width="0.72"/>
<line x1="628.55" y1="452.30" x2="633.40" y2="454.20" stroke="#2a2a2a" stroke-width="0.72"/>
<line x1="633.40" y1="454.20" x2="632.90" y2="462.30" stroke="#2a2a2a" stroke-width="0.72"/>
<line x1="632.23" y1="455.33" x2="631.88" y2="461.03" stroke="#2a2a2a" stroke-width="0.72"/>
<line x1="632.90" y1="462.30" x2="627.52" y2="463.81" stroke="#2a2a2a" stroke-width="0.72"/>
<line x1="624.25" y1="462.53" x2="621.10" y2="457.40" stroke="#2a2a2a" stroke-width="0.72"/>
<line x1="633.40" y1="454.20" x2="641.00" y2="451.00" stroke="#2a2a2a" stroke-width="0.72"/>
<line x1="632.90" y1="462.30" x2="638.30" y2="467.10" stroke="#2a2a2a" stroke-width="0.72"/>
<text x="473.20" y="462.00" font-size="6.3" text-anchor="middle" fill="#fff" stroke="#fff" stroke-width="1.2" stroke-linejoin="round">N</text>
<text x="473.20" y="462.00" font-size="6.3" text-anchor="middle" fill="#000" stroke="#000" stroke-width="0.22">N</text>
<text x="487.20" y="470.10" font-size="6.3" text-anchor="middle" fill="#fff" stroke="#fff" stroke-width="1.2" stroke-linejoin="round">N</text>
<text x="487.20" y="470.10" font-size="6.3" text-anchor="middle" fill="#000" stroke="#000" stroke-width="0.22">N</text>
<text x="515.10" y="470.10" font-size="6.3" text-anchor="middle" fill="#fff" stroke="#fff" stroke-width="1.2" stroke-linejoin="round">F</text>
<text x="515.10" y="470.10" font-size="6.3" text-anchor="middle" fill="#000" stroke="#000" stroke-width="0.22">F</text>
<text x="485.30" y="486.40" font-size="6.3" text-anchor="middle" fill="#fff" stroke="#fff" stroke-width="1.2" stroke-linejoin="round">HN</text>
<text x="485.30" y="486.40" font-size="6.3" text-anchor="middle" fill="#000" stroke="#000" stroke-width="0.22">HN</text>
<text x="528.30" y="486.40" font-size="6.3" text-anchor="middle" fill="#fff" stroke="#fff" stroke-width="1.2" stroke-linejoin="round">N</text>
<text x="528.30" y="486.40" font-size="6.3" text-anchor="middle" fill="#000" stroke="#000" stroke-width="0.22">N</text>
<text x="521.70" y="497.90" font-size="6.3" text-anchor="middle" fill="#fff" stroke="#fff" stroke-width="1.2" stroke-linejoin="round">N</text>
<text x="521.70" y="497.90" font-size="6.3" text-anchor="middle" fill="#000" stroke="#000" stroke-width="0.22">N</text>
<text x="494.30" y="498.10" font-size="6.3" text-anchor="middle" fill="#fff" stroke="#fff" stroke-width="1.2" stroke-linejoin="round">O</text>
<text x="494.30" y="498.10" font-size="6.3" text-anchor="middle" fill="#000" stroke="#000" stroke-width="0.22">O</text>
<text x="459.50" y="509.60" font-size="6.3" text-anchor="middle" fill="#fff" stroke="#fff" stroke-width="1.2" stroke-linejoin="round">F</text>
<text x="459.50" y="509.60" font-size="6.3" text-anchor="middle" fill="#000" stroke="#000" stroke-width="0.22">F</text>
<text x="493.50" y="505.30" font-size="6.3" text-anchor="middle" fill="#fff" stroke="#fff" stroke-width="1.2" stroke-linejoin="round">F</text>
<text x="493.50" y="505.30" font-size="6.3" text-anchor="middle" fill="#000" stroke="#000" stroke-width="0.22">F</text>
<text x="493.50" y="513.90" font-size="6.3" text-anchor="middle" fill="#fff" stroke="#fff" stroke-width="1.2" stroke-linejoin="round">F</text>
<text x="493.50" y="513.90" font-size="6.3" text-anchor="middle" fill="#000" stroke="#000" stroke-width="0.22">F</text>
<text x="486.70" y="517.90" font-size="6.3" text-anchor="middle" fill="#fff" stroke="#fff" stroke-width="1.2" stroke-linejoin="round">F</text>
<text x="486.70" y="517.90" font-size="6.3" text-anchor="middle" fill="#000" stroke="#000" stroke-width="0.22">F</text>
<text x="534.70" y="498.10" font-size="6.3" text-anchor="middle" fill="#fff" stroke="#fff" stroke-width="1.2" stroke-linejoin="round">N</text>
<text x="534.70" y="498.10" font-size="6.3" text-anchor="middle" fill="#000" stroke="#000" stroke-width="0.22">N</text>
<text x="548.70" y="505.70" font-size="6.3" text-anchor="middle" fill="#fff" stroke="#fff" stroke-width="1.2" stroke-linejoin="round">N</text>
<text x="548.70" y="505.70" font-size="6.3" text-anchor="middle" fill="#000" stroke="#000" stroke-width="0.22">N</text>
<text x="555.70" y="517.90" font-size="6.3" text-anchor="middle" fill="#fff" stroke="#fff" stroke-width="1.2" stroke-linejoin="round">O</text>
<text x="555.70" y="517.90" font-size="6.3" text-anchor="middle" fill="#000" stroke="#000" stroke-width="0.22">O</text>
<text x="569.70" y="509.80" font-size="6.3" text-anchor="middle" fill="#fff" stroke="#fff" stroke-width="1.2" stroke-linejoin="round">N</text>
<text x="569.70" y="509.80" font-size="6.3" text-anchor="middle" fill="#000" stroke="#000" stroke-width="0.22">N</text>
<text x="596.50" y="517.50" font-size="6.3" text-anchor="middle" fill="#fff" stroke="#fff" stroke-width="1.2" stroke-linejoin="round">N</text>
<text x="596.50" y="517.50" font-size="6.3" text-anchor="middle" fill="#000" stroke="#000" stroke-width="0.22">N</text>
<text x="610.60" y="509.30" font-size="6.3" text-anchor="middle" fill="#fff" stroke="#fff" stroke-width="1.2" stroke-linejoin="round">N</text>
<text x="610.60" y="509.30" font-size="6.3" text-anchor="middle" fill="#000" stroke="#000" stroke-width="0.22">N</text>
<text x="624.60" y="517.90" font-size="6.3" text-anchor="middle" fill="#fff" stroke="#fff" stroke-width="1.2" stroke-linejoin="round">O</text>
<text x="624.60" y="517.90" font-size="6.3" text-anchor="middle" fill="#000" stroke="#000" stroke-width="0.22">O</text>
<text x="631.60" y="505.50" font-size="6.3" text-anchor="middle" fill="#fff" stroke="#fff" stroke-width="1.2" stroke-linejoin="round">N</text>
<text x="631.60" y="505.50" font-size="6.3" text-anchor="middle" fill="#000" stroke="#000" stroke-width="0.22">N</text>
<text x="631.60" y="500.30" font-size="6.3" text-anchor="middle" fill="#fff" stroke="#fff" stroke-width="1.2" stroke-linejoin="round">H</text>
<text x="631.60" y="500.30" font-size="6.3" text-anchor="middle" fill="#000" stroke="#000" stroke-width="0.22">H</text>
<text x="645.00" y="497.60" font-size="6.3" text-anchor="middle" fill="#fff" stroke="#fff" stroke-width="1.2" stroke-linejoin="round">O</text>
<text x="645.00" y="497.60" font-size="6.3" text-anchor="middle" fill="#000" stroke="#000" stroke-width="0.22">O</text>
<text x="651.40" y="509.30" font-size="6.3" text-anchor="middle" fill="#fff" stroke="#fff" stroke-width="1.2" stroke-linejoin="round">N</text>
<text x="651.40" y="509.30" font-size="6.3" text-anchor="middle" fill="#000" stroke="#000" stroke-width="0.22">N</text>
<text x="668.20" y="526.30" font-size="6.3" text-anchor="middle" fill="#fff" stroke="#fff" stroke-width="1.2" stroke-linejoin="round">OH</text>
<text x="668.20" y="526.30" font-size="6.3" text-anchor="middle" fill="#000" stroke="#000" stroke-width="0.22">OH</text>
<text x="669.10" y="496.30" font-size="6.3" text-anchor="middle" fill="#fff" stroke="#fff" stroke-width="1.2" stroke-linejoin="round">O</text>
<text x="669.10" y="496.30" font-size="6.3" text-anchor="middle" fill="#000" stroke="#000" stroke-width="0.22">O</text>
<text x="653.10" y="492.90" font-size="6.3" text-anchor="middle" fill="#fff" stroke="#fff" stroke-width="1.2" stroke-linejoin="round">HN</text>
<text x="653.10" y="492.90" font-size="6.3" text-anchor="middle" fill="#000" stroke="#000" stroke-width="0.22">HN</text>
<text x="626.50" y="452.90" font-size="6.3" text-anchor="middle" fill="#fff" stroke="#fff" stroke-width="1.2" stroke-linejoin="round">N</text>
<text x="626.50" y="452.90" font-size="6.3" text-anchor="middle" fill="#000" stroke="#000" stroke-width="0.22">N</text>
<text x="625.40" y="465.80" font-size="6.3" text-anchor="middle" fill="#fff" stroke="#fff" stroke-width="1.2" stroke-linejoin="round">S</text>
<text x="625.40" y="465.80" font-size="6.3" text-anchor="middle" fill="#000" stroke="#000" stroke-width="0.22">S</text>
<text x="532.90" y="431.60" font-size="8.41" font-weight="bold" fill="#111" textLength="57.01" lengthAdjust="spacingAndGlyphs">Compound 18</text>
<text x="532.90" y="537.70" font-size="8.28" font-weight="bold" fill="#111" textLength="57.01" lengthAdjust="spacingAndGlyphs">Compound 20</text>
<text x="535.20" y="549.20" font-size="9.10" font-weight="bold" fill="#111" textLength="53.09" lengthAdjust="spacingAndGlyphs">(E3 negative)</text>
<path d="M670,518.4 L675.5,514.7 L675.5,516.6 L684.5,516.6 L684.5,520.4 L675.5,520.4 L675.5,522.2Z" fill="#000"/>
</svg></body></html>
